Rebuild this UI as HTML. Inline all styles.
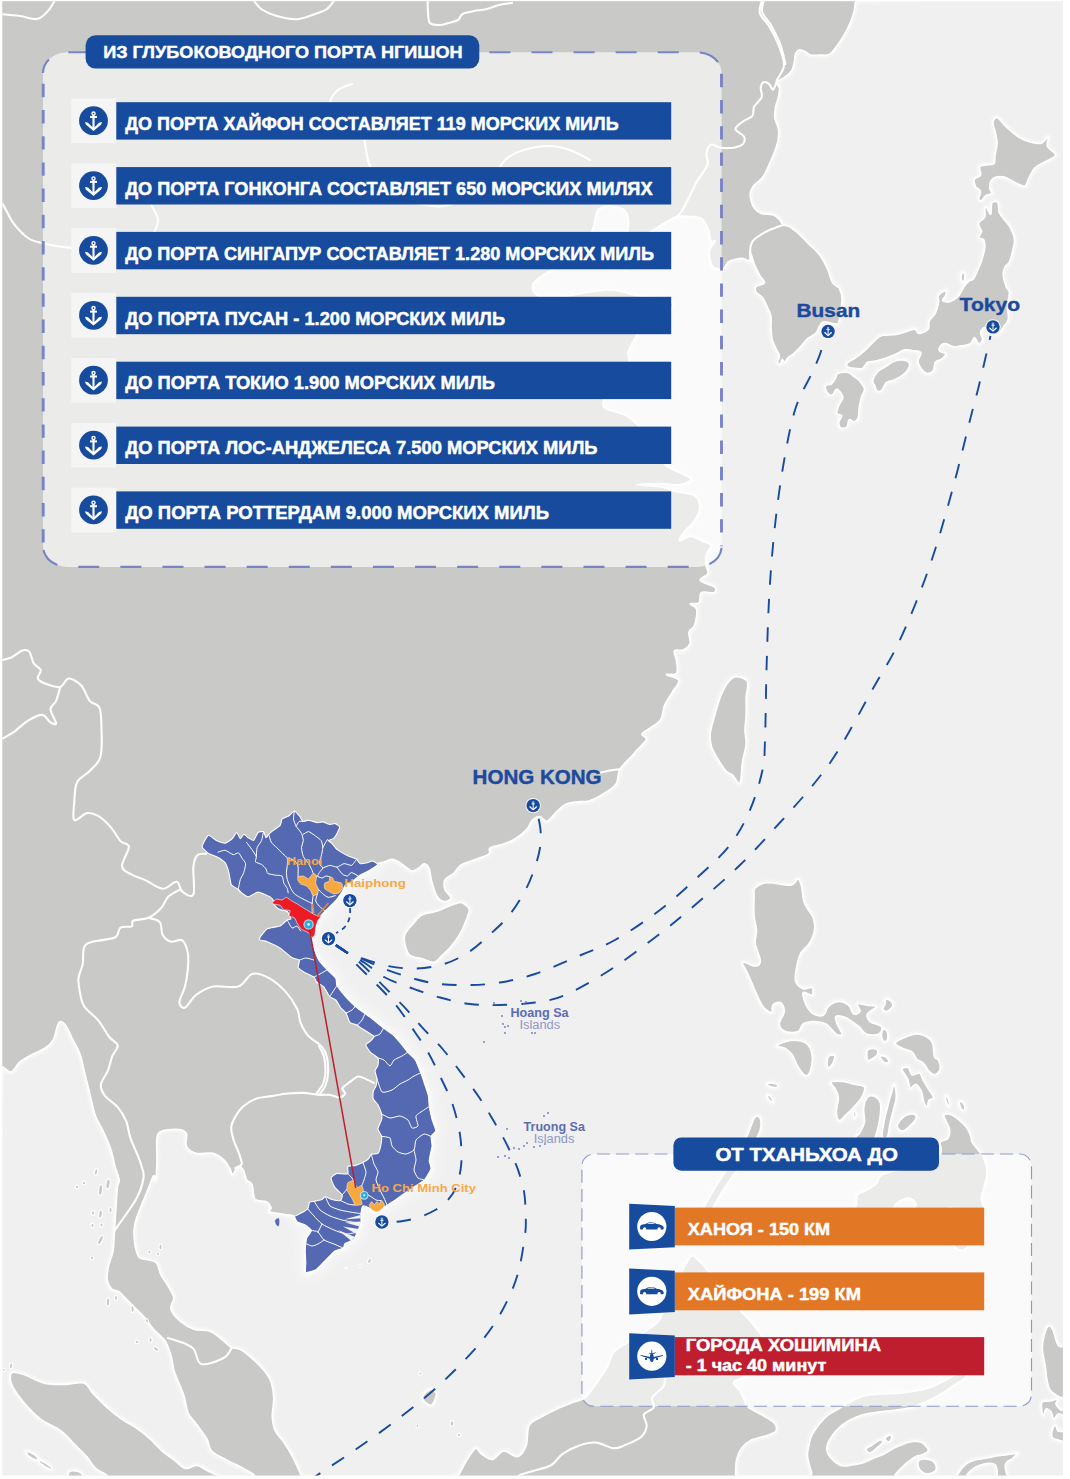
<!DOCTYPE html>
<html><head><meta charset="utf-8"><title>Map</title>
<style>html,body{margin:0;padding:0;background:#fff;}body{width:1070px;height:1479px;overflow:hidden;}svg{display:block;}text{font-family:"Liberation Sans",sans-serif;}</style></head><body>
<svg width="1070" height="1479" viewBox="0 0 1070 1479">
<defs><clipPath id="mapclip"><rect x="2.3" y="1.2" width="1060.6" height="1474.4"/></clipPath>
<filter id="glow" x="-20%" y="-20%" width="140%" height="140%"><feGaussianBlur stdDeviation="5"/></filter>
<filter id="glow2" x="-20%" y="-20%" width="140%" height="140%"><feGaussianBlur stdDeviation="1.6"/></filter>
</defs>
<rect width="1070" height="1479" fill="#fff"/>
<g clip-path="url(#mapclip)">
<rect x="0" y="0" width="1070" height="1479" fill="#f0f0f0"/>
<g fill="none" stroke="#fff" stroke-width="5" opacity="0.55" filter="url(#glow2)" stroke-linejoin="round">
<path d="M853.5,1112.5 C853.8,1111.5 855.1,1111.7 855.5,1112.3 C855.9,1112.9 856.2,1115.0 856.0,1116.0 C855.8,1117.0 854.4,1118.6 854.0,1118.0 C853.6,1117.4 853.2,1113.5 853.5,1112.5Z"/>
<path d="M855.5,-3.0 C998.6,-2.2 855.7,-0.9 855.5,1.5 C855.3,3.9 855.0,7.7 854.2,11.2 C853.4,14.7 852.2,18.3 850.5,22.4 C848.8,26.4 846.2,31.4 843.9,35.5 C841.5,39.5 838.9,43.5 836.4,46.7 C833.9,49.9 831.8,53.2 829.0,54.6 C826.2,56.0 822.7,55.0 819.6,55.1 C816.5,55.2 812.8,55.7 810.3,55.1 C807.8,54.5 806.6,52.2 804.7,51.4 C802.8,50.5 800.6,49.5 799.0,50.0 C797.4,50.5 796.1,52.2 795.3,54.2 C794.5,56.2 795.0,58.9 794.4,61.7 C793.8,64.5 793.3,68.3 791.6,71.0 C789.9,73.7 786.6,75.7 784.1,77.6 C781.6,79.5 777.4,80.5 776.6,82.2 C775.8,83.9 779.1,85.4 779.4,87.9 C779.7,90.4 779.1,94.1 778.5,97.2 C777.9,100.3 776.3,103.1 775.7,106.5 C775.1,109.9 774.3,114.0 774.8,117.8 C775.3,121.5 778.0,125.3 778.5,129.0 C779.0,132.7 778.7,136.5 778.1,140.2 C777.5,143.9 776.3,147.3 774.8,151.4 C773.3,155.5 771.2,160.1 769.2,164.5 C767.2,168.9 765.1,174.2 762.6,177.6 C760.1,181.0 756.2,182.6 754.2,185.0 C752.2,187.4 751.1,189.8 750.5,192.0 C749.9,194.2 749.9,195.3 750.5,198.0 C751.1,200.7 752.3,205.4 754.2,208.0 C756.1,210.6 758.6,212.5 761.7,213.6 C764.8,214.7 770.0,213.6 772.9,214.6 C775.8,215.6 777.7,217.6 779.4,219.3 C781.1,221.0 781.5,223.7 783.2,224.9 C784.9,226.1 787.1,225.1 789.7,226.7 C792.4,228.2 795.7,231.1 799.1,234.2 C802.5,237.3 806.9,242.0 810.3,245.4 C813.7,248.8 816.8,251.1 819.6,254.8 C822.4,258.6 824.9,263.2 827.1,267.9 C829.3,272.6 830.7,279.4 832.7,282.8 C834.7,286.2 837.7,285.6 839.3,288.4 C840.9,291.2 842.0,295.6 842.1,299.6 C842.2,303.7 841.0,308.6 840.2,312.7 C839.4,316.8 840.3,322.3 837.4,323.9 C834.5,325.4 826.6,320.5 823.0,322.0 C819.4,323.5 818.6,330.2 816.0,333.0 C813.4,335.8 810.0,336.7 807.5,338.9 C805.0,341.1 803.3,343.9 801.0,346.4 C798.7,348.9 795.7,351.9 793.5,353.8 C791.3,355.7 789.3,356.2 787.9,357.6 C786.5,359.0 786.0,361.9 785.0,362.2 C784.0,362.5 783.0,359.1 782.2,359.4 C781.4,359.7 781.2,363.6 780.4,364.1 C779.6,364.6 777.8,363.6 777.6,362.2 C777.4,360.8 779.7,358.0 779.4,355.7 C779.1,353.4 776.9,351.0 775.7,348.2 C774.5,345.4 772.8,342.3 772.0,338.9 C771.2,335.5 771.2,331.4 771.0,327.7 C770.8,323.9 771.6,319.8 771.0,316.4 C770.4,313.0 768.7,310.2 767.3,307.1 C765.9,304.0 764.5,300.3 762.6,297.8 C760.7,295.3 757.2,294.0 756.1,292.1 C755.0,290.2 754.7,288.1 756.1,286.5 C757.5,284.9 763.9,284.7 764.5,282.8 C765.1,280.9 761.5,278.4 759.8,275.3 C758.1,272.2 755.8,267.8 754.2,264.1 C752.7,260.4 751.3,253.5 750.5,252.9 C749.7,252.3 750.8,259.5 749.5,260.4 C748.2,261.3 745.3,258.7 743.0,258.5 C740.7,258.3 738.0,258.8 735.5,259.4 C733.0,260.0 730.0,260.6 728.0,262.2 C726.0,263.8 725.6,267.8 723.4,268.8 C721.2,269.8 717.1,268.9 715.0,268.0 C712.9,267.1 711.9,266.6 711.0,263.6 C710.1,260.6 709.0,253.8 709.7,250.0 C710.4,246.2 715.1,242.5 715.3,241.0 C715.5,239.5 712.0,242.8 710.9,241.0 C709.8,239.2 710.1,233.6 708.6,229.9 C707.1,226.2 704.9,220.9 701.9,218.7 C698.9,216.5 694.8,216.9 690.7,216.5 C686.6,216.1 681.0,215.8 677.2,216.5 C673.4,217.2 671.4,219.1 668.0,221.0 C664.6,222.9 661.8,224.7 657.0,227.7 C652.2,230.7 643.8,235.3 639.0,239.0 C634.2,242.7 630.2,245.0 628.0,250.0 C625.8,255.0 627.3,267.0 625.6,269.0 C623.9,271.0 618.8,266.0 618.0,262.0 C617.2,258.0 619.3,250.3 621.0,245.0 C622.7,239.7 627.2,235.5 628.0,230.0 C628.8,224.5 628.7,216.0 626.0,212.0 C623.3,208.0 616.7,206.3 612.0,206.0 C607.3,205.7 601.0,206.8 598.0,210.0 C595.0,213.2 595.7,220.0 594.0,225.0 C592.3,230.0 591.7,234.5 588.0,240.0 C584.3,245.5 578.7,252.7 572.0,258.0 C565.3,263.3 554.5,267.7 548.0,272.0 C541.5,276.3 534.7,280.0 533.0,284.0 C531.3,288.0 533.5,293.8 538.0,296.0 C542.5,298.2 551.3,297.7 560.0,297.0 C568.7,296.3 581.3,293.2 590.0,292.0 C598.7,290.8 603.7,289.3 612.0,290.0 C620.3,290.7 630.7,294.3 640.0,296.0 C649.3,297.7 662.7,298.0 668.0,300.0 C673.3,302.0 674.2,305.0 672.0,308.0 C669.8,311.0 660.3,314.3 655.0,318.0 C649.7,321.7 643.4,326.5 640.0,330.0 C636.6,333.5 636.6,335.3 634.6,339.0 C632.6,342.7 628.8,348.7 627.9,352.4 C627.0,356.1 630.0,357.1 629.0,361.4 C628.0,365.7 625.5,372.9 622.0,378.0 C618.5,383.1 611.1,388.0 608.0,392.0 C604.9,396.0 603.6,399.1 603.2,401.8 C602.8,404.6 601.7,406.3 605.4,408.5 C609.1,410.7 620.4,412.6 625.6,415.2 C630.8,417.8 633.1,420.4 636.8,424.2 C640.5,428.0 644.5,433.4 648.0,438.0 C651.5,442.6 655.0,447.4 658.0,452.0 C661.0,456.6 661.3,461.7 666.0,465.7 C670.7,469.7 682.1,473.4 686.2,475.8 C690.3,478.2 691.8,478.8 690.7,480.3 C689.6,481.8 684.3,484.2 679.4,484.8 C674.5,485.4 668.6,483.7 661.5,483.7 C654.4,483.7 636.8,484.2 636.8,484.8 C636.8,485.4 655.1,485.9 661.5,487.0 C667.9,488.1 669.4,490.0 675.0,491.5 C680.6,493.0 691.1,493.0 695.2,496.0 C699.3,499.0 700.0,504.9 699.6,509.4 C699.2,513.9 695.5,519.1 692.9,522.9 C690.3,526.6 686.1,528.9 683.9,531.9 C681.6,534.9 678.3,540.1 679.4,540.9 C680.5,541.6 687.0,536.4 690.7,536.4 C694.5,536.4 698.5,539.4 701.9,540.9 C705.3,542.4 710.1,543.1 710.9,545.3 C711.6,547.5 707.2,551.1 706.4,554.3 C705.5,557.5 705.5,561.5 705.8,564.7 C706.1,567.9 708.9,571.0 708.0,573.6 C707.1,576.2 699.1,578.1 700.2,580.4 C701.3,582.6 712.5,585.0 714.8,587.1 C717.0,589.2 716.0,591.8 713.7,592.7 C711.5,593.6 703.7,591.0 701.3,592.7 C698.9,594.4 701.0,600.9 699.1,602.8 C697.2,604.7 690.5,602.8 690.1,603.9 C689.7,605.0 696.0,606.0 696.8,609.5 C697.5,613.0 695.9,621.5 694.6,625.2 C693.3,629.0 689.8,629.0 689.0,632.0 C688.2,635.0 691.0,640.2 690.1,643.2 C689.2,646.2 686.0,648.6 683.4,649.9 C680.8,651.2 675.5,649.1 674.4,651.0 C673.3,652.9 676.2,657.4 676.6,661.1 C677.0,664.9 678.3,671.2 676.6,673.5 C674.9,675.8 666.1,673.5 666.5,674.6 C666.9,675.7 677.9,677.2 678.9,680.2 C679.9,683.2 674.6,688.2 672.2,692.5 C669.8,696.8 666.2,701.5 664.3,706.0 C662.4,710.5 663.3,715.7 660.9,719.4 C658.5,723.1 652.9,726.0 649.7,728.4 C646.5,730.8 642.5,732.1 641.9,734.0 C641.3,735.9 647.3,736.8 646.4,739.6 C645.5,742.4 638.5,748.3 636.3,750.8 C634.1,753.3 636.0,751.5 633.3,754.6 C630.6,757.7 622.7,764.4 619.9,769.2 C617.1,774.1 618.9,779.7 616.3,783.7 C613.7,787.8 608.5,790.6 604.1,793.5 C599.7,796.4 594.5,799.4 589.6,800.8 C584.8,802.2 579.1,801.4 575.0,802.0 C570.9,802.6 568.5,802.6 565.2,804.4 C562.0,806.2 558.5,810.1 555.5,812.9 C552.5,815.7 549.6,820.8 547.0,821.4 C544.4,822.0 542.1,816.7 539.7,816.5 C537.3,816.3 534.6,818.0 532.4,820.2 C530.2,822.4 529.4,826.7 526.4,829.9 C523.4,833.1 518.2,837.2 514.2,839.6 C510.2,842.0 506.2,843.1 502.1,844.5 C498.1,845.9 492.1,846.5 489.9,848.1 C487.7,849.7 491.5,852.2 488.7,854.2 C485.9,856.2 477.5,858.5 472.9,860.3 C468.2,862.1 464.0,863.0 460.8,865.2 C457.6,867.4 456.1,871.3 453.5,873.7 C450.9,876.1 446.4,877.1 445.0,879.7 C443.6,882.3 444.0,886.5 445.0,889.5 C446.0,892.5 451.2,896.0 451.0,898.0 C450.8,900.0 446.1,902.0 443.7,901.6 C441.3,901.2 438.5,899.0 436.5,895.5 C434.5,892.0 432.8,885.4 431.6,880.9 C430.4,876.4 430.4,871.6 429.2,868.8 C428.0,866.0 425.9,864.1 424.3,863.9 C422.7,863.7 421.4,866.4 419.4,867.6 C417.4,868.8 414.6,871.4 412.2,871.2 C409.8,871.0 407.3,868.0 404.9,866.4 C402.5,864.8 400.2,862.7 398.0,861.5 C395.8,860.3 394.0,859.2 391.7,859.3 C389.4,859.4 386.4,861.2 384.0,862.0 C381.6,862.8 379.5,862.7 377.1,864.1 C374.7,865.5 372.6,868.4 369.8,870.2 C367.0,872.0 362.9,873.3 360.1,875.1 C357.3,876.9 355.2,879.5 352.8,881.1 C350.4,882.7 347.3,883.0 345.5,884.8 C343.7,886.6 343.5,889.5 341.9,892.1 C340.3,894.7 337.8,898.2 335.8,900.6 C333.8,903.0 331.9,904.4 329.7,906.6 C327.5,908.8 324.4,911.5 322.4,913.9 C320.4,916.3 318.8,918.4 317.6,921.2 C316.4,924.0 316.2,928.1 315.2,930.9 C314.2,933.7 311.7,935.4 311.5,938.2 C311.3,941.0 312.7,944.2 313.9,947.9 C315.1,951.5 316.6,956.5 318.8,960.1 C321.0,963.8 324.5,966.8 327.3,969.8 C330.1,972.8 334.2,975.7 335.8,978.3 C337.4,980.9 335.4,982.5 337.0,985.6 C338.6,988.7 342.5,993.2 345.5,996.6 C348.5,1000.0 351.9,1003.5 355.2,1006.3 C358.4,1009.1 362.2,1011.5 365.0,1013.6 C367.8,1015.7 369.1,1016.3 372.2,1018.7 C375.3,1021.1 380.1,1025.3 383.5,1028.0 C386.9,1030.7 390.0,1032.1 392.8,1034.6 C395.6,1037.1 397.8,1040.0 400.3,1043.0 C402.8,1046.0 405.3,1049.5 407.8,1052.3 C410.3,1055.1 413.0,1056.4 415.2,1059.8 C417.4,1063.2 419.2,1068.9 420.8,1072.9 C422.4,1077.0 423.4,1080.4 424.6,1084.1 C425.9,1087.8 427.5,1091.6 428.3,1095.3 C429.1,1099.0 428.7,1102.5 429.3,1106.5 C429.9,1110.5 431.0,1115.5 432.1,1119.6 C433.2,1123.6 436.0,1128.0 435.8,1130.8 C435.6,1133.6 431.7,1133.9 431.1,1136.4 C430.5,1138.9 432.2,1142.7 432.1,1145.8 C432.0,1148.9 430.7,1152.5 430.2,1155.1 C429.7,1157.7 429.1,1158.9 429.2,1161.2 C429.3,1163.5 431.8,1165.6 431.0,1168.7 C430.2,1171.8 427.4,1176.8 424.5,1179.9 C421.6,1183.0 417.0,1184.9 413.3,1187.4 C409.6,1189.9 405.2,1192.7 402.1,1194.9 C399.0,1197.1 397.1,1198.8 394.6,1200.5 C392.1,1202.2 389.3,1203.7 387.1,1205.1 C384.9,1206.5 383.4,1207.8 381.5,1208.9 C379.6,1210.0 377.9,1211.9 375.9,1211.7 C373.9,1211.5 371.5,1208.9 369.3,1207.9 C367.1,1207.0 364.2,1205.0 362.8,1206.0 C361.4,1207.0 361.2,1210.8 360.9,1213.6 C360.6,1216.4 361.5,1219.8 360.9,1222.9 C360.3,1226.0 358.4,1229.4 357.2,1232.2 C356.0,1235.0 355.5,1237.8 353.5,1239.7 C351.5,1241.6 346.7,1242.1 345.0,1243.5 C343.3,1244.9 344.9,1246.9 343.2,1248.1 C341.5,1249.3 337.1,1249.5 334.8,1250.9 C332.5,1252.3 331.1,1254.6 329.2,1256.5 C327.3,1258.4 325.8,1259.9 323.6,1262.1 C321.4,1264.3 319.1,1267.9 316.1,1269.6 C313.1,1271.3 307.5,1273.7 305.8,1272.4 C304.1,1271.2 305.9,1265.7 305.8,1262.1 C305.7,1258.5 305.2,1254.0 305.2,1250.9 C305.2,1247.8 305.6,1245.7 305.8,1243.5 C306.1,1241.3 305.8,1240.1 306.7,1237.9 C307.6,1235.7 311.7,1232.6 311.4,1230.4 C311.1,1228.2 307.2,1226.2 304.9,1224.8 C302.6,1223.4 299.1,1223.4 297.4,1222.0 C295.7,1220.6 296.7,1217.7 294.6,1216.4 C292.5,1215.2 287.6,1215.0 285.0,1214.5 C282.4,1214.0 281.4,1214.1 278.7,1213.6 C276.0,1213.1 270.3,1212.6 269.0,1211.7 C267.7,1210.8 271.4,1209.6 271.0,1208.0 C270.6,1206.4 269.2,1203.4 266.5,1201.9 C263.8,1200.4 257.3,1201.9 254.9,1199.0 C252.5,1196.1 253.4,1187.7 252.0,1184.5 C250.6,1181.3 248.1,1182.4 246.7,1180.0 C245.2,1177.6 244.7,1172.2 243.3,1170.0 C241.9,1167.8 240.1,1165.8 238.3,1166.5 C236.5,1167.2 234.1,1174.0 232.7,1174.4 C231.3,1174.8 231.3,1171.1 229.9,1168.8 C228.5,1166.5 227.1,1163.0 224.3,1160.4 C221.5,1157.8 217.8,1154.6 213.1,1153.4 C208.4,1152.2 200.6,1154.6 196.2,1153.4 C191.8,1152.2 188.0,1149.6 186.4,1146.3 C184.8,1143.0 187.6,1136.5 186.4,1133.7 C185.2,1130.9 183.4,1130.0 179.4,1129.5 C175.4,1129.0 166.3,1129.5 162.6,1130.9 C158.9,1132.3 157.9,1133.0 157.0,1137.9 C156.1,1142.8 157.2,1153.4 157.0,1160.4 C156.8,1167.4 156.2,1177.4 155.6,1180.0 C155.0,1182.6 154.8,1174.1 153.5,1175.8 C152.2,1177.5 149.9,1185.0 147.7,1190.3 C145.5,1195.6 142.7,1201.9 140.5,1207.7 C138.3,1213.5 135.7,1219.2 134.7,1225.0 C133.7,1230.8 134.0,1237.1 134.7,1242.4 C135.4,1247.7 136.8,1254.0 139.0,1256.9 C141.2,1259.8 144.8,1258.8 147.7,1259.8 C150.6,1260.8 154.2,1260.3 156.4,1262.7 C158.6,1265.1 158.9,1270.4 160.8,1274.3 C162.7,1278.2 165.8,1282.0 168.0,1285.9 C170.2,1289.8 173.3,1293.7 173.8,1297.5 C174.3,1301.3 169.9,1305.2 170.9,1309.0 C171.9,1312.8 175.7,1317.2 179.6,1320.6 C183.5,1324.0 189.3,1327.6 194.1,1329.3 C198.9,1331.0 204.2,1329.3 208.6,1330.8 C212.9,1332.2 216.6,1335.3 220.2,1338.0 C223.8,1340.7 226.9,1344.8 230.3,1346.7 C233.7,1348.6 236.8,1347.7 240.4,1349.6 C244.0,1351.5 248.1,1354.9 252.0,1358.3 C255.9,1361.7 260.5,1366.0 263.6,1369.9 C266.8,1373.8 269.2,1376.7 270.9,1381.5 C272.6,1386.3 273.6,1393.1 273.8,1398.9 C274.0,1404.7 272.1,1410.9 272.3,1416.2 C272.5,1421.5 273.3,1426.4 275.2,1430.7 C277.1,1435.0 281.0,1438.0 283.9,1442.3 C286.8,1446.6 289.7,1451.2 292.6,1456.8 C295.5,1462.3 299.6,1471.4 301.3,1475.6 C303.0,1479.8 310.4,1480.9 303.0,1482.0 C295.6,1483.1 265.0,1483.1 257.0,1482.0 C249.0,1480.9 257.2,1477.9 254.9,1475.6 C252.6,1473.3 248.1,1471.1 243.3,1468.4 C238.5,1465.8 231.3,1462.6 226.0,1459.7 C220.7,1456.8 214.7,1454.4 211.5,1451.0 C208.3,1447.6 209.5,1443.8 207.1,1439.4 C204.7,1435.1 200.1,1429.2 197.0,1424.9 C193.9,1420.6 190.5,1418.1 188.3,1413.3 C186.1,1408.5 185.7,1401.3 184.0,1396.0 C182.3,1390.7 179.9,1385.8 178.2,1381.5 C176.5,1377.2 175.0,1374.2 173.8,1369.9 C172.6,1365.6 172.4,1360.2 170.9,1355.4 C169.4,1350.6 168.0,1345.2 165.1,1340.9 C162.2,1336.6 156.9,1333.2 153.5,1329.3 C150.1,1325.4 147.7,1321.1 144.8,1317.7 C141.9,1314.3 139.1,1311.9 136.2,1309.0 C133.3,1306.1 130.4,1303.3 127.5,1300.4 C124.6,1297.5 121.5,1293.6 118.8,1291.7 C116.1,1289.8 113.4,1290.7 111.5,1288.8 C109.6,1286.9 107.7,1284.0 107.2,1280.1 C106.7,1276.2 107.6,1270.4 108.6,1265.6 C109.6,1260.8 112.0,1256.9 113.0,1251.1 C114.0,1245.3 113.9,1238.0 114.4,1230.8 C114.9,1223.6 115.4,1214.9 115.9,1207.7 C116.4,1200.5 116.8,1192.0 117.3,1187.4 C117.8,1182.8 119.6,1183.6 119.2,1180.0 C118.8,1176.4 116.3,1171.2 114.9,1166.0 C113.5,1160.8 112.6,1154.7 110.7,1149.1 C108.8,1143.5 106.3,1137.9 103.7,1132.3 C101.1,1126.7 97.6,1122.0 95.3,1115.5 C93.0,1109.0 91.6,1100.6 89.7,1093.1 C87.8,1085.6 85.7,1077.1 84.1,1070.6 C82.5,1064.0 81.8,1058.9 79.9,1053.8 C78.0,1048.7 75.2,1044.5 72.9,1039.8 C70.6,1035.1 68.0,1028.8 65.9,1025.8 C63.8,1022.8 61.7,1021.6 60.3,1021.6 C58.9,1021.6 58.7,1022.8 57.5,1025.8 C56.3,1028.8 55.4,1036.1 53.3,1039.8 C51.2,1043.5 48.6,1045.6 44.9,1048.2 C41.1,1050.8 35.0,1052.9 30.8,1055.2 C26.6,1057.5 22.9,1059.4 19.6,1062.2 C16.3,1065.0 14.1,1071.3 11.2,1072.0 C8.3,1072.7 4.6,1067.9 2.2,1066.4 C-0.2,1064.9 -2.1,1241.2 -3.0,1063.0 C-3.9,884.8 -146.1,174.7 -3.0,-3.0 C140.1,-180.7 712.4,-3.8 855.5,-3.0Z"/>
<path d="M735.0,676.8 C738.4,676.4 745.4,677.9 747.3,681.3 C749.2,684.7 746.4,691.4 746.2,697.0 C746.0,702.6 746.4,709.4 746.2,715.0 C746.0,720.6 745.0,725.9 745.0,730.7 C745.0,735.6 746.6,738.9 746.2,744.1 C745.8,749.3 743.5,755.5 742.5,762.0 C741.5,768.5 741.7,780.8 740.0,783.0 C738.3,785.2 734.8,777.0 732.5,775.0 C730.2,773.0 728.6,773.9 726.0,771.0 C723.4,768.1 719.4,761.7 717.0,757.6 C714.6,753.5 712.5,750.5 711.4,746.4 C710.3,742.3 709.7,738.1 710.3,732.9 C710.9,727.7 713.1,721.0 714.8,715.0 C716.5,709.0 718.3,702.2 720.4,697.0 C722.5,691.8 724.7,687.0 727.1,683.6 C729.5,680.2 731.6,677.2 735.0,676.8Z"/>
<path d="M465.6,905.2 C467.0,906.5 469.5,906.9 469.3,910.1 C469.1,913.4 466.2,920.2 464.4,924.7 C462.6,929.2 460.5,933.1 458.3,936.8 C456.1,940.4 453.8,943.4 451.0,946.6 C448.2,949.9 444.1,953.7 441.3,956.3 C438.5,958.9 437.2,962.0 434.0,962.4 C430.8,962.8 425.9,959.9 421.9,958.7 C417.8,957.5 412.5,957.5 409.7,955.1 C406.9,952.7 405.7,947.6 404.9,944.1 C404.1,940.6 403.7,937.6 404.9,934.4 C406.1,931.2 409.4,927.9 412.2,924.7 C415.0,921.5 417.8,917.2 421.9,915.0 C425.9,912.8 431.6,912.9 436.5,911.3 C441.4,909.7 446.9,906.7 451.0,905.2 C455.1,903.7 458.4,902.3 460.8,902.3 C463.2,902.3 464.2,903.9 465.6,905.2Z"/>
<path d="M997.0,117.5 C999.2,118.2 1002.7,123.5 1006.3,126.7 C1009.9,129.9 1014.5,134.4 1018.6,137.0 C1022.7,139.6 1027.1,141.1 1030.9,142.1 C1034.7,143.1 1038.3,144.0 1041.2,143.2 C1044.1,142.3 1047.4,136.5 1048.4,137.0 C1049.4,137.5 1046.2,143.3 1047.4,146.3 C1048.6,149.3 1055.9,152.5 1055.6,155.1 C1055.2,157.7 1048.7,159.6 1045.3,161.7 C1041.9,163.8 1037.7,165.1 1035.0,167.8 C1032.3,170.5 1030.6,175.0 1028.9,178.1 C1027.2,181.2 1027.2,185.6 1024.8,186.3 C1022.4,187.0 1017.9,183.7 1014.5,182.2 C1011.1,180.7 1007.3,177.9 1004.2,177.1 C1001.1,176.2 998.2,176.4 996.0,177.1 C993.8,177.8 991.8,179.3 990.8,181.2 C989.8,183.1 989.6,186.3 989.8,188.4 C990.0,190.5 992.6,192.3 991.9,193.5 C991.2,194.7 987.4,194.4 985.7,195.6 C984.0,196.8 982.8,200.2 981.6,200.7 C980.4,201.2 978.7,200.2 978.5,198.7 C978.3,197.2 981.1,193.6 980.6,191.5 C980.1,189.4 976.4,188.4 975.4,186.3 C974.4,184.2 973.5,181.1 974.4,179.2 C975.3,177.3 979.8,177.1 980.6,175.0 C981.5,172.9 978.6,168.5 979.5,166.8 C980.4,165.1 983.3,165.3 985.7,164.8 C988.1,164.3 992.4,165.2 993.9,163.7 C995.4,162.1 994.4,158.9 994.9,155.5 C995.4,152.1 997.0,147.3 997.0,143.2 C997.0,139.1 995.6,134.2 994.9,130.8 C994.2,127.4 992.5,124.8 992.9,122.6 C993.2,120.4 994.8,116.8 997.0,117.5Z"/>
<path d="M986.7,207.9 C987.7,208.8 989.9,214.9 990.8,214.1 C991.7,213.2 990.7,204.7 991.9,202.8 C993.1,200.9 996.8,201.3 998.0,202.8 C999.2,204.3 998.2,209.4 999.1,212.0 C1000.0,214.6 1001.3,215.6 1003.2,218.2 C1005.1,220.8 1008.5,223.9 1010.4,227.5 C1012.3,231.1 1014.2,235.7 1014.5,239.8 C1014.8,243.9 1013.3,248.3 1012.4,252.1 C1011.5,255.9 1010.5,260.0 1009.3,262.4 C1008.1,264.8 1006.2,264.4 1005.2,266.5 C1004.2,268.6 1003.0,271.4 1003.2,274.8 C1003.4,278.2 1005.3,284.2 1006.3,287.1 C1007.3,290.0 1009.2,289.0 1009.4,292.3 C1009.6,295.6 1007.6,302.2 1007.4,306.7 C1007.2,311.2 1009.1,315.7 1008.4,319.1 C1007.7,322.5 1005.2,324.7 1003.3,327.3 C1001.4,329.9 999.5,333.8 997.1,334.5 C994.7,335.2 991.0,332.6 988.9,331.4 C986.8,330.2 986.2,327.1 984.8,327.3 C983.4,327.5 981.0,330.3 980.6,332.4 C980.2,334.4 983.0,337.7 982.7,339.6 C982.4,341.5 980.0,344.0 978.6,343.7 C977.2,343.4 975.9,337.6 974.5,337.6 C973.1,337.6 972.5,342.3 970.4,343.7 C968.3,345.1 964.9,345.3 962.1,345.8 C959.4,346.3 956.6,347.2 953.9,346.8 C951.2,346.4 947.9,343.9 945.7,343.7 C943.5,343.5 941.6,344.6 940.6,345.8 C939.6,347.0 938.6,349.5 939.5,350.9 C940.4,352.3 945.4,352.6 945.7,354.0 C946.1,355.4 943.3,357.8 941.6,359.2 C939.9,360.6 936.8,360.3 935.4,362.2 C934.0,364.1 934.8,368.6 933.4,370.5 C932.0,372.4 929.3,373.9 927.2,373.5 C925.1,373.1 922.5,370.4 921.0,368.4 C919.5,366.3 917.9,363.8 917.9,361.2 C917.9,358.6 921.5,354.7 921.0,353.0 C920.5,351.3 917.6,351.4 914.9,350.9 C912.2,350.4 907.7,349.4 904.6,349.9 C901.5,350.4 899.4,352.6 896.3,354.0 C893.2,355.4 889.5,356.9 886.1,358.1 C882.7,359.3 878.9,360.5 875.8,361.2 C872.7,361.9 869.8,361.0 867.6,362.2 C865.4,363.4 864.6,367.4 862.4,368.4 C860.2,369.4 856.8,368.8 854.2,368.4 C851.6,368.0 848.0,367.3 847.0,366.3 C846.0,365.3 846.6,363.6 848.0,362.2 C849.4,360.8 852.3,360.2 855.2,358.1 C858.1,356.1 862.1,353.0 865.5,349.9 C868.9,346.8 873.0,342.0 875.8,339.6 C878.5,337.2 878.6,336.4 882.0,335.5 C885.4,334.6 892.2,335.2 896.3,334.5 C900.4,333.8 903.5,332.3 906.6,331.4 C909.7,330.5 912.8,328.9 914.9,329.3 C917.0,329.7 916.8,333.5 919.0,333.5 C921.2,333.5 926.5,331.4 928.2,329.3 C929.9,327.2 928.0,323.8 929.2,321.1 C930.4,318.4 933.9,316.0 935.4,312.9 C936.9,309.8 938.0,305.5 938.5,302.6 C939.0,299.7 937.3,297.4 938.5,295.4 C939.7,293.3 944.5,290.3 945.7,290.3 C946.9,290.3 946.2,293.7 945.7,295.4 C945.2,297.1 941.9,299.6 942.6,300.6 C943.3,301.6 947.2,302.3 949.8,301.6 C952.4,300.9 955.6,299.0 958.0,296.4 C960.4,293.8 962.4,288.8 964.2,286.2 C966.0,283.6 967.5,282.2 969.0,281.0 C970.5,279.8 972.0,280.6 973.4,278.9 C974.8,277.2 976.1,273.7 977.5,270.6 C978.9,267.5 980.4,264.2 981.6,260.4 C982.8,256.6 984.4,251.4 984.7,248.0 C985.0,244.6 984.6,241.5 983.6,239.8 C982.6,238.1 978.8,239.1 978.5,237.7 C978.2,236.3 981.6,234.0 981.6,231.6 C981.6,229.2 978.0,225.8 978.5,223.4 C979.0,221.0 983.7,219.6 984.7,217.2 C985.7,214.8 984.4,210.6 984.7,209.0 C985.0,207.4 985.7,207.1 986.7,207.9Z"/>
<path d="M872.7,380.7 C873.2,378.3 875.6,373.9 877.8,371.5 C880.0,369.1 883.4,368.0 886.1,366.3 C888.9,364.6 891.2,362.2 894.3,361.2 C897.4,360.2 902.0,359.7 904.6,360.2 C907.2,360.7 909.4,362.4 909.7,364.3 C910.0,366.2 908.1,369.4 906.6,371.5 C905.1,373.6 902.9,375.1 900.5,376.6 C898.1,378.1 894.6,379.7 892.2,380.7 C889.8,381.7 887.8,381.2 886.1,382.8 C884.4,384.4 883.5,388.6 882.0,390.0 C880.5,391.4 878.0,391.7 876.8,391.0 C875.6,390.3 875.5,387.6 874.8,385.9 C874.1,384.2 872.2,383.1 872.7,380.7Z"/>
<path d="M837.8,373.5 C839.8,372.6 845.3,372.0 848.0,372.5 C850.7,373.0 852.3,375.2 854.2,376.6 C856.1,378.0 857.6,378.6 859.3,380.7 C861.0,382.8 864.1,386.2 864.5,389.0 C864.9,391.8 862.3,394.1 861.4,397.2 C860.5,400.3 859.8,404.1 859.3,407.5 C858.8,410.9 859.1,415.4 858.3,417.8 C857.4,420.2 855.7,421.6 854.2,421.9 C852.7,422.2 850.3,418.9 849.1,419.8 C847.9,420.7 848.4,425.6 847.0,427.0 C845.6,428.4 842.2,428.9 840.8,428.0 C839.4,427.1 838.6,423.9 838.8,421.9 C839.0,419.8 842.2,417.1 841.9,415.7 C841.5,414.3 837.2,415.3 836.7,413.6 C836.2,411.9 837.8,408.1 838.8,405.4 C839.8,402.7 843.2,399.9 842.9,397.2 C842.5,394.5 838.4,389.4 836.7,389.0 C835.0,388.6 834.1,394.4 832.6,395.1 C831.1,395.8 828.7,394.6 827.5,393.1 C826.3,391.6 824.7,387.4 825.4,385.9 C826.1,384.3 829.9,385.2 831.6,383.8 C833.3,382.4 834.7,379.4 835.7,377.7 C836.7,376.0 835.8,374.4 837.8,373.5Z"/>
<path d="M963.0,271.7 C963.6,272.0 964.9,274.3 965.0,276.0 C965.1,277.7 964.2,281.5 963.5,282.0 C962.8,282.5 961.3,280.3 961.0,279.0 C960.7,277.7 961.2,275.2 961.5,274.0 C961.8,272.8 962.4,271.4 963.0,271.7Z"/>
<path d="M755.2,887.8 C757.5,885.3 761.9,883.1 767.8,882.7 C773.7,882.3 785.5,885.8 790.6,885.2 C795.7,884.6 796.2,878.5 798.1,878.9 C800.0,879.3 800.9,883.8 801.9,887.8 C802.9,891.8 802.5,897.9 804.4,902.9 C806.3,907.9 811.6,913.4 813.3,918.0 C815.0,922.6 815.1,926.5 814.5,930.7 C813.9,934.9 811.8,939.5 809.5,943.3 C807.2,947.1 802.8,949.6 800.7,953.4 C798.6,957.2 797.8,961.4 796.9,966.0 C796.0,970.6 794.5,977.3 795.6,981.1 C796.7,984.9 800.5,987.7 803.2,988.7 C805.9,989.8 810.5,986.4 812.0,987.4 C813.5,988.4 813.5,994.1 812.0,995.0 C810.5,995.9 804.2,991.0 803.2,992.5 C802.2,994.0 804.0,1000.2 805.7,1003.8 C807.4,1007.4 810.3,1012.0 813.3,1013.9 C816.2,1015.8 820.9,1016.5 823.4,1015.2 C825.9,1014.0 825.9,1008.7 828.4,1006.4 C830.9,1004.1 835.1,1001.5 838.5,1001.3 C841.9,1001.1 846.1,1003.0 848.6,1005.1 C851.1,1007.2 851.7,1012.9 853.6,1013.9 C855.5,1014.9 859.4,1013.1 860.0,1011.4 C860.6,1009.7 856.4,1004.8 857.4,1003.8 C858.4,1002.8 863.1,1004.7 866.3,1005.1 C869.5,1005.5 876.2,1004.9 876.4,1006.4 C876.6,1007.9 868.6,1011.4 867.5,1013.9 C866.4,1016.4 867.7,1019.4 870.0,1021.5 C872.3,1023.6 879.9,1024.4 881.4,1026.5 C882.9,1028.6 881.4,1032.8 878.9,1034.1 C876.4,1035.4 869.7,1035.4 866.3,1034.1 C862.9,1032.8 862.1,1029.2 858.7,1026.5 C855.3,1023.8 849.9,1019.4 846.1,1017.7 C842.3,1016.0 837.5,1015.4 836.0,1016.4 C834.5,1017.4 836.2,1021.0 837.2,1024.0 C838.2,1027.0 842.5,1032.4 842.3,1034.1 C842.1,1035.8 838.7,1035.8 836.0,1034.1 C833.3,1032.4 829.7,1026.1 825.9,1024.0 C822.1,1021.9 817.1,1021.5 813.3,1021.5 C809.5,1021.5 805.7,1022.3 803.2,1024.0 C800.7,1025.7 801.1,1030.3 798.1,1031.6 C795.1,1032.9 788.6,1032.9 785.5,1031.6 C782.4,1030.3 779.4,1027.4 779.2,1024.0 C779.0,1020.6 784.1,1015.0 784.3,1011.4 C784.5,1007.8 782.4,1003.6 780.5,1002.6 C778.6,1001.6 774.4,1003.4 772.9,1005.1 C771.4,1006.8 773.3,1012.5 771.6,1012.7 C769.9,1012.9 765.5,1010.0 762.8,1006.4 C760.1,1002.8 757.7,996.7 755.2,991.2 C752.7,985.7 749.8,978.4 747.7,973.6 C745.6,968.8 741.4,963.5 742.6,962.2 C743.9,960.9 752.2,966.2 755.2,966.0 C758.2,965.8 760.3,964.7 760.3,960.9 C760.3,957.1 755.8,948.3 755.2,943.3 C754.6,938.3 756.7,935.3 756.5,930.7 C756.3,926.1 754.4,921.0 754.0,915.5 C753.6,910.0 753.8,902.5 754.0,897.9 C754.2,893.3 752.9,890.3 755.2,887.8Z"/>
<path d="M776.7,1045.5 C777.8,1044.2 785.8,1040.8 790.6,1040.4 C795.4,1040.0 802.1,1040.6 805.7,1042.9 C809.3,1045.2 811.1,1049.9 812.0,1054.3 C812.9,1058.7 811.8,1065.8 810.8,1069.4 C809.8,1073.0 807.8,1076.1 805.7,1075.7 C803.6,1075.3 800.4,1070.5 798.1,1066.9 C795.8,1063.3 794.1,1057.5 791.8,1054.3 C789.5,1051.1 786.8,1049.5 784.3,1048.0 C781.8,1046.5 775.7,1046.8 776.7,1045.5Z"/>
<path d="M895.3,1042.9 C896.1,1041.0 902.6,1038.1 906.6,1036.6 C910.6,1035.1 915.1,1033.2 919.3,1034.1 C923.5,1034.9 929.4,1037.9 931.9,1041.7 C934.4,1045.5 933.3,1053.8 934.4,1056.8 C935.5,1059.8 937.3,1057.9 938.3,1060.0 C939.3,1062.1 940.8,1066.8 940.2,1069.3 C939.6,1071.8 936.5,1074.7 934.6,1075.0 C932.7,1075.3 930.6,1072.8 929.0,1071.2 C927.4,1069.6 926.4,1067.1 925.2,1065.6 C924.0,1064.0 923.2,1063.0 921.8,1061.9 C920.4,1060.9 918.4,1061.0 916.7,1059.3 C915.0,1057.6 914.2,1053.7 911.7,1051.8 C909.2,1049.9 904.3,1049.5 901.6,1048.0 C898.9,1046.5 894.5,1044.8 895.3,1042.9Z"/>
<path d="M901.9,1069.3 C902.0,1067.4 906.7,1066.5 908.4,1067.5 C910.1,1068.5 910.2,1074.1 912.1,1075.0 C914.0,1075.9 917.7,1072.2 919.6,1073.1 C921.5,1074.0 921.8,1077.8 923.4,1080.6 C925.0,1083.4 927.3,1087.1 929.0,1089.9 C930.7,1092.7 933.6,1095.7 933.6,1097.4 C933.6,1099.1 930.1,1098.7 929.0,1100.2 C927.9,1101.8 928.0,1106.6 927.1,1106.7 C926.2,1106.8 924.3,1103.6 923.4,1101.1 C922.5,1098.6 922.8,1094.6 921.5,1091.8 C920.2,1089.0 917.8,1084.9 915.9,1084.3 C914.0,1083.7 911.7,1088.9 910.3,1088.0 C908.9,1087.1 908.9,1081.8 907.5,1078.7 C906.1,1075.6 901.8,1071.2 901.9,1069.3Z"/>
<path d="M830.8,1082.4 C832.2,1081.3 839.1,1081.2 843.0,1081.5 C846.9,1081.8 850.6,1083.4 854.2,1084.3 C857.8,1085.2 863.2,1084.9 864.5,1087.1 C865.8,1089.3 863.4,1094.1 861.7,1097.4 C860.0,1100.7 856.7,1103.9 854.2,1106.7 C851.7,1109.5 849.2,1111.9 846.7,1114.2 C844.2,1116.5 841.0,1121.0 839.3,1120.7 C837.6,1120.4 836.6,1116.2 836.4,1112.3 C836.2,1108.4 838.6,1101.5 838.3,1097.4 C838.0,1093.4 835.9,1090.5 834.6,1088.0 C833.4,1085.5 829.4,1083.5 830.8,1082.4Z"/>
<path d="M867.3,1097.4 C869.2,1095.4 872.6,1095.5 874.8,1096.4 C877.0,1097.3 879.5,1100.0 880.4,1103.0 C881.3,1106.0 880.7,1110.5 880.4,1114.2 C880.1,1117.9 879.3,1121.7 878.5,1125.4 C877.7,1129.1 876.6,1133.2 875.5,1136.6 C874.4,1140.0 873.9,1144.1 872.0,1146.0 C870.1,1147.9 866.5,1148.5 864.0,1148.0 C861.5,1147.5 858.3,1144.9 857.0,1143.0 C855.7,1141.1 855.5,1138.3 856.0,1136.6 C856.5,1134.9 858.4,1135.4 859.8,1132.9 C861.2,1130.4 863.9,1125.8 864.5,1121.7 C865.1,1117.7 863.1,1112.6 863.6,1108.6 C864.1,1104.5 865.4,1099.4 867.3,1097.4Z"/>
<path d="M894.4,1084.3 C895.2,1084.9 896.5,1093.0 896.3,1097.4 C896.1,1101.8 894.2,1106.1 893.2,1110.5 C892.2,1114.9 891.0,1119.2 890.0,1123.6 C889.0,1127.9 888.8,1134.4 887.5,1136.6 C886.2,1138.8 882.8,1139.1 882.2,1136.6 C881.6,1134.1 883.1,1126.7 884.0,1121.7 C884.9,1116.7 886.4,1111.4 887.6,1106.7 C888.8,1102.0 890.1,1097.3 891.2,1093.6 C892.3,1089.9 893.5,1083.7 894.4,1084.3Z"/>
<path d="M897.2,1125.4 C897.7,1122.9 901.9,1118.0 904.7,1116.1 C907.5,1114.2 912.1,1113.7 914.0,1114.2 C915.9,1114.7 916.8,1116.7 915.9,1118.9 C915.0,1121.1 910.7,1125.3 908.4,1127.3 C906.1,1129.3 903.8,1131.3 901.9,1131.0 C900.0,1130.7 896.7,1127.9 897.2,1125.4Z"/>
<path d="M829.0,1056.0 C830.2,1054.9 833.8,1054.4 834.5,1055.6 C835.2,1056.8 834.0,1060.9 833.0,1063.0 C832.0,1065.1 829.5,1068.2 828.5,1068.0 C827.5,1067.8 826.9,1064.0 827.0,1062.0 C827.1,1060.0 827.8,1057.1 829.0,1056.0Z"/>
<path d="M867.5,1050.0 C868.9,1048.2 874.3,1048.3 876.0,1049.0 C877.7,1049.7 878.3,1052.3 877.6,1054.0 C876.9,1055.7 873.7,1058.0 872.0,1059.0 C870.3,1060.0 868.2,1061.5 867.5,1060.0 C866.8,1058.5 866.1,1051.8 867.5,1050.0Z"/>
<path d="M880.0,1056.0 C880.3,1055.1 884.5,1056.0 886.0,1057.0 C887.5,1058.0 889.3,1061.1 889.0,1062.0 C888.7,1062.9 885.5,1063.5 884.0,1062.5 C882.5,1061.5 879.7,1056.9 880.0,1056.0Z"/>
<path d="M886.0,999.0 C887.0,998.5 889.9,999.8 891.0,1001.0 C892.1,1002.2 893.5,1004.3 892.8,1006.0 C892.1,1007.7 888.7,1010.9 887.0,1011.4 C885.3,1011.9 883.0,1010.2 882.7,1009.0 C882.4,1007.8 884.5,1005.7 885.0,1004.0 C885.5,1002.3 885.0,999.5 886.0,999.0Z"/>
<path d="M883.0,1029.5 C883.9,1028.7 886.2,1029.4 887.0,1031.0 C887.8,1032.6 888.2,1037.2 887.7,1039.0 C887.2,1040.8 885.0,1042.2 884.0,1041.7 C883.0,1041.2 881.6,1038.0 881.4,1036.0 C881.2,1034.0 882.1,1030.3 883.0,1029.5Z"/>
<path d="M946.0,1095.5 C946.5,1095.3 947.9,1097.1 948.5,1099.0 C949.1,1100.9 949.7,1105.7 949.5,1106.7 C949.3,1107.7 948.1,1106.1 947.5,1105.0 C946.9,1103.9 946.0,1101.6 945.8,1100.0 C945.5,1098.4 945.5,1095.7 946.0,1095.5Z"/>
<path d="M960.0,1101.0 C960.7,1100.8 963.2,1102.5 964.0,1104.0 C964.8,1105.5 965.1,1109.1 964.7,1110.0 C964.3,1110.9 962.4,1110.3 961.5,1109.5 C960.6,1108.7 959.9,1106.4 959.6,1105.0 C959.4,1103.6 959.3,1101.2 960.0,1101.0Z"/>
<path d="M766.6,1084.0 C766.9,1083.4 770.1,1082.8 772.0,1083.0 C773.9,1083.2 777.3,1084.2 778.0,1085.0 C778.7,1085.8 777.3,1087.2 776.0,1087.5 C774.7,1087.8 771.6,1087.1 770.0,1086.5 C768.4,1085.9 766.3,1084.6 766.6,1084.0Z"/>
<path d="M768.0,1095.0 C768.5,1094.8 770.2,1095.8 771.0,1097.0 C771.8,1098.2 773.0,1101.2 772.9,1102.0 C772.8,1102.8 771.4,1102.2 770.5,1101.5 C769.6,1100.8 768.2,1099.1 767.8,1098.0 C767.4,1096.9 767.5,1095.2 768.0,1095.0Z"/>
<path d="M754.0,1118.6 C755.2,1116.9 756.8,1115.6 758.0,1116.0 C759.2,1116.4 760.7,1118.5 761.0,1121.0 C761.3,1123.5 761.2,1127.3 760.0,1131.0 C758.8,1134.7 756.3,1138.8 754.0,1143.0 C751.7,1147.2 748.7,1151.8 746.0,1156.0 C743.3,1160.2 740.7,1164.0 738.0,1168.0 C735.3,1172.0 732.7,1176.0 730.0,1180.0 C727.3,1184.0 724.5,1188.0 722.0,1192.0 C719.5,1196.0 717.2,1200.0 715.0,1204.0 C712.8,1208.0 711.0,1213.7 709.0,1216.0 C707.0,1218.3 704.0,1219.0 703.0,1218.0 C702.0,1217.0 702.0,1213.3 703.0,1210.0 C704.0,1206.7 706.8,1202.0 709.0,1198.0 C711.2,1194.0 713.5,1190.0 716.0,1186.0 C718.5,1182.0 721.3,1178.0 724.0,1174.0 C726.7,1170.0 729.3,1166.2 732.0,1162.0 C734.7,1157.8 737.5,1153.3 740.0,1149.0 C742.5,1144.7 745.2,1139.8 747.0,1136.0 C748.8,1132.2 749.8,1128.9 751.0,1126.0 C752.2,1123.1 752.8,1120.3 754.0,1118.6Z"/>
<path d="M943.9,1116.1 C943.9,1113.6 947.0,1113.6 949.5,1114.2 C952.0,1114.8 956.1,1117.6 958.9,1119.8 C961.7,1122.0 964.4,1124.5 966.4,1127.3 C968.4,1130.1 970.1,1134.1 971.0,1136.6 C971.9,1139.1 970.6,1139.7 972.0,1142.2 C973.4,1144.7 977.2,1148.5 979.4,1151.6 C981.6,1154.7 983.8,1157.2 985.0,1160.9 C986.2,1164.6 987.0,1169.6 986.9,1174.0 C986.8,1178.4 985.0,1183.0 984.1,1187.1 C983.2,1191.1 981.3,1194.5 981.3,1198.3 C981.3,1202.1 984.2,1205.7 984.0,1210.0 C983.8,1214.3 982.0,1219.3 980.0,1224.0 C978.0,1228.7 974.7,1233.7 972.0,1238.0 C969.3,1242.3 967.0,1248.7 964.0,1250.0 C961.0,1251.3 956.0,1248.7 954.0,1246.0 C952.0,1243.3 951.7,1238.3 952.0,1234.0 C952.3,1229.7 956.0,1224.3 956.0,1220.0 C956.0,1215.7 954.0,1209.3 952.0,1208.0 C950.0,1206.7 946.0,1209.0 944.0,1212.0 C942.0,1215.0 942.3,1222.7 940.0,1226.0 C937.7,1229.3 933.7,1231.7 930.0,1232.0 C926.3,1232.3 921.0,1231.0 918.0,1228.0 C915.0,1225.0 912.3,1218.0 912.0,1214.0 C911.7,1210.0 916.7,1206.7 916.0,1204.0 C915.3,1201.3 911.3,1198.0 908.0,1198.0 C904.7,1198.0 899.0,1201.3 896.0,1204.0 C893.0,1206.7 893.0,1212.0 890.0,1214.0 C887.0,1216.0 881.7,1214.0 878.0,1216.0 C874.3,1218.0 871.0,1222.7 868.0,1226.0 C865.0,1229.3 862.7,1235.0 860.0,1236.0 C857.3,1237.0 853.7,1235.0 852.0,1232.0 C850.3,1229.0 849.3,1222.4 850.0,1218.0 C850.7,1213.6 854.7,1209.7 856.0,1205.8 C857.3,1201.9 856.3,1197.1 857.9,1194.6 C859.5,1192.1 862.3,1192.7 865.4,1190.8 C868.5,1188.9 874.1,1185.9 876.6,1183.4 C879.1,1180.9 878.2,1177.8 880.4,1175.9 C882.6,1174.0 885.7,1173.3 889.7,1172.1 C893.8,1170.8 899.4,1170.3 904.7,1168.4 C910.0,1166.5 915.6,1163.4 921.5,1160.9 C927.4,1158.4 937.1,1156.6 940.2,1153.5 C943.3,1150.4 939.0,1144.7 940.2,1142.2 C941.5,1139.7 946.2,1140.7 947.7,1138.5 C949.2,1136.3 950.1,1132.9 949.5,1129.2 C948.9,1125.5 943.9,1118.6 943.9,1116.1Z"/>
<path d="M692.0,1256.0 C694.3,1255.7 696.7,1258.7 700.0,1262.0 C703.3,1265.3 708.0,1271.3 712.0,1276.0 C716.0,1280.7 720.3,1285.7 724.0,1290.0 C727.7,1294.3 731.0,1298.3 734.0,1302.0 C737.0,1305.7 739.1,1309.2 741.7,1312.3 C744.4,1315.4 747.2,1317.5 749.9,1320.6 C752.6,1323.7 756.0,1328.1 758.1,1330.8 C760.2,1333.5 761.2,1333.8 762.2,1337.0 C763.2,1340.2 764.7,1345.3 764.0,1350.0 C763.3,1354.7 761.0,1360.7 758.0,1365.0 C755.0,1369.3 750.1,1373.1 746.0,1376.0 C741.9,1378.9 734.6,1379.8 733.5,1382.2 C732.4,1384.6 737.9,1387.8 739.6,1390.5 C741.3,1393.2 742.3,1396.0 743.7,1398.7 C745.1,1401.4 744.7,1404.2 747.8,1406.9 C750.9,1409.6 757.7,1412.3 762.2,1415.1 C766.7,1417.8 772.4,1420.7 774.6,1423.4 C776.8,1426.2 777.0,1429.5 775.6,1431.6 C774.2,1433.6 770.2,1434.3 766.3,1435.7 C762.4,1437.1 756.1,1437.8 752.0,1439.8 C747.9,1441.8 744.3,1444.6 741.7,1448.0 C739.1,1451.4 737.5,1455.9 736.5,1460.4 C735.5,1464.9 735.8,1471.2 735.5,1474.8 C735.2,1478.4 781.8,1480.8 735.0,1482.0 C688.2,1483.2 501.0,1483.2 455.0,1482.0 C409.0,1480.8 456.8,1478.6 458.9,1474.8 C460.9,1471.0 464.5,1463.8 467.3,1459.4 C470.1,1455.0 473.4,1449.1 475.7,1448.2 C478.0,1447.3 478.5,1451.9 481.3,1453.8 C484.1,1455.7 488.8,1459.9 492.5,1459.4 C496.2,1458.9 499.5,1451.5 503.7,1451.0 C507.9,1450.5 514.0,1457.5 517.7,1456.6 C521.5,1455.7 524.3,1450.5 526.2,1445.4 C528.1,1440.3 526.7,1430.5 529.0,1425.8 C531.3,1421.1 535.5,1420.2 540.2,1417.4 C544.9,1414.6 551.4,1411.6 557.0,1409.0 C562.6,1406.4 569.1,1403.9 573.8,1402.0 C578.5,1400.1 581.3,1400.8 585.0,1397.7 C588.7,1394.7 592.5,1388.8 596.2,1383.7 C600.0,1378.6 604.7,1372.0 607.5,1366.9 C610.3,1361.8 610.3,1356.6 613.1,1352.9 C615.9,1349.2 619.8,1347.5 624.3,1344.5 C628.8,1341.5 634.4,1338.7 640.0,1335.0 C645.6,1331.3 654.0,1326.1 657.9,1322.1 C661.8,1318.1 661.5,1314.8 663.5,1310.8 C665.5,1306.8 667.6,1303.1 670.0,1298.0 C672.4,1292.9 675.3,1285.7 678.0,1280.0 C680.7,1274.3 683.7,1268.0 686.0,1264.0 C688.3,1260.0 689.7,1256.3 692.0,1256.0Z"/>
<path d="M11.6,1372.8 C13.5,1371.1 17.9,1372.5 23.2,1374.2 C28.5,1375.9 36.8,1381.2 43.5,1382.9 C50.2,1384.6 57.0,1384.4 63.7,1384.4 C70.5,1384.4 79.2,1381.5 84.0,1382.9 C88.8,1384.4 88.8,1389.0 92.7,1393.1 C96.6,1397.2 102.4,1403.2 107.2,1407.5 C112.0,1411.8 116.9,1415.7 121.7,1419.1 C126.5,1422.5 131.4,1424.4 136.2,1427.8 C141.0,1431.2 146.3,1435.5 150.6,1439.4 C154.9,1443.3 158.3,1447.6 162.2,1451.0 C166.1,1454.4 169.9,1456.8 173.8,1459.7 C177.7,1462.6 181.5,1467.4 185.4,1468.4 C189.3,1469.4 193.1,1465.0 197.0,1465.5 C200.9,1466.0 205.2,1469.6 208.6,1471.3 C212.0,1473.0 215.1,1473.8 217.3,1475.6 C219.5,1477.4 239.9,1480.9 222.0,1482.0 C204.1,1483.1 129.1,1483.1 110.0,1482.0 C90.9,1480.9 109.6,1477.9 107.2,1475.6 C104.8,1473.3 99.0,1471.5 95.6,1468.4 C92.2,1465.3 90.3,1460.7 86.9,1456.8 C83.5,1452.9 79.7,1449.5 75.3,1445.2 C70.9,1440.9 66.6,1435.1 60.8,1430.7 C55.0,1426.3 46.9,1423.9 40.6,1419.1 C34.3,1414.3 28.0,1407.6 23.2,1401.8 C18.4,1396.0 13.5,1389.2 11.6,1384.4 C9.7,1379.6 9.7,1374.5 11.6,1372.8Z"/>
<path d="M26.0,1452.0 C26.3,1451.3 29.0,1451.5 31.0,1452.5 C33.0,1453.5 37.2,1456.8 38.0,1458.0 C38.8,1459.2 37.5,1460.2 36.0,1460.0 C34.5,1459.8 30.7,1457.8 29.0,1456.5 C27.3,1455.2 25.7,1452.7 26.0,1452.0Z"/>
<path d="M38.0,1459.5 C38.5,1459.2 41.7,1460.6 44.0,1462.0 C46.3,1463.4 51.2,1466.8 52.0,1468.0 C52.8,1469.2 50.8,1469.7 49.0,1469.0 C47.2,1468.3 42.8,1465.6 41.0,1464.0 C39.2,1462.4 37.5,1459.8 38.0,1459.5Z"/>
<path d="M69.0,1472.0 C70.2,1470.2 73.8,1470.7 76.0,1471.0 C78.2,1471.3 81.0,1472.2 82.0,1474.0 C83.0,1475.8 84.2,1480.7 82.0,1482.0 C79.8,1483.3 71.2,1483.7 69.0,1482.0 C66.8,1480.3 67.8,1473.8 69.0,1472.0Z"/>
<path d="M422.4,1397.0 C423.1,1394.7 427.7,1389.8 430.0,1389.3 C432.3,1388.8 436.1,1391.4 436.4,1394.0 C436.7,1396.6 433.7,1403.3 432.0,1404.8 C430.3,1406.3 427.6,1404.3 426.0,1403.0 C424.4,1401.7 421.7,1399.3 422.4,1397.0Z"/>
<path d="M814.0,1482.0 C800.7,1480.5 812.7,1477.0 811.6,1472.7 C810.5,1468.4 807.9,1460.9 807.5,1456.3 C807.1,1451.7 808.3,1448.4 809.0,1445.0 C809.7,1441.6 809.8,1439.3 811.6,1435.7 C813.4,1432.1 817.1,1426.9 819.8,1423.4 C822.5,1420.0 824.9,1417.4 828.0,1415.0 C831.1,1412.6 834.6,1411.2 838.3,1409.0 C842.0,1406.8 845.8,1404.1 850.0,1402.0 C854.2,1399.9 858.4,1397.6 863.4,1396.3 C868.4,1395.0 873.8,1394.5 880.0,1394.0 C886.2,1393.5 894.4,1393.7 900.4,1393.2 C906.4,1392.7 910.9,1392.0 916.0,1391.0 C921.1,1390.0 926.9,1388.6 931.2,1387.1 C935.5,1385.6 938.4,1383.8 942.0,1382.0 C945.6,1380.2 949.6,1378.1 952.8,1376.3 C956.0,1374.5 958.6,1371.7 961.0,1371.0 C963.4,1370.3 966.3,1370.8 967.0,1372.0 C967.7,1373.2 966.9,1376.0 965.0,1378.0 C963.1,1380.0 958.9,1382.0 955.9,1384.0 C952.9,1386.0 950.1,1388.0 947.0,1390.0 C943.9,1392.0 941.1,1394.0 937.4,1396.0 C933.7,1398.0 929.1,1400.2 925.0,1402.0 C920.9,1403.8 917.5,1405.7 912.7,1407.0 C907.9,1408.3 901.6,1409.2 896.0,1410.0 C890.4,1410.8 884.5,1411.2 878.8,1412.0 C873.1,1412.8 866.8,1413.7 862.0,1415.0 C857.2,1416.3 853.7,1418.0 850.0,1420.0 C846.3,1422.0 843.0,1424.3 840.0,1427.0 C837.0,1429.7 834.2,1432.8 832.0,1436.0 C829.8,1439.2 827.7,1443.0 827.0,1446.0 C826.3,1449.0 826.8,1451.5 828.0,1454.0 C829.2,1456.5 831.7,1459.0 834.0,1461.0 C836.3,1463.0 838.8,1465.0 841.8,1465.7 C844.8,1466.4 848.4,1465.5 852.0,1465.0 C855.6,1464.5 859.7,1463.8 863.4,1462.6 C867.1,1461.4 870.4,1459.5 874.0,1458.0 C877.6,1456.5 881.7,1455.1 885.0,1453.4 C888.3,1451.7 890.9,1449.5 894.0,1448.0 C897.1,1446.5 900.3,1445.2 903.5,1444.1 C906.7,1443.0 909.9,1441.8 913.0,1441.5 C916.1,1441.2 919.5,1441.1 922.0,1442.6 C924.5,1444.1 928.2,1448.2 928.2,1450.3 C928.2,1452.4 924.1,1454.0 922.0,1455.0 C919.9,1456.0 918.1,1455.3 915.8,1456.5 C913.5,1457.7 910.6,1460.0 908.0,1462.0 C905.4,1464.0 902.6,1466.6 900.4,1468.8 C898.2,1471.0 896.5,1472.8 895.0,1475.0 C893.5,1477.2 904.7,1480.8 891.2,1482.0 C877.7,1483.2 827.3,1483.5 814.0,1482.0Z"/>
<path d="M955.9,1478.0 C957.1,1475.7 959.9,1470.6 962.0,1468.0 C964.1,1465.4 965.8,1464.0 968.3,1462.6 C970.8,1461.2 973.9,1460.3 977.0,1459.5 C980.1,1458.7 983.6,1458.6 986.8,1458.0 C990.0,1457.4 992.9,1456.5 996.0,1456.0 C999.1,1455.5 1001.7,1455.3 1005.3,1454.9 C1008.9,1454.5 1016.3,1452.9 1017.6,1453.4 C1018.9,1453.9 1014.0,1457.0 1013.0,1458.0 C1012.0,1459.0 1012.4,1458.8 1011.4,1459.5 C1010.4,1460.2 1008.0,1461.0 1007.0,1462.0 C1006.0,1463.0 1005.5,1464.2 1005.3,1465.7 C1005.1,1467.2 1005.5,1468.3 1006.0,1471.0 C1006.5,1473.7 1009.6,1480.2 1008.3,1482.0 C1007.0,1483.8 999.9,1484.0 998.0,1482.0 C996.1,1480.0 997.7,1473.0 997.0,1470.0 C996.3,1467.0 996.2,1465.0 994.0,1464.0 C991.8,1463.0 987.3,1463.3 984.0,1464.0 C980.7,1464.7 977.0,1466.0 974.0,1468.0 C971.0,1470.0 967.8,1473.7 966.0,1476.0 C964.2,1478.3 964.8,1481.0 963.0,1482.0 C961.2,1483.0 956.2,1482.7 955.0,1482.0 C953.8,1481.3 954.7,1480.3 955.9,1478.0Z"/>
<path d="M866.0,1449.0 C866.3,1447.7 869.7,1446.5 872.0,1445.0 C874.3,1443.5 878.2,1440.5 880.0,1440.0 C881.8,1439.5 883.5,1440.7 883.0,1442.0 C882.5,1443.3 879.2,1446.2 877.0,1448.0 C874.8,1449.8 871.8,1452.8 870.0,1453.0 C868.2,1453.2 865.7,1450.3 866.0,1449.0Z"/>
<path d="M885.0,1439.0 C885.0,1437.8 887.8,1435.3 889.0,1435.0 C890.2,1434.7 892.0,1435.8 892.0,1437.0 C892.0,1438.2 890.2,1441.7 889.0,1442.0 C887.8,1442.3 885.0,1440.2 885.0,1439.0Z"/>
<path d="M918.0,1462.0 C918.7,1460.2 921.3,1459.0 924.0,1459.0 C926.7,1459.0 932.0,1460.2 934.0,1462.0 C936.0,1463.8 937.0,1468.0 936.0,1470.0 C935.0,1472.0 930.7,1474.0 928.0,1474.0 C925.3,1474.0 921.7,1472.0 920.0,1470.0 C918.3,1468.0 917.3,1463.8 918.0,1462.0Z"/>
<path d="M1048.5,1326.0 C1050.0,1325.0 1051.4,1326.8 1053.0,1330.0 C1054.6,1333.2 1055.8,1341.3 1058.0,1345.0 C1060.2,1348.7 1064.7,1343.7 1066.0,1352.0 C1067.3,1360.3 1068.4,1388.4 1066.0,1395.0 C1063.6,1401.6 1054.7,1394.2 1051.5,1391.7 C1048.3,1389.2 1048.0,1384.1 1047.0,1380.0 C1046.0,1375.9 1046.2,1372.2 1045.4,1367.0 C1044.6,1361.8 1042.5,1353.7 1042.3,1348.5 C1042.1,1343.3 1043.0,1339.8 1044.0,1336.0 C1045.0,1332.2 1047.0,1327.0 1048.5,1326.0Z"/>
<path d="M1042.0,1402.0 C1043.3,1400.2 1047.3,1401.5 1050.0,1401.0 C1052.7,1400.5 1057.0,1398.5 1058.0,1399.0 C1059.0,1399.5 1055.5,1402.2 1056.0,1404.0 C1056.5,1405.8 1059.3,1409.0 1061.0,1410.0 C1062.7,1411.0 1065.2,1409.0 1066.0,1410.0 C1066.8,1411.0 1067.3,1415.3 1066.0,1416.0 C1064.7,1416.7 1060.0,1413.4 1058.0,1414.0 C1056.0,1414.6 1055.2,1419.8 1054.0,1419.5 C1052.8,1419.2 1052.3,1413.8 1051.0,1412.0 C1049.7,1410.2 1047.2,1408.5 1046.0,1409.0 C1044.8,1409.5 1044.7,1414.5 1044.0,1415.0 C1043.3,1415.5 1042.3,1414.2 1042.0,1412.0 C1041.7,1409.8 1040.7,1403.8 1042.0,1402.0Z"/>
<path d="M1053.0,1428.0 C1053.7,1426.1 1055.2,1425.1 1056.0,1425.6 C1056.8,1426.1 1056.3,1429.9 1058.0,1431.0 C1059.7,1432.1 1064.7,1430.3 1066.0,1432.0 C1067.3,1433.7 1067.3,1439.7 1066.0,1441.0 C1064.7,1442.3 1060.3,1440.7 1058.0,1440.0 C1055.7,1439.3 1052.8,1439.0 1052.0,1437.0 C1051.2,1435.0 1052.3,1429.9 1053.0,1428.0Z"/>
</g>
<path d="M202.1,846.7 C202.1,845.2 207.1,835.7 208.3,835.2 C209.5,834.7 214.9,839.8 216.3,840.5 C217.7,841.2 223.9,843.4 225.2,843.2 C226.5,843.1 231.3,839.6 232.3,838.7 C233.3,837.8 236.0,832.5 236.7,832.5 C237.4,832.5 239.7,838.6 240.3,838.7 C240.9,838.9 243.1,834.4 243.8,834.3 C244.5,834.2 247.5,837.3 248.3,837.8 C249.1,838.3 252.8,840.9 253.6,840.5 C254.4,840.1 257.2,833.2 258.0,832.5 C258.8,831.8 262.7,831.2 263.4,831.6 C264.1,832.0 265.6,837.6 266.0,837.8 C266.4,838.0 268.0,835.0 268.7,834.3 C269.4,833.6 273.0,830.6 274.0,829.9 C275.0,829.2 279.5,826.3 280.2,825.4 C280.9,824.5 281.3,820.0 282.0,819.2 C282.7,818.4 288.1,816.4 289.1,815.7 C290.1,815.0 293.5,811.1 294.4,811.2 C295.3,811.3 299.1,815.6 299.8,816.5 C300.5,817.4 302.3,821.2 303.0,821.5 C303.7,821.8 307.4,820.0 308.6,820.1 C309.8,820.2 316.3,822.6 317.5,822.8 C318.7,822.9 321.8,821.8 322.8,821.9 C323.8,822.0 328.9,824.4 329.9,824.5 C330.9,824.6 334.5,823.4 335.3,823.6 C336.1,823.8 339.6,826.4 339.7,827.2 C339.8,828.0 337.5,832.4 337.0,833.4 C336.5,834.4 334.2,838.1 333.5,838.7 C332.8,839.3 328.3,840.1 328.2,840.5 C328.1,840.9 331.0,842.5 331.7,843.2 C332.4,843.9 336.1,848.6 337.0,849.4 C337.9,850.2 341.4,852.3 342.4,852.9 C343.4,853.5 348.3,856.0 349.5,856.5 C350.7,857.0 355.7,858.6 356.6,859.2 C357.5,859.8 359.2,863.3 360.1,863.6 C361.0,863.9 366.2,862.9 367.2,862.7 C368.2,862.5 371.6,860.8 372.5,860.9 C373.4,861.0 378.1,863.7 377.9,864.5 C377.7,865.3 371.3,869.3 369.8,870.2 C368.3,871.1 361.5,874.2 360.1,875.1 C358.7,876.0 354.0,880.3 352.8,881.1 C351.6,881.9 346.4,883.9 345.5,884.8 C344.6,885.7 342.7,890.8 341.9,892.1 C341.1,893.4 336.8,899.4 335.8,900.6 C334.8,901.8 330.8,905.5 329.7,906.6 C328.6,907.7 323.4,912.7 322.4,913.9 C321.4,915.1 318.2,919.8 317.6,921.2 C317.0,922.6 315.7,929.5 315.2,930.9 C314.7,932.3 311.6,936.8 311.5,938.2 C311.4,939.6 313.3,946.1 313.9,947.9 C314.5,949.7 317.7,958.3 318.8,960.1 C319.9,961.9 325.9,968.3 327.3,969.8 C328.7,971.3 335.0,977.0 335.8,978.3 C336.6,979.6 336.2,984.1 337.0,985.6 C337.8,987.1 344.0,994.9 345.5,996.6 C347.0,998.3 353.6,1004.9 355.2,1006.3 C356.8,1007.7 363.6,1012.6 365.0,1013.6 C366.4,1014.6 370.7,1017.5 372.2,1018.7 C373.7,1019.9 381.8,1026.7 383.5,1028.0 C385.2,1029.3 391.4,1033.3 392.8,1034.6 C394.2,1035.8 399.1,1041.5 400.3,1043.0 C401.6,1044.5 406.6,1050.9 407.8,1052.3 C409.0,1053.7 414.1,1058.1 415.2,1059.8 C416.3,1061.5 420.0,1070.9 420.8,1072.9 C421.6,1074.9 424.0,1082.2 424.6,1084.1 C425.2,1086.0 427.9,1093.4 428.3,1095.3 C428.7,1097.2 429.0,1104.5 429.3,1106.5 C429.6,1108.5 431.6,1117.6 432.1,1119.6 C432.6,1121.6 435.9,1129.4 435.8,1130.8 C435.7,1132.2 431.4,1135.2 431.1,1136.4 C430.8,1137.7 432.2,1144.2 432.1,1145.8 C432.0,1147.4 430.4,1153.8 430.2,1155.1 C430.0,1156.4 429.1,1160.1 429.2,1161.2 C429.3,1162.3 431.4,1167.1 431.0,1168.7 C430.6,1170.3 426.0,1178.3 424.5,1179.9 C423.0,1181.5 415.2,1186.2 413.3,1187.4 C411.4,1188.7 403.7,1193.8 402.1,1194.9 C400.5,1196.0 395.9,1199.7 394.6,1200.5 C393.4,1201.3 388.2,1204.4 387.1,1205.1 C386.0,1205.8 382.4,1208.4 381.5,1208.9 C380.6,1209.5 376.9,1211.8 375.9,1211.7 C374.9,1211.6 370.4,1208.4 369.3,1207.9 C368.2,1207.4 363.5,1205.5 362.8,1206.0 C362.1,1206.5 361.1,1212.2 360.9,1213.6 C360.7,1215.0 361.2,1221.4 360.9,1222.9 C360.6,1224.5 357.8,1230.8 357.2,1232.2 C356.6,1233.6 354.5,1238.8 353.5,1239.7 C352.5,1240.6 345.9,1242.8 345.0,1243.5 C344.1,1244.2 344.1,1247.5 343.2,1248.1 C342.3,1248.7 336.0,1250.2 334.8,1250.9 C333.6,1251.6 330.1,1255.6 329.2,1256.5 C328.3,1257.4 324.7,1261.0 323.6,1262.1 C322.5,1263.2 317.6,1268.7 316.1,1269.6 C314.6,1270.5 306.7,1273.0 305.8,1272.4 C304.9,1271.8 305.9,1263.9 305.8,1262.1 C305.8,1260.3 305.2,1252.5 305.2,1250.9 C305.2,1249.4 305.7,1244.6 305.8,1243.5 C305.9,1242.4 306.2,1239.0 306.7,1237.9 C307.2,1236.8 311.5,1231.5 311.4,1230.4 C311.2,1229.3 306.1,1225.5 304.9,1224.8 C303.7,1224.1 298.3,1222.7 297.4,1222.0 C296.5,1221.3 294.4,1217.1 294.6,1216.4 C294.8,1215.7 299.1,1214.2 300.2,1213.6 C301.3,1213.0 306.9,1209.8 307.7,1208.9 C308.5,1208.0 309.0,1202.9 309.5,1202.3 C310.0,1201.7 313.2,1201.6 314.2,1201.4 C315.2,1201.2 320.8,1199.9 321.7,1199.5 C322.6,1199.1 324.5,1196.7 325.4,1196.7 C326.3,1196.7 330.8,1199.2 332.0,1199.5 C333.2,1199.8 339.5,1200.9 340.4,1200.5 C341.2,1200.1 342.7,1196.0 342.2,1194.9 C341.7,1193.8 335.7,1188.8 334.8,1187.4 C333.9,1186.0 330.9,1179.2 331.0,1178.0 C331.1,1176.8 335.7,1173.8 336.6,1173.4 C337.5,1173.1 341.4,1173.8 342.3,1173.8 C343.2,1173.8 347.4,1174.4 347.9,1173.8 C348.4,1173.2 347.3,1167.1 347.9,1166.4 C348.5,1165.7 354.1,1165.7 355.4,1165.4 C356.6,1165.1 361.8,1163.1 362.9,1162.6 C364.0,1162.1 367.8,1159.6 368.5,1158.9 C369.2,1158.2 370.5,1154.7 371.3,1154.2 C372.1,1153.7 377.1,1154.0 377.9,1153.3 C378.7,1152.6 380.4,1147.2 380.7,1145.8 C381.0,1144.4 381.8,1137.8 381.6,1136.4 C381.4,1135.0 377.9,1130.4 377.9,1129.0 C377.9,1127.6 381.3,1120.8 381.6,1119.6 C381.9,1118.3 381.9,1115.2 381.6,1114.0 C381.3,1112.8 378.6,1106.0 377.9,1104.7 C377.2,1103.5 373.6,1100.1 373.2,1099.0 C372.8,1097.9 373.0,1092.7 373.2,1091.6 C373.4,1090.5 375.7,1087.1 376.0,1086.0 C376.3,1084.9 377.0,1079.8 376.9,1078.5 C376.8,1077.2 374.9,1072.1 375.0,1071.0 C375.1,1069.9 377.7,1066.5 377.9,1065.4 C378.1,1064.3 378.5,1059.0 377.9,1057.9 C377.3,1056.8 371.4,1053.4 370.4,1052.3 C369.4,1051.2 365.7,1045.8 365.7,1044.9 C365.7,1044.0 369.7,1041.8 370.4,1041.1 C371.1,1040.4 374.3,1037.1 374.1,1036.4 C373.9,1035.7 369.6,1033.4 368.5,1032.7 C367.4,1032.0 361.9,1028.6 361.0,1028.0 C360.1,1027.4 358.2,1025.7 357.3,1025.2 C356.4,1024.7 350.7,1023.4 349.8,1022.4 C348.9,1021.4 346.9,1014.3 346.1,1013.1 C345.3,1011.9 341.4,1008.6 340.5,1007.5 C339.6,1006.4 336.7,1000.9 335.8,1000.0 C334.9,999.1 330.7,997.7 329.7,996.6 C328.7,995.5 324.8,988.0 323.7,986.8 C322.6,985.6 317.2,982.8 316.4,982.0 C315.6,981.2 314.9,977.9 313.9,977.1 C312.9,976.3 305.5,973.1 304.2,972.3 C302.9,971.5 298.5,968.4 298.1,967.4 C297.7,966.4 299.9,960.9 299.4,960.1 C298.9,959.3 293.7,958.7 292.1,957.7 C290.5,956.7 281.9,949.3 279.9,948.0 C277.9,946.7 269.5,942.6 267.8,941.9 C266.1,941.2 259.7,940.2 259.3,939.5 C258.9,938.8 262.2,934.3 262.9,933.4 C263.6,932.5 266.4,929.1 267.8,928.5 C269.2,927.9 278.3,926.8 279.9,926.1 C281.5,925.4 286.3,920.6 287.2,920.0 C288.1,919.4 290.9,919.5 290.9,918.8 C290.9,918.1 288.2,912.3 287.2,911.5 C286.2,910.7 279.9,909.8 278.7,909.1 C277.5,908.4 273.0,903.6 272.6,903.0 C272.2,902.4 274.0,902.3 273.8,901.8 C273.6,901.3 271.5,897.7 270.2,896.9 C268.9,896.1 259.8,892.1 258.0,892.1 C256.2,892.1 249.6,896.8 248.3,896.9 C247.0,897.0 243.0,893.9 242.2,893.3 C241.4,892.7 239.5,890.3 238.6,889.6 C237.7,888.9 232.1,886.2 231.3,884.8 C230.5,883.4 229.4,874.4 228.9,872.6 C228.4,870.8 226.2,864.2 225.2,862.9 C224.2,861.6 218.1,857.6 216.7,856.8 C215.3,856.0 209.4,854.0 208.2,853.2 C207.0,852.4 202.1,848.2 202.1,846.7Z" fill="none" stroke="#fff" stroke-width="16" opacity="0.32" filter="url(#glow)"/>
<g fill="#c9c9c7" stroke="#fff" stroke-width="1.7" stroke-linejoin="round">
<path d="M853.5,1112.5 C853.8,1111.5 855.1,1111.7 855.5,1112.3 C855.9,1112.9 856.2,1115.0 856.0,1116.0 C855.8,1117.0 854.4,1118.6 854.0,1118.0 C853.6,1117.4 853.2,1113.5 853.5,1112.5Z"/>
<path d="M855.5,-3.0 C998.6,-2.2 855.7,-0.9 855.5,1.5 C855.3,3.9 855.0,7.7 854.2,11.2 C853.4,14.7 852.2,18.3 850.5,22.4 C848.8,26.4 846.2,31.4 843.9,35.5 C841.5,39.5 838.9,43.5 836.4,46.7 C833.9,49.9 831.8,53.2 829.0,54.6 C826.2,56.0 822.7,55.0 819.6,55.1 C816.5,55.2 812.8,55.7 810.3,55.1 C807.8,54.5 806.6,52.2 804.7,51.4 C802.8,50.5 800.6,49.5 799.0,50.0 C797.4,50.5 796.1,52.2 795.3,54.2 C794.5,56.2 795.0,58.9 794.4,61.7 C793.8,64.5 793.3,68.3 791.6,71.0 C789.9,73.7 786.6,75.7 784.1,77.6 C781.6,79.5 777.4,80.5 776.6,82.2 C775.8,83.9 779.1,85.4 779.4,87.9 C779.7,90.4 779.1,94.1 778.5,97.2 C777.9,100.3 776.3,103.1 775.7,106.5 C775.1,109.9 774.3,114.0 774.8,117.8 C775.3,121.5 778.0,125.3 778.5,129.0 C779.0,132.7 778.7,136.5 778.1,140.2 C777.5,143.9 776.3,147.3 774.8,151.4 C773.3,155.5 771.2,160.1 769.2,164.5 C767.2,168.9 765.1,174.2 762.6,177.6 C760.1,181.0 756.2,182.6 754.2,185.0 C752.2,187.4 751.1,189.8 750.5,192.0 C749.9,194.2 749.9,195.3 750.5,198.0 C751.1,200.7 752.3,205.4 754.2,208.0 C756.1,210.6 758.6,212.5 761.7,213.6 C764.8,214.7 770.0,213.6 772.9,214.6 C775.8,215.6 777.7,217.6 779.4,219.3 C781.1,221.0 781.5,223.7 783.2,224.9 C784.9,226.1 787.1,225.1 789.7,226.7 C792.4,228.2 795.7,231.1 799.1,234.2 C802.5,237.3 806.9,242.0 810.3,245.4 C813.7,248.8 816.8,251.1 819.6,254.8 C822.4,258.6 824.9,263.2 827.1,267.9 C829.3,272.6 830.7,279.4 832.7,282.8 C834.7,286.2 837.7,285.6 839.3,288.4 C840.9,291.2 842.0,295.6 842.1,299.6 C842.2,303.7 841.0,308.6 840.2,312.7 C839.4,316.8 840.3,322.3 837.4,323.9 C834.5,325.4 826.6,320.5 823.0,322.0 C819.4,323.5 818.6,330.2 816.0,333.0 C813.4,335.8 810.0,336.7 807.5,338.9 C805.0,341.1 803.3,343.9 801.0,346.4 C798.7,348.9 795.7,351.9 793.5,353.8 C791.3,355.7 789.3,356.2 787.9,357.6 C786.5,359.0 786.0,361.9 785.0,362.2 C784.0,362.5 783.0,359.1 782.2,359.4 C781.4,359.7 781.2,363.6 780.4,364.1 C779.6,364.6 777.8,363.6 777.6,362.2 C777.4,360.8 779.7,358.0 779.4,355.7 C779.1,353.4 776.9,351.0 775.7,348.2 C774.5,345.4 772.8,342.3 772.0,338.9 C771.2,335.5 771.2,331.4 771.0,327.7 C770.8,323.9 771.6,319.8 771.0,316.4 C770.4,313.0 768.7,310.2 767.3,307.1 C765.9,304.0 764.5,300.3 762.6,297.8 C760.7,295.3 757.2,294.0 756.1,292.1 C755.0,290.2 754.7,288.1 756.1,286.5 C757.5,284.9 763.9,284.7 764.5,282.8 C765.1,280.9 761.5,278.4 759.8,275.3 C758.1,272.2 755.8,267.8 754.2,264.1 C752.7,260.4 751.3,253.5 750.5,252.9 C749.7,252.3 750.8,259.5 749.5,260.4 C748.2,261.3 745.3,258.7 743.0,258.5 C740.7,258.3 738.0,258.8 735.5,259.4 C733.0,260.0 730.0,260.6 728.0,262.2 C726.0,263.8 725.6,267.8 723.4,268.8 C721.2,269.8 717.1,268.9 715.0,268.0 C712.9,267.1 711.9,266.6 711.0,263.6 C710.1,260.6 709.0,253.8 709.7,250.0 C710.4,246.2 715.1,242.5 715.3,241.0 C715.5,239.5 712.0,242.8 710.9,241.0 C709.8,239.2 710.1,233.6 708.6,229.9 C707.1,226.2 704.9,220.9 701.9,218.7 C698.9,216.5 694.8,216.9 690.7,216.5 C686.6,216.1 681.0,215.8 677.2,216.5 C673.4,217.2 671.4,219.1 668.0,221.0 C664.6,222.9 661.8,224.7 657.0,227.7 C652.2,230.7 643.8,235.3 639.0,239.0 C634.2,242.7 630.2,245.0 628.0,250.0 C625.8,255.0 627.3,267.0 625.6,269.0 C623.9,271.0 618.8,266.0 618.0,262.0 C617.2,258.0 619.3,250.3 621.0,245.0 C622.7,239.7 627.2,235.5 628.0,230.0 C628.8,224.5 628.7,216.0 626.0,212.0 C623.3,208.0 616.7,206.3 612.0,206.0 C607.3,205.7 601.0,206.8 598.0,210.0 C595.0,213.2 595.7,220.0 594.0,225.0 C592.3,230.0 591.7,234.5 588.0,240.0 C584.3,245.5 578.7,252.7 572.0,258.0 C565.3,263.3 554.5,267.7 548.0,272.0 C541.5,276.3 534.7,280.0 533.0,284.0 C531.3,288.0 533.5,293.8 538.0,296.0 C542.5,298.2 551.3,297.7 560.0,297.0 C568.7,296.3 581.3,293.2 590.0,292.0 C598.7,290.8 603.7,289.3 612.0,290.0 C620.3,290.7 630.7,294.3 640.0,296.0 C649.3,297.7 662.7,298.0 668.0,300.0 C673.3,302.0 674.2,305.0 672.0,308.0 C669.8,311.0 660.3,314.3 655.0,318.0 C649.7,321.7 643.4,326.5 640.0,330.0 C636.6,333.5 636.6,335.3 634.6,339.0 C632.6,342.7 628.8,348.7 627.9,352.4 C627.0,356.1 630.0,357.1 629.0,361.4 C628.0,365.7 625.5,372.9 622.0,378.0 C618.5,383.1 611.1,388.0 608.0,392.0 C604.9,396.0 603.6,399.1 603.2,401.8 C602.8,404.6 601.7,406.3 605.4,408.5 C609.1,410.7 620.4,412.6 625.6,415.2 C630.8,417.8 633.1,420.4 636.8,424.2 C640.5,428.0 644.5,433.4 648.0,438.0 C651.5,442.6 655.0,447.4 658.0,452.0 C661.0,456.6 661.3,461.7 666.0,465.7 C670.7,469.7 682.1,473.4 686.2,475.8 C690.3,478.2 691.8,478.8 690.7,480.3 C689.6,481.8 684.3,484.2 679.4,484.8 C674.5,485.4 668.6,483.7 661.5,483.7 C654.4,483.7 636.8,484.2 636.8,484.8 C636.8,485.4 655.1,485.9 661.5,487.0 C667.9,488.1 669.4,490.0 675.0,491.5 C680.6,493.0 691.1,493.0 695.2,496.0 C699.3,499.0 700.0,504.9 699.6,509.4 C699.2,513.9 695.5,519.1 692.9,522.9 C690.3,526.6 686.1,528.9 683.9,531.9 C681.6,534.9 678.3,540.1 679.4,540.9 C680.5,541.6 687.0,536.4 690.7,536.4 C694.5,536.4 698.5,539.4 701.9,540.9 C705.3,542.4 710.1,543.1 710.9,545.3 C711.6,547.5 707.2,551.1 706.4,554.3 C705.5,557.5 705.5,561.5 705.8,564.7 C706.1,567.9 708.9,571.0 708.0,573.6 C707.1,576.2 699.1,578.1 700.2,580.4 C701.3,582.6 712.5,585.0 714.8,587.1 C717.0,589.2 716.0,591.8 713.7,592.7 C711.5,593.6 703.7,591.0 701.3,592.7 C698.9,594.4 701.0,600.9 699.1,602.8 C697.2,604.7 690.5,602.8 690.1,603.9 C689.7,605.0 696.0,606.0 696.8,609.5 C697.5,613.0 695.9,621.5 694.6,625.2 C693.3,629.0 689.8,629.0 689.0,632.0 C688.2,635.0 691.0,640.2 690.1,643.2 C689.2,646.2 686.0,648.6 683.4,649.9 C680.8,651.2 675.5,649.1 674.4,651.0 C673.3,652.9 676.2,657.4 676.6,661.1 C677.0,664.9 678.3,671.2 676.6,673.5 C674.9,675.8 666.1,673.5 666.5,674.6 C666.9,675.7 677.9,677.2 678.9,680.2 C679.9,683.2 674.6,688.2 672.2,692.5 C669.8,696.8 666.2,701.5 664.3,706.0 C662.4,710.5 663.3,715.7 660.9,719.4 C658.5,723.1 652.9,726.0 649.7,728.4 C646.5,730.8 642.5,732.1 641.9,734.0 C641.3,735.9 647.3,736.8 646.4,739.6 C645.5,742.4 638.5,748.3 636.3,750.8 C634.1,753.3 636.0,751.5 633.3,754.6 C630.6,757.7 622.7,764.4 619.9,769.2 C617.1,774.1 618.9,779.7 616.3,783.7 C613.7,787.8 608.5,790.6 604.1,793.5 C599.7,796.4 594.5,799.4 589.6,800.8 C584.8,802.2 579.1,801.4 575.0,802.0 C570.9,802.6 568.5,802.6 565.2,804.4 C562.0,806.2 558.5,810.1 555.5,812.9 C552.5,815.7 549.6,820.8 547.0,821.4 C544.4,822.0 542.1,816.7 539.7,816.5 C537.3,816.3 534.6,818.0 532.4,820.2 C530.2,822.4 529.4,826.7 526.4,829.9 C523.4,833.1 518.2,837.2 514.2,839.6 C510.2,842.0 506.2,843.1 502.1,844.5 C498.1,845.9 492.1,846.5 489.9,848.1 C487.7,849.7 491.5,852.2 488.7,854.2 C485.9,856.2 477.5,858.5 472.9,860.3 C468.2,862.1 464.0,863.0 460.8,865.2 C457.6,867.4 456.1,871.3 453.5,873.7 C450.9,876.1 446.4,877.1 445.0,879.7 C443.6,882.3 444.0,886.5 445.0,889.5 C446.0,892.5 451.2,896.0 451.0,898.0 C450.8,900.0 446.1,902.0 443.7,901.6 C441.3,901.2 438.5,899.0 436.5,895.5 C434.5,892.0 432.8,885.4 431.6,880.9 C430.4,876.4 430.4,871.6 429.2,868.8 C428.0,866.0 425.9,864.1 424.3,863.9 C422.7,863.7 421.4,866.4 419.4,867.6 C417.4,868.8 414.6,871.4 412.2,871.2 C409.8,871.0 407.3,868.0 404.9,866.4 C402.5,864.8 400.2,862.7 398.0,861.5 C395.8,860.3 394.0,859.2 391.7,859.3 C389.4,859.4 386.4,861.2 384.0,862.0 C381.6,862.8 379.5,862.7 377.1,864.1 C374.7,865.5 372.6,868.4 369.8,870.2 C367.0,872.0 362.9,873.3 360.1,875.1 C357.3,876.9 355.2,879.5 352.8,881.1 C350.4,882.7 347.3,883.0 345.5,884.8 C343.7,886.6 343.5,889.5 341.9,892.1 C340.3,894.7 337.8,898.2 335.8,900.6 C333.8,903.0 331.9,904.4 329.7,906.6 C327.5,908.8 324.4,911.5 322.4,913.9 C320.4,916.3 318.8,918.4 317.6,921.2 C316.4,924.0 316.2,928.1 315.2,930.9 C314.2,933.7 311.7,935.4 311.5,938.2 C311.3,941.0 312.7,944.2 313.9,947.9 C315.1,951.5 316.6,956.5 318.8,960.1 C321.0,963.8 324.5,966.8 327.3,969.8 C330.1,972.8 334.2,975.7 335.8,978.3 C337.4,980.9 335.4,982.5 337.0,985.6 C338.6,988.7 342.5,993.2 345.5,996.6 C348.5,1000.0 351.9,1003.5 355.2,1006.3 C358.4,1009.1 362.2,1011.5 365.0,1013.6 C367.8,1015.7 369.1,1016.3 372.2,1018.7 C375.3,1021.1 380.1,1025.3 383.5,1028.0 C386.9,1030.7 390.0,1032.1 392.8,1034.6 C395.6,1037.1 397.8,1040.0 400.3,1043.0 C402.8,1046.0 405.3,1049.5 407.8,1052.3 C410.3,1055.1 413.0,1056.4 415.2,1059.8 C417.4,1063.2 419.2,1068.9 420.8,1072.9 C422.4,1077.0 423.4,1080.4 424.6,1084.1 C425.9,1087.8 427.5,1091.6 428.3,1095.3 C429.1,1099.0 428.7,1102.5 429.3,1106.5 C429.9,1110.5 431.0,1115.5 432.1,1119.6 C433.2,1123.6 436.0,1128.0 435.8,1130.8 C435.6,1133.6 431.7,1133.9 431.1,1136.4 C430.5,1138.9 432.2,1142.7 432.1,1145.8 C432.0,1148.9 430.7,1152.5 430.2,1155.1 C429.7,1157.7 429.1,1158.9 429.2,1161.2 C429.3,1163.5 431.8,1165.6 431.0,1168.7 C430.2,1171.8 427.4,1176.8 424.5,1179.9 C421.6,1183.0 417.0,1184.9 413.3,1187.4 C409.6,1189.9 405.2,1192.7 402.1,1194.9 C399.0,1197.1 397.1,1198.8 394.6,1200.5 C392.1,1202.2 389.3,1203.7 387.1,1205.1 C384.9,1206.5 383.4,1207.8 381.5,1208.9 C379.6,1210.0 377.9,1211.9 375.9,1211.7 C373.9,1211.5 371.5,1208.9 369.3,1207.9 C367.1,1207.0 364.2,1205.0 362.8,1206.0 C361.4,1207.0 361.2,1210.8 360.9,1213.6 C360.6,1216.4 361.5,1219.8 360.9,1222.9 C360.3,1226.0 358.4,1229.4 357.2,1232.2 C356.0,1235.0 355.5,1237.8 353.5,1239.7 C351.5,1241.6 346.7,1242.1 345.0,1243.5 C343.3,1244.9 344.9,1246.9 343.2,1248.1 C341.5,1249.3 337.1,1249.5 334.8,1250.9 C332.5,1252.3 331.1,1254.6 329.2,1256.5 C327.3,1258.4 325.8,1259.9 323.6,1262.1 C321.4,1264.3 319.1,1267.9 316.1,1269.6 C313.1,1271.3 307.5,1273.7 305.8,1272.4 C304.1,1271.2 305.9,1265.7 305.8,1262.1 C305.7,1258.5 305.2,1254.0 305.2,1250.9 C305.2,1247.8 305.6,1245.7 305.8,1243.5 C306.1,1241.3 305.8,1240.1 306.7,1237.9 C307.6,1235.7 311.7,1232.6 311.4,1230.4 C311.1,1228.2 307.2,1226.2 304.9,1224.8 C302.6,1223.4 299.1,1223.4 297.4,1222.0 C295.7,1220.6 296.7,1217.7 294.6,1216.4 C292.5,1215.2 287.6,1215.0 285.0,1214.5 C282.4,1214.0 281.4,1214.1 278.7,1213.6 C276.0,1213.1 270.3,1212.6 269.0,1211.7 C267.7,1210.8 271.4,1209.6 271.0,1208.0 C270.6,1206.4 269.2,1203.4 266.5,1201.9 C263.8,1200.4 257.3,1201.9 254.9,1199.0 C252.5,1196.1 253.4,1187.7 252.0,1184.5 C250.6,1181.3 248.1,1182.4 246.7,1180.0 C245.2,1177.6 244.7,1172.2 243.3,1170.0 C241.9,1167.8 240.1,1165.8 238.3,1166.5 C236.5,1167.2 234.1,1174.0 232.7,1174.4 C231.3,1174.8 231.3,1171.1 229.9,1168.8 C228.5,1166.5 227.1,1163.0 224.3,1160.4 C221.5,1157.8 217.8,1154.6 213.1,1153.4 C208.4,1152.2 200.6,1154.6 196.2,1153.4 C191.8,1152.2 188.0,1149.6 186.4,1146.3 C184.8,1143.0 187.6,1136.5 186.4,1133.7 C185.2,1130.9 183.4,1130.0 179.4,1129.5 C175.4,1129.0 166.3,1129.5 162.6,1130.9 C158.9,1132.3 157.9,1133.0 157.0,1137.9 C156.1,1142.8 157.2,1153.4 157.0,1160.4 C156.8,1167.4 156.2,1177.4 155.6,1180.0 C155.0,1182.6 154.8,1174.1 153.5,1175.8 C152.2,1177.5 149.9,1185.0 147.7,1190.3 C145.5,1195.6 142.7,1201.9 140.5,1207.7 C138.3,1213.5 135.7,1219.2 134.7,1225.0 C133.7,1230.8 134.0,1237.1 134.7,1242.4 C135.4,1247.7 136.8,1254.0 139.0,1256.9 C141.2,1259.8 144.8,1258.8 147.7,1259.8 C150.6,1260.8 154.2,1260.3 156.4,1262.7 C158.6,1265.1 158.9,1270.4 160.8,1274.3 C162.7,1278.2 165.8,1282.0 168.0,1285.9 C170.2,1289.8 173.3,1293.7 173.8,1297.5 C174.3,1301.3 169.9,1305.2 170.9,1309.0 C171.9,1312.8 175.7,1317.2 179.6,1320.6 C183.5,1324.0 189.3,1327.6 194.1,1329.3 C198.9,1331.0 204.2,1329.3 208.6,1330.8 C212.9,1332.2 216.6,1335.3 220.2,1338.0 C223.8,1340.7 226.9,1344.8 230.3,1346.7 C233.7,1348.6 236.8,1347.7 240.4,1349.6 C244.0,1351.5 248.1,1354.9 252.0,1358.3 C255.9,1361.7 260.5,1366.0 263.6,1369.9 C266.8,1373.8 269.2,1376.7 270.9,1381.5 C272.6,1386.3 273.6,1393.1 273.8,1398.9 C274.0,1404.7 272.1,1410.9 272.3,1416.2 C272.5,1421.5 273.3,1426.4 275.2,1430.7 C277.1,1435.0 281.0,1438.0 283.9,1442.3 C286.8,1446.6 289.7,1451.2 292.6,1456.8 C295.5,1462.3 299.6,1471.4 301.3,1475.6 C303.0,1479.8 310.4,1480.9 303.0,1482.0 C295.6,1483.1 265.0,1483.1 257.0,1482.0 C249.0,1480.9 257.2,1477.9 254.9,1475.6 C252.6,1473.3 248.1,1471.1 243.3,1468.4 C238.5,1465.8 231.3,1462.6 226.0,1459.7 C220.7,1456.8 214.7,1454.4 211.5,1451.0 C208.3,1447.6 209.5,1443.8 207.1,1439.4 C204.7,1435.1 200.1,1429.2 197.0,1424.9 C193.9,1420.6 190.5,1418.1 188.3,1413.3 C186.1,1408.5 185.7,1401.3 184.0,1396.0 C182.3,1390.7 179.9,1385.8 178.2,1381.5 C176.5,1377.2 175.0,1374.2 173.8,1369.9 C172.6,1365.6 172.4,1360.2 170.9,1355.4 C169.4,1350.6 168.0,1345.2 165.1,1340.9 C162.2,1336.6 156.9,1333.2 153.5,1329.3 C150.1,1325.4 147.7,1321.1 144.8,1317.7 C141.9,1314.3 139.1,1311.9 136.2,1309.0 C133.3,1306.1 130.4,1303.3 127.5,1300.4 C124.6,1297.5 121.5,1293.6 118.8,1291.7 C116.1,1289.8 113.4,1290.7 111.5,1288.8 C109.6,1286.9 107.7,1284.0 107.2,1280.1 C106.7,1276.2 107.6,1270.4 108.6,1265.6 C109.6,1260.8 112.0,1256.9 113.0,1251.1 C114.0,1245.3 113.9,1238.0 114.4,1230.8 C114.9,1223.6 115.4,1214.9 115.9,1207.7 C116.4,1200.5 116.8,1192.0 117.3,1187.4 C117.8,1182.8 119.6,1183.6 119.2,1180.0 C118.8,1176.4 116.3,1171.2 114.9,1166.0 C113.5,1160.8 112.6,1154.7 110.7,1149.1 C108.8,1143.5 106.3,1137.9 103.7,1132.3 C101.1,1126.7 97.6,1122.0 95.3,1115.5 C93.0,1109.0 91.6,1100.6 89.7,1093.1 C87.8,1085.6 85.7,1077.1 84.1,1070.6 C82.5,1064.0 81.8,1058.9 79.9,1053.8 C78.0,1048.7 75.2,1044.5 72.9,1039.8 C70.6,1035.1 68.0,1028.8 65.9,1025.8 C63.8,1022.8 61.7,1021.6 60.3,1021.6 C58.9,1021.6 58.7,1022.8 57.5,1025.8 C56.3,1028.8 55.4,1036.1 53.3,1039.8 C51.2,1043.5 48.6,1045.6 44.9,1048.2 C41.1,1050.8 35.0,1052.9 30.8,1055.2 C26.6,1057.5 22.9,1059.4 19.6,1062.2 C16.3,1065.0 14.1,1071.3 11.2,1072.0 C8.3,1072.7 4.6,1067.9 2.2,1066.4 C-0.2,1064.9 -2.1,1241.2 -3.0,1063.0 C-3.9,884.8 -146.1,174.7 -3.0,-3.0 C140.1,-180.7 712.4,-3.8 855.5,-3.0Z"/>
<path d="M735.0,676.8 C738.4,676.4 745.4,677.9 747.3,681.3 C749.2,684.7 746.4,691.4 746.2,697.0 C746.0,702.6 746.4,709.4 746.2,715.0 C746.0,720.6 745.0,725.9 745.0,730.7 C745.0,735.6 746.6,738.9 746.2,744.1 C745.8,749.3 743.5,755.5 742.5,762.0 C741.5,768.5 741.7,780.8 740.0,783.0 C738.3,785.2 734.8,777.0 732.5,775.0 C730.2,773.0 728.6,773.9 726.0,771.0 C723.4,768.1 719.4,761.7 717.0,757.6 C714.6,753.5 712.5,750.5 711.4,746.4 C710.3,742.3 709.7,738.1 710.3,732.9 C710.9,727.7 713.1,721.0 714.8,715.0 C716.5,709.0 718.3,702.2 720.4,697.0 C722.5,691.8 724.7,687.0 727.1,683.6 C729.5,680.2 731.6,677.2 735.0,676.8Z"/>
<path d="M465.6,905.2 C467.0,906.5 469.5,906.9 469.3,910.1 C469.1,913.4 466.2,920.2 464.4,924.7 C462.6,929.2 460.5,933.1 458.3,936.8 C456.1,940.4 453.8,943.4 451.0,946.6 C448.2,949.9 444.1,953.7 441.3,956.3 C438.5,958.9 437.2,962.0 434.0,962.4 C430.8,962.8 425.9,959.9 421.9,958.7 C417.8,957.5 412.5,957.5 409.7,955.1 C406.9,952.7 405.7,947.6 404.9,944.1 C404.1,940.6 403.7,937.6 404.9,934.4 C406.1,931.2 409.4,927.9 412.2,924.7 C415.0,921.5 417.8,917.2 421.9,915.0 C425.9,912.8 431.6,912.9 436.5,911.3 C441.4,909.7 446.9,906.7 451.0,905.2 C455.1,903.7 458.4,902.3 460.8,902.3 C463.2,902.3 464.2,903.9 465.6,905.2Z"/>
<path d="M997.0,117.5 C999.2,118.2 1002.7,123.5 1006.3,126.7 C1009.9,129.9 1014.5,134.4 1018.6,137.0 C1022.7,139.6 1027.1,141.1 1030.9,142.1 C1034.7,143.1 1038.3,144.0 1041.2,143.2 C1044.1,142.3 1047.4,136.5 1048.4,137.0 C1049.4,137.5 1046.2,143.3 1047.4,146.3 C1048.6,149.3 1055.9,152.5 1055.6,155.1 C1055.2,157.7 1048.7,159.6 1045.3,161.7 C1041.9,163.8 1037.7,165.1 1035.0,167.8 C1032.3,170.5 1030.6,175.0 1028.9,178.1 C1027.2,181.2 1027.2,185.6 1024.8,186.3 C1022.4,187.0 1017.9,183.7 1014.5,182.2 C1011.1,180.7 1007.3,177.9 1004.2,177.1 C1001.1,176.2 998.2,176.4 996.0,177.1 C993.8,177.8 991.8,179.3 990.8,181.2 C989.8,183.1 989.6,186.3 989.8,188.4 C990.0,190.5 992.6,192.3 991.9,193.5 C991.2,194.7 987.4,194.4 985.7,195.6 C984.0,196.8 982.8,200.2 981.6,200.7 C980.4,201.2 978.7,200.2 978.5,198.7 C978.3,197.2 981.1,193.6 980.6,191.5 C980.1,189.4 976.4,188.4 975.4,186.3 C974.4,184.2 973.5,181.1 974.4,179.2 C975.3,177.3 979.8,177.1 980.6,175.0 C981.5,172.9 978.6,168.5 979.5,166.8 C980.4,165.1 983.3,165.3 985.7,164.8 C988.1,164.3 992.4,165.2 993.9,163.7 C995.4,162.1 994.4,158.9 994.9,155.5 C995.4,152.1 997.0,147.3 997.0,143.2 C997.0,139.1 995.6,134.2 994.9,130.8 C994.2,127.4 992.5,124.8 992.9,122.6 C993.2,120.4 994.8,116.8 997.0,117.5Z"/>
<path d="M986.7,207.9 C987.7,208.8 989.9,214.9 990.8,214.1 C991.7,213.2 990.7,204.7 991.9,202.8 C993.1,200.9 996.8,201.3 998.0,202.8 C999.2,204.3 998.2,209.4 999.1,212.0 C1000.0,214.6 1001.3,215.6 1003.2,218.2 C1005.1,220.8 1008.5,223.9 1010.4,227.5 C1012.3,231.1 1014.2,235.7 1014.5,239.8 C1014.8,243.9 1013.3,248.3 1012.4,252.1 C1011.5,255.9 1010.5,260.0 1009.3,262.4 C1008.1,264.8 1006.2,264.4 1005.2,266.5 C1004.2,268.6 1003.0,271.4 1003.2,274.8 C1003.4,278.2 1005.3,284.2 1006.3,287.1 C1007.3,290.0 1009.2,289.0 1009.4,292.3 C1009.6,295.6 1007.6,302.2 1007.4,306.7 C1007.2,311.2 1009.1,315.7 1008.4,319.1 C1007.7,322.5 1005.2,324.7 1003.3,327.3 C1001.4,329.9 999.5,333.8 997.1,334.5 C994.7,335.2 991.0,332.6 988.9,331.4 C986.8,330.2 986.2,327.1 984.8,327.3 C983.4,327.5 981.0,330.3 980.6,332.4 C980.2,334.4 983.0,337.7 982.7,339.6 C982.4,341.5 980.0,344.0 978.6,343.7 C977.2,343.4 975.9,337.6 974.5,337.6 C973.1,337.6 972.5,342.3 970.4,343.7 C968.3,345.1 964.9,345.3 962.1,345.8 C959.4,346.3 956.6,347.2 953.9,346.8 C951.2,346.4 947.9,343.9 945.7,343.7 C943.5,343.5 941.6,344.6 940.6,345.8 C939.6,347.0 938.6,349.5 939.5,350.9 C940.4,352.3 945.4,352.6 945.7,354.0 C946.1,355.4 943.3,357.8 941.6,359.2 C939.9,360.6 936.8,360.3 935.4,362.2 C934.0,364.1 934.8,368.6 933.4,370.5 C932.0,372.4 929.3,373.9 927.2,373.5 C925.1,373.1 922.5,370.4 921.0,368.4 C919.5,366.3 917.9,363.8 917.9,361.2 C917.9,358.6 921.5,354.7 921.0,353.0 C920.5,351.3 917.6,351.4 914.9,350.9 C912.2,350.4 907.7,349.4 904.6,349.9 C901.5,350.4 899.4,352.6 896.3,354.0 C893.2,355.4 889.5,356.9 886.1,358.1 C882.7,359.3 878.9,360.5 875.8,361.2 C872.7,361.9 869.8,361.0 867.6,362.2 C865.4,363.4 864.6,367.4 862.4,368.4 C860.2,369.4 856.8,368.8 854.2,368.4 C851.6,368.0 848.0,367.3 847.0,366.3 C846.0,365.3 846.6,363.6 848.0,362.2 C849.4,360.8 852.3,360.2 855.2,358.1 C858.1,356.1 862.1,353.0 865.5,349.9 C868.9,346.8 873.0,342.0 875.8,339.6 C878.5,337.2 878.6,336.4 882.0,335.5 C885.4,334.6 892.2,335.2 896.3,334.5 C900.4,333.8 903.5,332.3 906.6,331.4 C909.7,330.5 912.8,328.9 914.9,329.3 C917.0,329.7 916.8,333.5 919.0,333.5 C921.2,333.5 926.5,331.4 928.2,329.3 C929.9,327.2 928.0,323.8 929.2,321.1 C930.4,318.4 933.9,316.0 935.4,312.9 C936.9,309.8 938.0,305.5 938.5,302.6 C939.0,299.7 937.3,297.4 938.5,295.4 C939.7,293.3 944.5,290.3 945.7,290.3 C946.9,290.3 946.2,293.7 945.7,295.4 C945.2,297.1 941.9,299.6 942.6,300.6 C943.3,301.6 947.2,302.3 949.8,301.6 C952.4,300.9 955.6,299.0 958.0,296.4 C960.4,293.8 962.4,288.8 964.2,286.2 C966.0,283.6 967.5,282.2 969.0,281.0 C970.5,279.8 972.0,280.6 973.4,278.9 C974.8,277.2 976.1,273.7 977.5,270.6 C978.9,267.5 980.4,264.2 981.6,260.4 C982.8,256.6 984.4,251.4 984.7,248.0 C985.0,244.6 984.6,241.5 983.6,239.8 C982.6,238.1 978.8,239.1 978.5,237.7 C978.2,236.3 981.6,234.0 981.6,231.6 C981.6,229.2 978.0,225.8 978.5,223.4 C979.0,221.0 983.7,219.6 984.7,217.2 C985.7,214.8 984.4,210.6 984.7,209.0 C985.0,207.4 985.7,207.1 986.7,207.9Z"/>
<path d="M872.7,380.7 C873.2,378.3 875.6,373.9 877.8,371.5 C880.0,369.1 883.4,368.0 886.1,366.3 C888.9,364.6 891.2,362.2 894.3,361.2 C897.4,360.2 902.0,359.7 904.6,360.2 C907.2,360.7 909.4,362.4 909.7,364.3 C910.0,366.2 908.1,369.4 906.6,371.5 C905.1,373.6 902.9,375.1 900.5,376.6 C898.1,378.1 894.6,379.7 892.2,380.7 C889.8,381.7 887.8,381.2 886.1,382.8 C884.4,384.4 883.5,388.6 882.0,390.0 C880.5,391.4 878.0,391.7 876.8,391.0 C875.6,390.3 875.5,387.6 874.8,385.9 C874.1,384.2 872.2,383.1 872.7,380.7Z"/>
<path d="M837.8,373.5 C839.8,372.6 845.3,372.0 848.0,372.5 C850.7,373.0 852.3,375.2 854.2,376.6 C856.1,378.0 857.6,378.6 859.3,380.7 C861.0,382.8 864.1,386.2 864.5,389.0 C864.9,391.8 862.3,394.1 861.4,397.2 C860.5,400.3 859.8,404.1 859.3,407.5 C858.8,410.9 859.1,415.4 858.3,417.8 C857.4,420.2 855.7,421.6 854.2,421.9 C852.7,422.2 850.3,418.9 849.1,419.8 C847.9,420.7 848.4,425.6 847.0,427.0 C845.6,428.4 842.2,428.9 840.8,428.0 C839.4,427.1 838.6,423.9 838.8,421.9 C839.0,419.8 842.2,417.1 841.9,415.7 C841.5,414.3 837.2,415.3 836.7,413.6 C836.2,411.9 837.8,408.1 838.8,405.4 C839.8,402.7 843.2,399.9 842.9,397.2 C842.5,394.5 838.4,389.4 836.7,389.0 C835.0,388.6 834.1,394.4 832.6,395.1 C831.1,395.8 828.7,394.6 827.5,393.1 C826.3,391.6 824.7,387.4 825.4,385.9 C826.1,384.3 829.9,385.2 831.6,383.8 C833.3,382.4 834.7,379.4 835.7,377.7 C836.7,376.0 835.8,374.4 837.8,373.5Z"/>
<path d="M963.0,271.7 C963.6,272.0 964.9,274.3 965.0,276.0 C965.1,277.7 964.2,281.5 963.5,282.0 C962.8,282.5 961.3,280.3 961.0,279.0 C960.7,277.7 961.2,275.2 961.5,274.0 C961.8,272.8 962.4,271.4 963.0,271.7Z"/>
<path d="M755.2,887.8 C757.5,885.3 761.9,883.1 767.8,882.7 C773.7,882.3 785.5,885.8 790.6,885.2 C795.7,884.6 796.2,878.5 798.1,878.9 C800.0,879.3 800.9,883.8 801.9,887.8 C802.9,891.8 802.5,897.9 804.4,902.9 C806.3,907.9 811.6,913.4 813.3,918.0 C815.0,922.6 815.1,926.5 814.5,930.7 C813.9,934.9 811.8,939.5 809.5,943.3 C807.2,947.1 802.8,949.6 800.7,953.4 C798.6,957.2 797.8,961.4 796.9,966.0 C796.0,970.6 794.5,977.3 795.6,981.1 C796.7,984.9 800.5,987.7 803.2,988.7 C805.9,989.8 810.5,986.4 812.0,987.4 C813.5,988.4 813.5,994.1 812.0,995.0 C810.5,995.9 804.2,991.0 803.2,992.5 C802.2,994.0 804.0,1000.2 805.7,1003.8 C807.4,1007.4 810.3,1012.0 813.3,1013.9 C816.2,1015.8 820.9,1016.5 823.4,1015.2 C825.9,1014.0 825.9,1008.7 828.4,1006.4 C830.9,1004.1 835.1,1001.5 838.5,1001.3 C841.9,1001.1 846.1,1003.0 848.6,1005.1 C851.1,1007.2 851.7,1012.9 853.6,1013.9 C855.5,1014.9 859.4,1013.1 860.0,1011.4 C860.6,1009.7 856.4,1004.8 857.4,1003.8 C858.4,1002.8 863.1,1004.7 866.3,1005.1 C869.5,1005.5 876.2,1004.9 876.4,1006.4 C876.6,1007.9 868.6,1011.4 867.5,1013.9 C866.4,1016.4 867.7,1019.4 870.0,1021.5 C872.3,1023.6 879.9,1024.4 881.4,1026.5 C882.9,1028.6 881.4,1032.8 878.9,1034.1 C876.4,1035.4 869.7,1035.4 866.3,1034.1 C862.9,1032.8 862.1,1029.2 858.7,1026.5 C855.3,1023.8 849.9,1019.4 846.1,1017.7 C842.3,1016.0 837.5,1015.4 836.0,1016.4 C834.5,1017.4 836.2,1021.0 837.2,1024.0 C838.2,1027.0 842.5,1032.4 842.3,1034.1 C842.1,1035.8 838.7,1035.8 836.0,1034.1 C833.3,1032.4 829.7,1026.1 825.9,1024.0 C822.1,1021.9 817.1,1021.5 813.3,1021.5 C809.5,1021.5 805.7,1022.3 803.2,1024.0 C800.7,1025.7 801.1,1030.3 798.1,1031.6 C795.1,1032.9 788.6,1032.9 785.5,1031.6 C782.4,1030.3 779.4,1027.4 779.2,1024.0 C779.0,1020.6 784.1,1015.0 784.3,1011.4 C784.5,1007.8 782.4,1003.6 780.5,1002.6 C778.6,1001.6 774.4,1003.4 772.9,1005.1 C771.4,1006.8 773.3,1012.5 771.6,1012.7 C769.9,1012.9 765.5,1010.0 762.8,1006.4 C760.1,1002.8 757.7,996.7 755.2,991.2 C752.7,985.7 749.8,978.4 747.7,973.6 C745.6,968.8 741.4,963.5 742.6,962.2 C743.9,960.9 752.2,966.2 755.2,966.0 C758.2,965.8 760.3,964.7 760.3,960.9 C760.3,957.1 755.8,948.3 755.2,943.3 C754.6,938.3 756.7,935.3 756.5,930.7 C756.3,926.1 754.4,921.0 754.0,915.5 C753.6,910.0 753.8,902.5 754.0,897.9 C754.2,893.3 752.9,890.3 755.2,887.8Z"/>
<path d="M776.7,1045.5 C777.8,1044.2 785.8,1040.8 790.6,1040.4 C795.4,1040.0 802.1,1040.6 805.7,1042.9 C809.3,1045.2 811.1,1049.9 812.0,1054.3 C812.9,1058.7 811.8,1065.8 810.8,1069.4 C809.8,1073.0 807.8,1076.1 805.7,1075.7 C803.6,1075.3 800.4,1070.5 798.1,1066.9 C795.8,1063.3 794.1,1057.5 791.8,1054.3 C789.5,1051.1 786.8,1049.5 784.3,1048.0 C781.8,1046.5 775.7,1046.8 776.7,1045.5Z"/>
<path d="M895.3,1042.9 C896.1,1041.0 902.6,1038.1 906.6,1036.6 C910.6,1035.1 915.1,1033.2 919.3,1034.1 C923.5,1034.9 929.4,1037.9 931.9,1041.7 C934.4,1045.5 933.3,1053.8 934.4,1056.8 C935.5,1059.8 937.3,1057.9 938.3,1060.0 C939.3,1062.1 940.8,1066.8 940.2,1069.3 C939.6,1071.8 936.5,1074.7 934.6,1075.0 C932.7,1075.3 930.6,1072.8 929.0,1071.2 C927.4,1069.6 926.4,1067.1 925.2,1065.6 C924.0,1064.0 923.2,1063.0 921.8,1061.9 C920.4,1060.9 918.4,1061.0 916.7,1059.3 C915.0,1057.6 914.2,1053.7 911.7,1051.8 C909.2,1049.9 904.3,1049.5 901.6,1048.0 C898.9,1046.5 894.5,1044.8 895.3,1042.9Z"/>
<path d="M901.9,1069.3 C902.0,1067.4 906.7,1066.5 908.4,1067.5 C910.1,1068.5 910.2,1074.1 912.1,1075.0 C914.0,1075.9 917.7,1072.2 919.6,1073.1 C921.5,1074.0 921.8,1077.8 923.4,1080.6 C925.0,1083.4 927.3,1087.1 929.0,1089.9 C930.7,1092.7 933.6,1095.7 933.6,1097.4 C933.6,1099.1 930.1,1098.7 929.0,1100.2 C927.9,1101.8 928.0,1106.6 927.1,1106.7 C926.2,1106.8 924.3,1103.6 923.4,1101.1 C922.5,1098.6 922.8,1094.6 921.5,1091.8 C920.2,1089.0 917.8,1084.9 915.9,1084.3 C914.0,1083.7 911.7,1088.9 910.3,1088.0 C908.9,1087.1 908.9,1081.8 907.5,1078.7 C906.1,1075.6 901.8,1071.2 901.9,1069.3Z"/>
<path d="M830.8,1082.4 C832.2,1081.3 839.1,1081.2 843.0,1081.5 C846.9,1081.8 850.6,1083.4 854.2,1084.3 C857.8,1085.2 863.2,1084.9 864.5,1087.1 C865.8,1089.3 863.4,1094.1 861.7,1097.4 C860.0,1100.7 856.7,1103.9 854.2,1106.7 C851.7,1109.5 849.2,1111.9 846.7,1114.2 C844.2,1116.5 841.0,1121.0 839.3,1120.7 C837.6,1120.4 836.6,1116.2 836.4,1112.3 C836.2,1108.4 838.6,1101.5 838.3,1097.4 C838.0,1093.4 835.9,1090.5 834.6,1088.0 C833.4,1085.5 829.4,1083.5 830.8,1082.4Z"/>
<path d="M867.3,1097.4 C869.2,1095.4 872.6,1095.5 874.8,1096.4 C877.0,1097.3 879.5,1100.0 880.4,1103.0 C881.3,1106.0 880.7,1110.5 880.4,1114.2 C880.1,1117.9 879.3,1121.7 878.5,1125.4 C877.7,1129.1 876.6,1133.2 875.5,1136.6 C874.4,1140.0 873.9,1144.1 872.0,1146.0 C870.1,1147.9 866.5,1148.5 864.0,1148.0 C861.5,1147.5 858.3,1144.9 857.0,1143.0 C855.7,1141.1 855.5,1138.3 856.0,1136.6 C856.5,1134.9 858.4,1135.4 859.8,1132.9 C861.2,1130.4 863.9,1125.8 864.5,1121.7 C865.1,1117.7 863.1,1112.6 863.6,1108.6 C864.1,1104.5 865.4,1099.4 867.3,1097.4Z"/>
<path d="M894.4,1084.3 C895.2,1084.9 896.5,1093.0 896.3,1097.4 C896.1,1101.8 894.2,1106.1 893.2,1110.5 C892.2,1114.9 891.0,1119.2 890.0,1123.6 C889.0,1127.9 888.8,1134.4 887.5,1136.6 C886.2,1138.8 882.8,1139.1 882.2,1136.6 C881.6,1134.1 883.1,1126.7 884.0,1121.7 C884.9,1116.7 886.4,1111.4 887.6,1106.7 C888.8,1102.0 890.1,1097.3 891.2,1093.6 C892.3,1089.9 893.5,1083.7 894.4,1084.3Z"/>
<path d="M897.2,1125.4 C897.7,1122.9 901.9,1118.0 904.7,1116.1 C907.5,1114.2 912.1,1113.7 914.0,1114.2 C915.9,1114.7 916.8,1116.7 915.9,1118.9 C915.0,1121.1 910.7,1125.3 908.4,1127.3 C906.1,1129.3 903.8,1131.3 901.9,1131.0 C900.0,1130.7 896.7,1127.9 897.2,1125.4Z"/>
<path d="M829.0,1056.0 C830.2,1054.9 833.8,1054.4 834.5,1055.6 C835.2,1056.8 834.0,1060.9 833.0,1063.0 C832.0,1065.1 829.5,1068.2 828.5,1068.0 C827.5,1067.8 826.9,1064.0 827.0,1062.0 C827.1,1060.0 827.8,1057.1 829.0,1056.0Z"/>
<path d="M867.5,1050.0 C868.9,1048.2 874.3,1048.3 876.0,1049.0 C877.7,1049.7 878.3,1052.3 877.6,1054.0 C876.9,1055.7 873.7,1058.0 872.0,1059.0 C870.3,1060.0 868.2,1061.5 867.5,1060.0 C866.8,1058.5 866.1,1051.8 867.5,1050.0Z"/>
<path d="M880.0,1056.0 C880.3,1055.1 884.5,1056.0 886.0,1057.0 C887.5,1058.0 889.3,1061.1 889.0,1062.0 C888.7,1062.9 885.5,1063.5 884.0,1062.5 C882.5,1061.5 879.7,1056.9 880.0,1056.0Z"/>
<path d="M886.0,999.0 C887.0,998.5 889.9,999.8 891.0,1001.0 C892.1,1002.2 893.5,1004.3 892.8,1006.0 C892.1,1007.7 888.7,1010.9 887.0,1011.4 C885.3,1011.9 883.0,1010.2 882.7,1009.0 C882.4,1007.8 884.5,1005.7 885.0,1004.0 C885.5,1002.3 885.0,999.5 886.0,999.0Z"/>
<path d="M883.0,1029.5 C883.9,1028.7 886.2,1029.4 887.0,1031.0 C887.8,1032.6 888.2,1037.2 887.7,1039.0 C887.2,1040.8 885.0,1042.2 884.0,1041.7 C883.0,1041.2 881.6,1038.0 881.4,1036.0 C881.2,1034.0 882.1,1030.3 883.0,1029.5Z"/>
<path d="M946.0,1095.5 C946.5,1095.3 947.9,1097.1 948.5,1099.0 C949.1,1100.9 949.7,1105.7 949.5,1106.7 C949.3,1107.7 948.1,1106.1 947.5,1105.0 C946.9,1103.9 946.0,1101.6 945.8,1100.0 C945.5,1098.4 945.5,1095.7 946.0,1095.5Z"/>
<path d="M960.0,1101.0 C960.7,1100.8 963.2,1102.5 964.0,1104.0 C964.8,1105.5 965.1,1109.1 964.7,1110.0 C964.3,1110.9 962.4,1110.3 961.5,1109.5 C960.6,1108.7 959.9,1106.4 959.6,1105.0 C959.4,1103.6 959.3,1101.2 960.0,1101.0Z"/>
<path d="M766.6,1084.0 C766.9,1083.4 770.1,1082.8 772.0,1083.0 C773.9,1083.2 777.3,1084.2 778.0,1085.0 C778.7,1085.8 777.3,1087.2 776.0,1087.5 C774.7,1087.8 771.6,1087.1 770.0,1086.5 C768.4,1085.9 766.3,1084.6 766.6,1084.0Z"/>
<path d="M768.0,1095.0 C768.5,1094.8 770.2,1095.8 771.0,1097.0 C771.8,1098.2 773.0,1101.2 772.9,1102.0 C772.8,1102.8 771.4,1102.2 770.5,1101.5 C769.6,1100.8 768.2,1099.1 767.8,1098.0 C767.4,1096.9 767.5,1095.2 768.0,1095.0Z"/>
<path d="M754.0,1118.6 C755.2,1116.9 756.8,1115.6 758.0,1116.0 C759.2,1116.4 760.7,1118.5 761.0,1121.0 C761.3,1123.5 761.2,1127.3 760.0,1131.0 C758.8,1134.7 756.3,1138.8 754.0,1143.0 C751.7,1147.2 748.7,1151.8 746.0,1156.0 C743.3,1160.2 740.7,1164.0 738.0,1168.0 C735.3,1172.0 732.7,1176.0 730.0,1180.0 C727.3,1184.0 724.5,1188.0 722.0,1192.0 C719.5,1196.0 717.2,1200.0 715.0,1204.0 C712.8,1208.0 711.0,1213.7 709.0,1216.0 C707.0,1218.3 704.0,1219.0 703.0,1218.0 C702.0,1217.0 702.0,1213.3 703.0,1210.0 C704.0,1206.7 706.8,1202.0 709.0,1198.0 C711.2,1194.0 713.5,1190.0 716.0,1186.0 C718.5,1182.0 721.3,1178.0 724.0,1174.0 C726.7,1170.0 729.3,1166.2 732.0,1162.0 C734.7,1157.8 737.5,1153.3 740.0,1149.0 C742.5,1144.7 745.2,1139.8 747.0,1136.0 C748.8,1132.2 749.8,1128.9 751.0,1126.0 C752.2,1123.1 752.8,1120.3 754.0,1118.6Z"/>
<path d="M943.9,1116.1 C943.9,1113.6 947.0,1113.6 949.5,1114.2 C952.0,1114.8 956.1,1117.6 958.9,1119.8 C961.7,1122.0 964.4,1124.5 966.4,1127.3 C968.4,1130.1 970.1,1134.1 971.0,1136.6 C971.9,1139.1 970.6,1139.7 972.0,1142.2 C973.4,1144.7 977.2,1148.5 979.4,1151.6 C981.6,1154.7 983.8,1157.2 985.0,1160.9 C986.2,1164.6 987.0,1169.6 986.9,1174.0 C986.8,1178.4 985.0,1183.0 984.1,1187.1 C983.2,1191.1 981.3,1194.5 981.3,1198.3 C981.3,1202.1 984.2,1205.7 984.0,1210.0 C983.8,1214.3 982.0,1219.3 980.0,1224.0 C978.0,1228.7 974.7,1233.7 972.0,1238.0 C969.3,1242.3 967.0,1248.7 964.0,1250.0 C961.0,1251.3 956.0,1248.7 954.0,1246.0 C952.0,1243.3 951.7,1238.3 952.0,1234.0 C952.3,1229.7 956.0,1224.3 956.0,1220.0 C956.0,1215.7 954.0,1209.3 952.0,1208.0 C950.0,1206.7 946.0,1209.0 944.0,1212.0 C942.0,1215.0 942.3,1222.7 940.0,1226.0 C937.7,1229.3 933.7,1231.7 930.0,1232.0 C926.3,1232.3 921.0,1231.0 918.0,1228.0 C915.0,1225.0 912.3,1218.0 912.0,1214.0 C911.7,1210.0 916.7,1206.7 916.0,1204.0 C915.3,1201.3 911.3,1198.0 908.0,1198.0 C904.7,1198.0 899.0,1201.3 896.0,1204.0 C893.0,1206.7 893.0,1212.0 890.0,1214.0 C887.0,1216.0 881.7,1214.0 878.0,1216.0 C874.3,1218.0 871.0,1222.7 868.0,1226.0 C865.0,1229.3 862.7,1235.0 860.0,1236.0 C857.3,1237.0 853.7,1235.0 852.0,1232.0 C850.3,1229.0 849.3,1222.4 850.0,1218.0 C850.7,1213.6 854.7,1209.7 856.0,1205.8 C857.3,1201.9 856.3,1197.1 857.9,1194.6 C859.5,1192.1 862.3,1192.7 865.4,1190.8 C868.5,1188.9 874.1,1185.9 876.6,1183.4 C879.1,1180.9 878.2,1177.8 880.4,1175.9 C882.6,1174.0 885.7,1173.3 889.7,1172.1 C893.8,1170.8 899.4,1170.3 904.7,1168.4 C910.0,1166.5 915.6,1163.4 921.5,1160.9 C927.4,1158.4 937.1,1156.6 940.2,1153.5 C943.3,1150.4 939.0,1144.7 940.2,1142.2 C941.5,1139.7 946.2,1140.7 947.7,1138.5 C949.2,1136.3 950.1,1132.9 949.5,1129.2 C948.9,1125.5 943.9,1118.6 943.9,1116.1Z"/>
<path d="M692.0,1256.0 C694.3,1255.7 696.7,1258.7 700.0,1262.0 C703.3,1265.3 708.0,1271.3 712.0,1276.0 C716.0,1280.7 720.3,1285.7 724.0,1290.0 C727.7,1294.3 731.0,1298.3 734.0,1302.0 C737.0,1305.7 739.1,1309.2 741.7,1312.3 C744.4,1315.4 747.2,1317.5 749.9,1320.6 C752.6,1323.7 756.0,1328.1 758.1,1330.8 C760.2,1333.5 761.2,1333.8 762.2,1337.0 C763.2,1340.2 764.7,1345.3 764.0,1350.0 C763.3,1354.7 761.0,1360.7 758.0,1365.0 C755.0,1369.3 750.1,1373.1 746.0,1376.0 C741.9,1378.9 734.6,1379.8 733.5,1382.2 C732.4,1384.6 737.9,1387.8 739.6,1390.5 C741.3,1393.2 742.3,1396.0 743.7,1398.7 C745.1,1401.4 744.7,1404.2 747.8,1406.9 C750.9,1409.6 757.7,1412.3 762.2,1415.1 C766.7,1417.8 772.4,1420.7 774.6,1423.4 C776.8,1426.2 777.0,1429.5 775.6,1431.6 C774.2,1433.6 770.2,1434.3 766.3,1435.7 C762.4,1437.1 756.1,1437.8 752.0,1439.8 C747.9,1441.8 744.3,1444.6 741.7,1448.0 C739.1,1451.4 737.5,1455.9 736.5,1460.4 C735.5,1464.9 735.8,1471.2 735.5,1474.8 C735.2,1478.4 781.8,1480.8 735.0,1482.0 C688.2,1483.2 501.0,1483.2 455.0,1482.0 C409.0,1480.8 456.8,1478.6 458.9,1474.8 C460.9,1471.0 464.5,1463.8 467.3,1459.4 C470.1,1455.0 473.4,1449.1 475.7,1448.2 C478.0,1447.3 478.5,1451.9 481.3,1453.8 C484.1,1455.7 488.8,1459.9 492.5,1459.4 C496.2,1458.9 499.5,1451.5 503.7,1451.0 C507.9,1450.5 514.0,1457.5 517.7,1456.6 C521.5,1455.7 524.3,1450.5 526.2,1445.4 C528.1,1440.3 526.7,1430.5 529.0,1425.8 C531.3,1421.1 535.5,1420.2 540.2,1417.4 C544.9,1414.6 551.4,1411.6 557.0,1409.0 C562.6,1406.4 569.1,1403.9 573.8,1402.0 C578.5,1400.1 581.3,1400.8 585.0,1397.7 C588.7,1394.7 592.5,1388.8 596.2,1383.7 C600.0,1378.6 604.7,1372.0 607.5,1366.9 C610.3,1361.8 610.3,1356.6 613.1,1352.9 C615.9,1349.2 619.8,1347.5 624.3,1344.5 C628.8,1341.5 634.4,1338.7 640.0,1335.0 C645.6,1331.3 654.0,1326.1 657.9,1322.1 C661.8,1318.1 661.5,1314.8 663.5,1310.8 C665.5,1306.8 667.6,1303.1 670.0,1298.0 C672.4,1292.9 675.3,1285.7 678.0,1280.0 C680.7,1274.3 683.7,1268.0 686.0,1264.0 C688.3,1260.0 689.7,1256.3 692.0,1256.0Z"/>
<path d="M11.6,1372.8 C13.5,1371.1 17.9,1372.5 23.2,1374.2 C28.5,1375.9 36.8,1381.2 43.5,1382.9 C50.2,1384.6 57.0,1384.4 63.7,1384.4 C70.5,1384.4 79.2,1381.5 84.0,1382.9 C88.8,1384.4 88.8,1389.0 92.7,1393.1 C96.6,1397.2 102.4,1403.2 107.2,1407.5 C112.0,1411.8 116.9,1415.7 121.7,1419.1 C126.5,1422.5 131.4,1424.4 136.2,1427.8 C141.0,1431.2 146.3,1435.5 150.6,1439.4 C154.9,1443.3 158.3,1447.6 162.2,1451.0 C166.1,1454.4 169.9,1456.8 173.8,1459.7 C177.7,1462.6 181.5,1467.4 185.4,1468.4 C189.3,1469.4 193.1,1465.0 197.0,1465.5 C200.9,1466.0 205.2,1469.6 208.6,1471.3 C212.0,1473.0 215.1,1473.8 217.3,1475.6 C219.5,1477.4 239.9,1480.9 222.0,1482.0 C204.1,1483.1 129.1,1483.1 110.0,1482.0 C90.9,1480.9 109.6,1477.9 107.2,1475.6 C104.8,1473.3 99.0,1471.5 95.6,1468.4 C92.2,1465.3 90.3,1460.7 86.9,1456.8 C83.5,1452.9 79.7,1449.5 75.3,1445.2 C70.9,1440.9 66.6,1435.1 60.8,1430.7 C55.0,1426.3 46.9,1423.9 40.6,1419.1 C34.3,1414.3 28.0,1407.6 23.2,1401.8 C18.4,1396.0 13.5,1389.2 11.6,1384.4 C9.7,1379.6 9.7,1374.5 11.6,1372.8Z"/>
<path d="M26.0,1452.0 C26.3,1451.3 29.0,1451.5 31.0,1452.5 C33.0,1453.5 37.2,1456.8 38.0,1458.0 C38.8,1459.2 37.5,1460.2 36.0,1460.0 C34.5,1459.8 30.7,1457.8 29.0,1456.5 C27.3,1455.2 25.7,1452.7 26.0,1452.0Z"/>
<path d="M38.0,1459.5 C38.5,1459.2 41.7,1460.6 44.0,1462.0 C46.3,1463.4 51.2,1466.8 52.0,1468.0 C52.8,1469.2 50.8,1469.7 49.0,1469.0 C47.2,1468.3 42.8,1465.6 41.0,1464.0 C39.2,1462.4 37.5,1459.8 38.0,1459.5Z"/>
<path d="M69.0,1472.0 C70.2,1470.2 73.8,1470.7 76.0,1471.0 C78.2,1471.3 81.0,1472.2 82.0,1474.0 C83.0,1475.8 84.2,1480.7 82.0,1482.0 C79.8,1483.3 71.2,1483.7 69.0,1482.0 C66.8,1480.3 67.8,1473.8 69.0,1472.0Z"/>
<path d="M422.4,1397.0 C423.1,1394.7 427.7,1389.8 430.0,1389.3 C432.3,1388.8 436.1,1391.4 436.4,1394.0 C436.7,1396.6 433.7,1403.3 432.0,1404.8 C430.3,1406.3 427.6,1404.3 426.0,1403.0 C424.4,1401.7 421.7,1399.3 422.4,1397.0Z"/>
<path d="M814.0,1482.0 C800.7,1480.5 812.7,1477.0 811.6,1472.7 C810.5,1468.4 807.9,1460.9 807.5,1456.3 C807.1,1451.7 808.3,1448.4 809.0,1445.0 C809.7,1441.6 809.8,1439.3 811.6,1435.7 C813.4,1432.1 817.1,1426.9 819.8,1423.4 C822.5,1420.0 824.9,1417.4 828.0,1415.0 C831.1,1412.6 834.6,1411.2 838.3,1409.0 C842.0,1406.8 845.8,1404.1 850.0,1402.0 C854.2,1399.9 858.4,1397.6 863.4,1396.3 C868.4,1395.0 873.8,1394.5 880.0,1394.0 C886.2,1393.5 894.4,1393.7 900.4,1393.2 C906.4,1392.7 910.9,1392.0 916.0,1391.0 C921.1,1390.0 926.9,1388.6 931.2,1387.1 C935.5,1385.6 938.4,1383.8 942.0,1382.0 C945.6,1380.2 949.6,1378.1 952.8,1376.3 C956.0,1374.5 958.6,1371.7 961.0,1371.0 C963.4,1370.3 966.3,1370.8 967.0,1372.0 C967.7,1373.2 966.9,1376.0 965.0,1378.0 C963.1,1380.0 958.9,1382.0 955.9,1384.0 C952.9,1386.0 950.1,1388.0 947.0,1390.0 C943.9,1392.0 941.1,1394.0 937.4,1396.0 C933.7,1398.0 929.1,1400.2 925.0,1402.0 C920.9,1403.8 917.5,1405.7 912.7,1407.0 C907.9,1408.3 901.6,1409.2 896.0,1410.0 C890.4,1410.8 884.5,1411.2 878.8,1412.0 C873.1,1412.8 866.8,1413.7 862.0,1415.0 C857.2,1416.3 853.7,1418.0 850.0,1420.0 C846.3,1422.0 843.0,1424.3 840.0,1427.0 C837.0,1429.7 834.2,1432.8 832.0,1436.0 C829.8,1439.2 827.7,1443.0 827.0,1446.0 C826.3,1449.0 826.8,1451.5 828.0,1454.0 C829.2,1456.5 831.7,1459.0 834.0,1461.0 C836.3,1463.0 838.8,1465.0 841.8,1465.7 C844.8,1466.4 848.4,1465.5 852.0,1465.0 C855.6,1464.5 859.7,1463.8 863.4,1462.6 C867.1,1461.4 870.4,1459.5 874.0,1458.0 C877.6,1456.5 881.7,1455.1 885.0,1453.4 C888.3,1451.7 890.9,1449.5 894.0,1448.0 C897.1,1446.5 900.3,1445.2 903.5,1444.1 C906.7,1443.0 909.9,1441.8 913.0,1441.5 C916.1,1441.2 919.5,1441.1 922.0,1442.6 C924.5,1444.1 928.2,1448.2 928.2,1450.3 C928.2,1452.4 924.1,1454.0 922.0,1455.0 C919.9,1456.0 918.1,1455.3 915.8,1456.5 C913.5,1457.7 910.6,1460.0 908.0,1462.0 C905.4,1464.0 902.6,1466.6 900.4,1468.8 C898.2,1471.0 896.5,1472.8 895.0,1475.0 C893.5,1477.2 904.7,1480.8 891.2,1482.0 C877.7,1483.2 827.3,1483.5 814.0,1482.0Z"/>
<path d="M955.9,1478.0 C957.1,1475.7 959.9,1470.6 962.0,1468.0 C964.1,1465.4 965.8,1464.0 968.3,1462.6 C970.8,1461.2 973.9,1460.3 977.0,1459.5 C980.1,1458.7 983.6,1458.6 986.8,1458.0 C990.0,1457.4 992.9,1456.5 996.0,1456.0 C999.1,1455.5 1001.7,1455.3 1005.3,1454.9 C1008.9,1454.5 1016.3,1452.9 1017.6,1453.4 C1018.9,1453.9 1014.0,1457.0 1013.0,1458.0 C1012.0,1459.0 1012.4,1458.8 1011.4,1459.5 C1010.4,1460.2 1008.0,1461.0 1007.0,1462.0 C1006.0,1463.0 1005.5,1464.2 1005.3,1465.7 C1005.1,1467.2 1005.5,1468.3 1006.0,1471.0 C1006.5,1473.7 1009.6,1480.2 1008.3,1482.0 C1007.0,1483.8 999.9,1484.0 998.0,1482.0 C996.1,1480.0 997.7,1473.0 997.0,1470.0 C996.3,1467.0 996.2,1465.0 994.0,1464.0 C991.8,1463.0 987.3,1463.3 984.0,1464.0 C980.7,1464.7 977.0,1466.0 974.0,1468.0 C971.0,1470.0 967.8,1473.7 966.0,1476.0 C964.2,1478.3 964.8,1481.0 963.0,1482.0 C961.2,1483.0 956.2,1482.7 955.0,1482.0 C953.8,1481.3 954.7,1480.3 955.9,1478.0Z"/>
<path d="M866.0,1449.0 C866.3,1447.7 869.7,1446.5 872.0,1445.0 C874.3,1443.5 878.2,1440.5 880.0,1440.0 C881.8,1439.5 883.5,1440.7 883.0,1442.0 C882.5,1443.3 879.2,1446.2 877.0,1448.0 C874.8,1449.8 871.8,1452.8 870.0,1453.0 C868.2,1453.2 865.7,1450.3 866.0,1449.0Z"/>
<path d="M885.0,1439.0 C885.0,1437.8 887.8,1435.3 889.0,1435.0 C890.2,1434.7 892.0,1435.8 892.0,1437.0 C892.0,1438.2 890.2,1441.7 889.0,1442.0 C887.8,1442.3 885.0,1440.2 885.0,1439.0Z"/>
<path d="M918.0,1462.0 C918.7,1460.2 921.3,1459.0 924.0,1459.0 C926.7,1459.0 932.0,1460.2 934.0,1462.0 C936.0,1463.8 937.0,1468.0 936.0,1470.0 C935.0,1472.0 930.7,1474.0 928.0,1474.0 C925.3,1474.0 921.7,1472.0 920.0,1470.0 C918.3,1468.0 917.3,1463.8 918.0,1462.0Z"/>
<path d="M1048.5,1326.0 C1050.0,1325.0 1051.4,1326.8 1053.0,1330.0 C1054.6,1333.2 1055.8,1341.3 1058.0,1345.0 C1060.2,1348.7 1064.7,1343.7 1066.0,1352.0 C1067.3,1360.3 1068.4,1388.4 1066.0,1395.0 C1063.6,1401.6 1054.7,1394.2 1051.5,1391.7 C1048.3,1389.2 1048.0,1384.1 1047.0,1380.0 C1046.0,1375.9 1046.2,1372.2 1045.4,1367.0 C1044.6,1361.8 1042.5,1353.7 1042.3,1348.5 C1042.1,1343.3 1043.0,1339.8 1044.0,1336.0 C1045.0,1332.2 1047.0,1327.0 1048.5,1326.0Z"/>
<path d="M1042.0,1402.0 C1043.3,1400.2 1047.3,1401.5 1050.0,1401.0 C1052.7,1400.5 1057.0,1398.5 1058.0,1399.0 C1059.0,1399.5 1055.5,1402.2 1056.0,1404.0 C1056.5,1405.8 1059.3,1409.0 1061.0,1410.0 C1062.7,1411.0 1065.2,1409.0 1066.0,1410.0 C1066.8,1411.0 1067.3,1415.3 1066.0,1416.0 C1064.7,1416.7 1060.0,1413.4 1058.0,1414.0 C1056.0,1414.6 1055.2,1419.8 1054.0,1419.5 C1052.8,1419.2 1052.3,1413.8 1051.0,1412.0 C1049.7,1410.2 1047.2,1408.5 1046.0,1409.0 C1044.8,1409.5 1044.7,1414.5 1044.0,1415.0 C1043.3,1415.5 1042.3,1414.2 1042.0,1412.0 C1041.7,1409.8 1040.7,1403.8 1042.0,1402.0Z"/>
<path d="M1053.0,1428.0 C1053.7,1426.1 1055.2,1425.1 1056.0,1425.6 C1056.8,1426.1 1056.3,1429.9 1058.0,1431.0 C1059.7,1432.1 1064.7,1430.3 1066.0,1432.0 C1067.3,1433.7 1067.3,1439.7 1066.0,1441.0 C1064.7,1442.3 1060.3,1440.7 1058.0,1440.0 C1055.7,1439.3 1052.8,1439.0 1052.0,1437.0 C1051.2,1435.0 1052.3,1429.9 1053.0,1428.0Z"/>
</g>
<g fill="#c9c9c7" stroke="#fff" stroke-width="1.2">
<ellipse cx="96" cy="1172" rx="1.6" ry="3.5" transform="rotate(10 96 1172)"/>
<ellipse cx="108" cy="1184" rx="2" ry="5" transform="rotate(8 108 1184)"/>
<ellipse cx="100.5" cy="1190" rx="2" ry="5.5" transform="rotate(5 100.5 1190)"/>
<ellipse cx="93" cy="1213" rx="1.6" ry="2.4" transform="rotate(0 93 1213)"/>
<ellipse cx="100.5" cy="1214" rx="1.8" ry="4.2" transform="rotate(5 100.5 1214)"/>
<ellipse cx="110.5" cy="1210" rx="1.6" ry="3" transform="rotate(0 110.5 1210)"/>
<ellipse cx="92.5" cy="1225.5" rx="1.6" ry="2.4" transform="rotate(0 92.5 1225.5)"/>
<ellipse cx="101.5" cy="1225" rx="1.6" ry="2" transform="rotate(0 101.5 1225)"/>
<ellipse cx="100.5" cy="1240" rx="2" ry="5" transform="rotate(25 100.5 1240)"/>
<ellipse cx="92" cy="1258" rx="1.6" ry="2" transform="rotate(0 92 1258)"/>
<ellipse cx="84" cy="1183" rx="1.6" ry="1.8" transform="rotate(0 84 1183)"/>
<ellipse cx="77" cy="1187" rx="1.6" ry="1.8" transform="rotate(0 77 1187)"/>
<ellipse cx="108" cy="1302" rx="1.8" ry="4.2" transform="rotate(5 108 1302)"/>
<ellipse cx="116" cy="1298" rx="1.6" ry="2.6" transform="rotate(0 116 1298)"/>
<ellipse cx="132.5" cy="1309" rx="1.6" ry="3.6" transform="rotate(-5 132.5 1309)"/>
<ellipse cx="147" cy="1321" rx="1.4" ry="2.4" transform="rotate(-20 147 1321)"/>
<ellipse cx="150.5" cy="1340" rx="1.6" ry="2.6" transform="rotate(0 150.5 1340)"/>
<ellipse cx="156" cy="1349" rx="3" ry="1.8" transform="rotate(35 156 1349)"/>
<ellipse cx="137" cy="1342" rx="2" ry="1.6" transform="rotate(0 137 1342)"/>
<ellipse cx="149.5" cy="1252" rx="1.6" ry="2" transform="rotate(0 149.5 1252)"/>
<ellipse cx="160.5" cy="1247" rx="1.6" ry="3" transform="rotate(0 160.5 1247)"/>
<ellipse cx="158" cy="1254" rx="1.4" ry="2" transform="rotate(0 158 1254)"/>
<ellipse cx="11" cy="1366" rx="1.6" ry="3.2" transform="rotate(10 11 1366)"/>
<ellipse cx="4" cy="1370" rx="1.4" ry="1.6" transform="rotate(0 4 1370)"/>
<ellipse cx="369.5" cy="1261" rx="1.8" ry="2.6" transform="rotate(20 369.5 1261)"/>
<ellipse cx="360" cy="1266" rx="1.4" ry="1.4" transform="rotate(0 360 1266)"/>
<ellipse cx="346" cy="1268" rx="1" ry="1" transform="rotate(0 346 1268)"/>
<ellipse cx="420.5" cy="1373.5" rx="1.6" ry="1.6" transform="rotate(0 420.5 1373.5)"/>
<ellipse cx="452" cy="1423.5" rx="1.8" ry="2.8" transform="rotate(15 452 1423.5)"/>
<ellipse cx="459" cy="1435" rx="1.8" ry="1.6" transform="rotate(0 459 1435)"/>
<ellipse cx="417.5" cy="1426" rx="1.4" ry="2" transform="rotate(0 417.5 1426)"/>
</g>
<g fill="none" stroke="#fff" stroke-width="2.1" stroke-linejoin="round" stroke-linecap="round">
<path d="M762.6,-2.0 C762.1,0.5 758.7,8.3 759.8,13.0 C760.9,17.7 765.9,20.7 769.0,26.0 C772.1,31.3 776.0,38.4 778.5,45.0 C781.0,51.6 784.3,59.5 784.0,65.4 C783.7,71.3 777.8,77.9 776.6,80.4"/>
<path d="M764.5,-2.0 C764.1,0.3 761.0,7.3 762.2,12.0 C763.4,16.7 768.5,20.5 771.5,26.0 C774.5,31.5 778.2,38.7 780.5,45.0 C782.8,51.3 784.7,60.8 785.5,64.0"/>
<path d="M776.6,82.2 C776.0,83.5 774.1,89.4 772.9,89.7 C771.7,90.0 770.8,85.3 769.2,84.1 C767.7,82.8 765.0,81.6 763.6,82.2 C762.2,82.8 761.0,85.4 760.7,87.9 C760.4,90.4 762.8,94.1 761.7,97.2 C760.6,100.3 755.8,103.4 754.2,106.5 C752.6,109.6 754.2,113.4 752.3,115.9 C750.4,118.4 745.8,119.3 743.0,121.5 C740.2,123.7 735.4,126.5 735.5,129.0 C735.6,131.5 742.6,133.9 743.9,136.4 C745.1,138.9 744.7,142.0 743.0,143.9 C741.3,145.8 737.3,147.1 733.6,147.7 C729.9,148.3 724.4,148.2 720.6,147.7 C716.8,147.2 713.3,143.7 710.9,144.7 C708.5,145.7 707.0,150.2 706.4,153.6 C705.8,157.0 709.0,160.4 707.5,164.9 C706.0,169.4 700.2,175.8 697.4,180.6 C694.6,185.4 693.1,189.2 690.7,194.0 C688.3,198.8 685.0,205.9 682.8,209.7 C680.5,213.4 678.1,215.4 677.2,216.5"/>
<path d="M783.2,224.9 C781.3,225.6 775.6,227.4 772.0,229.0 C768.4,230.6 765.0,232.1 761.7,234.2 C758.4,236.3 754.2,238.6 752.3,241.7 C750.4,244.8 750.1,249.5 750.1,252.9 C750.1,256.3 751.9,260.6 752.3,262.2"/>
<path d="M-2.0,661.0 C0.2,660.4 7.1,659.2 11.2,657.5 C15.3,655.8 19.4,651.4 22.4,650.5 C25.4,649.6 27.5,649.8 29.4,651.9 C31.3,654.0 31.7,660.1 33.6,663.1 C35.5,666.1 40.0,667.5 40.7,670.1 C41.4,672.7 36.9,676.2 37.8,678.5 C38.7,680.8 42.5,682.7 46.3,684.1 C50.0,685.5 56.6,687.8 60.3,686.9 C64.0,686.0 65.2,678.7 68.7,678.5 C72.2,678.3 77.8,681.8 81.3,685.5 C84.8,689.2 86.7,697.2 89.7,700.9 C92.7,704.6 97.5,703.2 99.5,707.9 C101.5,712.6 101.3,720.8 101.5,729.0 C101.7,737.2 102.4,750.0 100.4,757.0 C98.4,764.0 93.6,766.8 89.7,771.0 C85.8,775.2 79.7,777.1 77.1,782.2 C74.5,787.4 74.8,795.6 74.3,801.9 C73.8,808.2 72.2,818.2 74.3,820.1 C76.4,822.0 82.9,813.8 86.9,813.1 C90.9,812.4 94.1,813.6 98.1,815.9 C102.1,818.2 107.0,822.9 110.7,827.1 C114.4,831.3 117.5,837.8 120.5,841.1 C123.5,844.4 128.8,842.5 129.0,846.7 C129.2,850.9 121.5,861.6 122.0,866.3 C122.5,871.0 127.8,872.4 131.8,874.7 C135.8,877.1 140.7,878.0 145.8,880.4 C150.9,882.8 157.5,888.6 162.6,888.8 C167.7,889.0 173.3,881.2 176.6,881.7 C179.9,882.2 179.4,889.5 182.2,891.6 C185.0,893.7 191.5,898.6 193.4,894.4 C195.3,890.2 192.7,872.8 193.4,866.3 C194.1,859.8 195.5,857.2 197.6,855.1 C199.7,853.0 204.7,853.9 206.1,853.7"/>
<path d="M60.3,686.9 C59.6,689.2 57.7,697.2 56.1,700.9 C54.5,704.6 50.5,705.5 50.5,709.3 C50.5,713.0 56.2,721.3 56.1,723.4 C56.0,725.5 52.3,723.4 50.0,722.0 C47.7,720.6 45.8,715.1 42.1,714.9 C38.4,714.7 32.7,717.8 28.0,720.6 C23.3,723.4 19.0,728.4 14.0,731.8 C9.0,735.2 0.7,739.5 -2.0,741.0"/>
<path d="M179.4,889.8 C177.5,891.0 171.2,893.8 168.2,896.8 C165.2,899.8 164.5,904.5 161.2,908.0 C157.9,911.5 153.3,915.7 148.6,917.8 C143.9,919.9 136.0,919.3 133.2,920.7 C130.4,922.1 133.9,925.1 131.8,926.3 C129.7,927.5 123.3,925.8 120.5,927.7 C117.7,929.6 119.6,935.2 114.9,937.5 C110.2,939.8 97.6,940.1 92.5,941.7 C87.4,943.3 85.7,943.6 84.1,947.3 C82.5,951.0 83.6,959.0 82.7,964.1 C81.8,969.2 79.0,973.4 78.5,978.1 C78.0,982.8 79.0,987.4 79.9,992.1 C80.8,996.8 81.1,1001.5 84.1,1006.2 C87.1,1010.9 93.9,1015.1 98.1,1020.2 C102.3,1025.3 106.0,1032.8 109.3,1037.0 C112.6,1041.2 117.2,1042.1 117.7,1045.4 C118.2,1048.7 113.7,1052.4 112.1,1056.6 C110.5,1060.8 109.8,1065.9 107.9,1070.6 C106.0,1075.3 101.4,1080.4 100.9,1084.6 C100.4,1088.8 102.3,1092.2 105.1,1095.9 C107.9,1099.7 114.2,1102.9 117.7,1107.1 C121.2,1111.3 124.1,1116.0 126.2,1121.1 C128.3,1126.2 128.5,1132.3 130.4,1137.9 C132.3,1143.5 135.6,1150.0 137.4,1154.7 C139.2,1159.4 140.5,1162.1 141.5,1166.0 C142.5,1169.9 144.4,1172.5 143.5,1178.0 C142.6,1183.5 141.0,1190.2 136.2,1199.0 C131.3,1207.8 118.0,1225.5 114.4,1230.8"/>
<path d="M148.6,917.8 C150.5,918.5 157.5,919.3 159.8,922.1 C162.1,924.9 160.7,931.4 162.6,934.7 C164.5,938.0 167.7,940.8 171.0,941.7 C174.3,942.6 179.4,938.4 182.2,940.3 C185.0,942.2 186.9,948.0 187.8,952.9 C188.7,957.8 188.3,964.1 187.8,969.7 C187.3,975.3 186.4,981.1 185.0,986.5 C183.6,991.9 179.4,998.5 179.4,1002.0 C179.4,1005.5 182.2,1008.8 185.0,1007.6 C187.8,1006.4 191.5,998.4 196.2,994.9 C200.9,991.4 206.1,987.9 213.1,986.5 C220.1,985.1 231.8,988.6 238.3,986.5 C244.8,984.4 247.2,975.3 252.3,973.9 C257.4,972.5 263.5,975.1 269.1,978.1 C274.7,981.1 281.3,987.0 286.0,992.1 C290.7,997.2 294.8,1003.9 297.2,1009.0 C299.6,1014.1 298.7,1018.3 300.6,1022.8 C302.5,1027.3 304.9,1032.0 308.4,1035.9 C311.9,1039.8 318.4,1042.9 321.5,1046.4 C324.6,1049.9 325.7,1052.5 326.8,1056.8 C327.9,1061.1 328.3,1067.7 328.1,1072.5 C327.9,1077.3 326.9,1081.9 325.4,1085.6 C323.9,1089.3 320.0,1093.3 318.9,1094.8"/>
<path d="M319.0,1046.0 C319.8,1047.8 322.9,1052.7 324.0,1057.0 C325.1,1061.3 325.7,1067.5 325.5,1072.0 C325.3,1076.5 324.6,1080.3 323.0,1084.0 C321.4,1087.7 317.2,1092.3 316.0,1094.0"/>
<path d="M235.2,1168.1 C236.3,1167.4 241.0,1166.5 241.7,1164.1 C242.3,1161.7 240.4,1157.6 239.1,1153.7 C237.8,1149.8 235.1,1145.0 233.8,1140.6 C232.5,1136.2 231.0,1131.4 231.2,1127.5 C231.4,1123.6 233.2,1120.5 235.2,1117.0 C237.2,1113.5 239.5,1109.6 243.0,1106.6 C246.5,1103.5 251.3,1100.5 256.1,1098.7 C260.9,1097.0 266.6,1097.0 271.8,1096.1 C277.0,1095.2 282.3,1094.0 287.5,1093.5 C292.7,1093.0 298.0,1092.7 303.2,1092.9 C308.4,1093.1 314.5,1094.5 318.9,1094.8 C323.3,1095.1 325.9,1094.4 329.4,1094.8 C332.9,1095.2 337.2,1097.6 339.8,1097.4 C342.4,1097.2 344.7,1095.0 345.1,1093.5 C345.6,1092.0 341.6,1090.2 342.5,1088.2 C343.4,1086.2 347.7,1083.7 350.3,1081.7 C352.9,1079.8 355.6,1076.9 358.2,1076.5 C360.8,1076.1 363.4,1078.0 366.0,1079.1 C368.6,1080.2 372.6,1082.3 373.9,1083.0"/>
<path d="M168.0,1338.0 C170.9,1339.0 181.1,1341.9 185.4,1343.8 C189.8,1345.7 191.4,1346.2 194.1,1349.6 C196.8,1353.0 196.5,1362.6 201.3,1364.1 C206.1,1365.5 218.0,1360.9 223.1,1358.3 C228.2,1355.7 230.3,1349.9 231.7,1348.2"/>
<path d="M664.9,1378.1 C664.7,1379.5 665.6,1383.2 663.5,1386.5 C661.4,1389.8 653.9,1394.2 652.3,1397.7 C650.7,1401.2 655.1,1404.8 653.7,1407.6 C652.3,1410.4 645.1,1411.6 643.9,1414.6 C642.7,1417.6 647.2,1422.1 646.7,1425.8 C646.2,1429.5 644.8,1433.7 641.1,1437.0 C637.4,1440.3 629.0,1443.5 624.3,1445.4 C619.6,1447.3 617.8,1448.7 613.1,1448.2 C608.4,1447.7 601.8,1443.1 596.2,1442.6 C590.6,1442.1 585.0,1443.5 579.4,1445.4 C573.8,1447.3 567.3,1450.5 562.6,1453.8 C557.9,1457.1 556.1,1462.2 551.4,1465.0 C546.7,1467.8 539.7,1469.0 534.6,1470.6 C529.5,1472.2 524.4,1473.2 520.6,1474.8 C516.8,1476.4 513.4,1479.1 512.0,1480.0"/>
<path d="M599.8,772.8 C601.5,772.4 606.6,771.1 610.0,770.5 C613.4,769.9 618.2,769.4 619.9,769.2"/>
<path d="M-2.0,14.0 C1.7,14.3 13.5,15.2 20.0,16.0 C26.5,16.8 32.3,19.8 37.0,19.0 C41.7,18.2 44.8,14.5 48.0,11.0 C51.2,7.5 54.7,0.2 56.0,-2.0"/>
<path d="M252.0,-2.0 C253.3,-0.3 256.8,5.3 260.0,8.0 C263.2,10.7 266.8,12.3 271.0,14.0 C275.2,15.7 280.3,17.2 285.0,18.0 C289.7,18.8 294.0,19.7 299.0,19.0 C304.0,18.3 310.3,15.7 315.0,14.0 C319.7,12.3 323.5,11.7 327.0,9.0 C330.5,6.3 334.5,-0.2 336.0,-2.0"/>
<path d="M427.6,-2.0 C427.7,0.3 427.6,7.8 428.0,12.0 C428.4,16.2 428.0,20.8 430.0,23.0 C432.0,25.2 436.9,25.0 440.0,25.0 C443.1,25.0 445.6,23.8 448.6,23.0 C451.6,22.2 455.7,21.5 458.0,20.0 C460.3,18.5 459.9,15.5 462.6,14.0 C465.3,12.5 470.1,11.8 474.0,11.0 C477.9,10.2 481.7,10.4 486.0,9.3 C490.3,8.2 495.7,5.8 500.0,4.7 C504.3,3.7 510.0,3.3 512.0,3.0"/>
<path d="M-2.0,196.0 C-0.7,198.3 3.3,205.3 6.0,210.0 C8.7,214.7 10.3,219.3 14.0,224.0 C17.7,228.7 23.3,234.8 28.0,238.0 C32.7,241.2 37.3,241.7 42.0,243.0 C46.7,244.3 51.3,245.2 56.0,246.0 C60.7,246.8 67.7,247.4 70.0,247.7"/>
<path d="M364.5,140.0 C365.2,143.9 366.4,156.6 369.0,163.6 C371.6,170.6 375.5,176.6 380.0,182.0 C384.5,187.4 389.3,192.3 396.0,196.0 C402.7,199.7 412.0,202.3 420.0,204.0 C428.0,205.7 435.7,207.3 444.0,206.0 C452.3,204.7 462.0,200.3 470.0,196.0 C478.0,191.7 486.2,186.0 492.0,180.0 C497.8,174.0 499.7,165.0 505.0,160.0 C510.3,155.0 516.8,152.3 524.0,150.0 C531.2,147.7 540.3,146.0 548.0,146.0 C555.7,146.0 563.0,147.7 570.0,150.0 C577.0,152.3 586.7,158.3 590.0,160.0"/>
<path d="M364.5,140.0 C362.4,138.0 356.1,131.7 352.0,128.0 C347.9,124.3 343.7,122.0 340.0,118.0 C336.3,114.0 330.3,108.7 330.0,104.0 C329.7,99.3 334.3,93.3 338.0,90.0 C341.7,86.7 349.7,85.0 352.0,84.0"/>
<path d="M70.0,247.7 C73.3,249.1 83.0,254.3 90.0,256.0 C97.0,257.7 104.7,259.0 112.0,258.0 C119.3,257.0 127.7,253.3 134.0,250.0 C140.3,246.7 146.0,243.0 150.0,238.0 C154.0,233.0 158.0,226.3 158.0,220.0 C158.0,213.7 149.7,205.7 150.0,200.0 C150.3,194.3 155.0,189.3 160.0,186.0 C165.0,182.7 176.7,181.0 180.0,180.0"/>
</g>
<path d="M202.1,846.7 C202.1,845.2 207.1,835.7 208.3,835.2 C209.5,834.7 214.9,839.8 216.3,840.5 C217.7,841.2 223.9,843.4 225.2,843.2 C226.5,843.1 231.3,839.6 232.3,838.7 C233.3,837.8 236.0,832.5 236.7,832.5 C237.4,832.5 239.7,838.6 240.3,838.7 C240.9,838.9 243.1,834.4 243.8,834.3 C244.5,834.2 247.5,837.3 248.3,837.8 C249.1,838.3 252.8,840.9 253.6,840.5 C254.4,840.1 257.2,833.2 258.0,832.5 C258.8,831.8 262.7,831.2 263.4,831.6 C264.1,832.0 265.6,837.6 266.0,837.8 C266.4,838.0 268.0,835.0 268.7,834.3 C269.4,833.6 273.0,830.6 274.0,829.9 C275.0,829.2 279.5,826.3 280.2,825.4 C280.9,824.5 281.3,820.0 282.0,819.2 C282.7,818.4 288.1,816.4 289.1,815.7 C290.1,815.0 293.5,811.1 294.4,811.2 C295.3,811.3 299.1,815.6 299.8,816.5 C300.5,817.4 302.3,821.2 303.0,821.5 C303.7,821.8 307.4,820.0 308.6,820.1 C309.8,820.2 316.3,822.6 317.5,822.8 C318.7,822.9 321.8,821.8 322.8,821.9 C323.8,822.0 328.9,824.4 329.9,824.5 C330.9,824.6 334.5,823.4 335.3,823.6 C336.1,823.8 339.6,826.4 339.7,827.2 C339.8,828.0 337.5,832.4 337.0,833.4 C336.5,834.4 334.2,838.1 333.5,838.7 C332.8,839.3 328.3,840.1 328.2,840.5 C328.1,840.9 331.0,842.5 331.7,843.2 C332.4,843.9 336.1,848.6 337.0,849.4 C337.9,850.2 341.4,852.3 342.4,852.9 C343.4,853.5 348.3,856.0 349.5,856.5 C350.7,857.0 355.7,858.6 356.6,859.2 C357.5,859.8 359.2,863.3 360.1,863.6 C361.0,863.9 366.2,862.9 367.2,862.7 C368.2,862.5 371.6,860.8 372.5,860.9 C373.4,861.0 378.1,863.7 377.9,864.5 C377.7,865.3 371.3,869.3 369.8,870.2 C368.3,871.1 361.5,874.2 360.1,875.1 C358.7,876.0 354.0,880.3 352.8,881.1 C351.6,881.9 346.4,883.9 345.5,884.8 C344.6,885.7 342.7,890.8 341.9,892.1 C341.1,893.4 336.8,899.4 335.8,900.6 C334.8,901.8 330.8,905.5 329.7,906.6 C328.6,907.7 323.4,912.7 322.4,913.9 C321.4,915.1 318.2,919.8 317.6,921.2 C317.0,922.6 315.7,929.5 315.2,930.9 C314.7,932.3 311.6,936.8 311.5,938.2 C311.4,939.6 313.3,946.1 313.9,947.9 C314.5,949.7 317.7,958.3 318.8,960.1 C319.9,961.9 325.9,968.3 327.3,969.8 C328.7,971.3 335.0,977.0 335.8,978.3 C336.6,979.6 336.2,984.1 337.0,985.6 C337.8,987.1 344.0,994.9 345.5,996.6 C347.0,998.3 353.6,1004.9 355.2,1006.3 C356.8,1007.7 363.6,1012.6 365.0,1013.6 C366.4,1014.6 370.7,1017.5 372.2,1018.7 C373.7,1019.9 381.8,1026.7 383.5,1028.0 C385.2,1029.3 391.4,1033.3 392.8,1034.6 C394.2,1035.8 399.1,1041.5 400.3,1043.0 C401.6,1044.5 406.6,1050.9 407.8,1052.3 C409.0,1053.7 414.1,1058.1 415.2,1059.8 C416.3,1061.5 420.0,1070.9 420.8,1072.9 C421.6,1074.9 424.0,1082.2 424.6,1084.1 C425.2,1086.0 427.9,1093.4 428.3,1095.3 C428.7,1097.2 429.0,1104.5 429.3,1106.5 C429.6,1108.5 431.6,1117.6 432.1,1119.6 C432.6,1121.6 435.9,1129.4 435.8,1130.8 C435.7,1132.2 431.4,1135.2 431.1,1136.4 C430.8,1137.7 432.2,1144.2 432.1,1145.8 C432.0,1147.4 430.4,1153.8 430.2,1155.1 C430.0,1156.4 429.1,1160.1 429.2,1161.2 C429.3,1162.3 431.4,1167.1 431.0,1168.7 C430.6,1170.3 426.0,1178.3 424.5,1179.9 C423.0,1181.5 415.2,1186.2 413.3,1187.4 C411.4,1188.7 403.7,1193.8 402.1,1194.9 C400.5,1196.0 395.9,1199.7 394.6,1200.5 C393.4,1201.3 388.2,1204.4 387.1,1205.1 C386.0,1205.8 382.4,1208.4 381.5,1208.9 C380.6,1209.5 376.9,1211.8 375.9,1211.7 C374.9,1211.6 370.4,1208.4 369.3,1207.9 C368.2,1207.4 363.5,1205.5 362.8,1206.0 C362.1,1206.5 361.1,1212.2 360.9,1213.6 C360.7,1215.0 361.2,1221.4 360.9,1222.9 C360.6,1224.5 357.8,1230.8 357.2,1232.2 C356.6,1233.6 354.5,1238.8 353.5,1239.7 C352.5,1240.6 345.9,1242.8 345.0,1243.5 C344.1,1244.2 344.1,1247.5 343.2,1248.1 C342.3,1248.7 336.0,1250.2 334.8,1250.9 C333.6,1251.6 330.1,1255.6 329.2,1256.5 C328.3,1257.4 324.7,1261.0 323.6,1262.1 C322.5,1263.2 317.6,1268.7 316.1,1269.6 C314.6,1270.5 306.7,1273.0 305.8,1272.4 C304.9,1271.8 305.9,1263.9 305.8,1262.1 C305.8,1260.3 305.2,1252.5 305.2,1250.9 C305.2,1249.4 305.7,1244.6 305.8,1243.5 C305.9,1242.4 306.2,1239.0 306.7,1237.9 C307.2,1236.8 311.5,1231.5 311.4,1230.4 C311.2,1229.3 306.1,1225.5 304.9,1224.8 C303.7,1224.1 298.3,1222.7 297.4,1222.0 C296.5,1221.3 294.4,1217.1 294.6,1216.4 C294.8,1215.7 299.1,1214.2 300.2,1213.6 C301.3,1213.0 306.9,1209.8 307.7,1208.9 C308.5,1208.0 309.0,1202.9 309.5,1202.3 C310.0,1201.7 313.2,1201.6 314.2,1201.4 C315.2,1201.2 320.8,1199.9 321.7,1199.5 C322.6,1199.1 324.5,1196.7 325.4,1196.7 C326.3,1196.7 330.8,1199.2 332.0,1199.5 C333.2,1199.8 339.5,1200.9 340.4,1200.5 C341.2,1200.1 342.7,1196.0 342.2,1194.9 C341.7,1193.8 335.7,1188.8 334.8,1187.4 C333.9,1186.0 330.9,1179.2 331.0,1178.0 C331.1,1176.8 335.7,1173.8 336.6,1173.4 C337.5,1173.1 341.4,1173.8 342.3,1173.8 C343.2,1173.8 347.4,1174.4 347.9,1173.8 C348.4,1173.2 347.3,1167.1 347.9,1166.4 C348.5,1165.7 354.1,1165.7 355.4,1165.4 C356.6,1165.1 361.8,1163.1 362.9,1162.6 C364.0,1162.1 367.8,1159.6 368.5,1158.9 C369.2,1158.2 370.5,1154.7 371.3,1154.2 C372.1,1153.7 377.1,1154.0 377.9,1153.3 C378.7,1152.6 380.4,1147.2 380.7,1145.8 C381.0,1144.4 381.8,1137.8 381.6,1136.4 C381.4,1135.0 377.9,1130.4 377.9,1129.0 C377.9,1127.6 381.3,1120.8 381.6,1119.6 C381.9,1118.3 381.9,1115.2 381.6,1114.0 C381.3,1112.8 378.6,1106.0 377.9,1104.7 C377.2,1103.5 373.6,1100.1 373.2,1099.0 C372.8,1097.9 373.0,1092.7 373.2,1091.6 C373.4,1090.5 375.7,1087.1 376.0,1086.0 C376.3,1084.9 377.0,1079.8 376.9,1078.5 C376.8,1077.2 374.9,1072.1 375.0,1071.0 C375.1,1069.9 377.7,1066.5 377.9,1065.4 C378.1,1064.3 378.5,1059.0 377.9,1057.9 C377.3,1056.8 371.4,1053.4 370.4,1052.3 C369.4,1051.2 365.7,1045.8 365.7,1044.9 C365.7,1044.0 369.7,1041.8 370.4,1041.1 C371.1,1040.4 374.3,1037.1 374.1,1036.4 C373.9,1035.7 369.6,1033.4 368.5,1032.7 C367.4,1032.0 361.9,1028.6 361.0,1028.0 C360.1,1027.4 358.2,1025.7 357.3,1025.2 C356.4,1024.7 350.7,1023.4 349.8,1022.4 C348.9,1021.4 346.9,1014.3 346.1,1013.1 C345.3,1011.9 341.4,1008.6 340.5,1007.5 C339.6,1006.4 336.7,1000.9 335.8,1000.0 C334.9,999.1 330.7,997.7 329.7,996.6 C328.7,995.5 324.8,988.0 323.7,986.8 C322.6,985.6 317.2,982.8 316.4,982.0 C315.6,981.2 314.9,977.9 313.9,977.1 C312.9,976.3 305.5,973.1 304.2,972.3 C302.9,971.5 298.5,968.4 298.1,967.4 C297.7,966.4 299.9,960.9 299.4,960.1 C298.9,959.3 293.7,958.7 292.1,957.7 C290.5,956.7 281.9,949.3 279.9,948.0 C277.9,946.7 269.5,942.6 267.8,941.9 C266.1,941.2 259.7,940.2 259.3,939.5 C258.9,938.8 262.2,934.3 262.9,933.4 C263.6,932.5 266.4,929.1 267.8,928.5 C269.2,927.9 278.3,926.8 279.9,926.1 C281.5,925.4 286.3,920.6 287.2,920.0 C288.1,919.4 290.9,919.5 290.9,918.8 C290.9,918.1 288.2,912.3 287.2,911.5 C286.2,910.7 279.9,909.8 278.7,909.1 C277.5,908.4 273.0,903.6 272.6,903.0 C272.2,902.4 274.0,902.3 273.8,901.8 C273.6,901.3 271.5,897.7 270.2,896.9 C268.9,896.1 259.8,892.1 258.0,892.1 C256.2,892.1 249.6,896.8 248.3,896.9 C247.0,897.0 243.0,893.9 242.2,893.3 C241.4,892.7 239.5,890.3 238.6,889.6 C237.7,888.9 232.1,886.2 231.3,884.8 C230.5,883.4 229.4,874.4 228.9,872.6 C228.4,870.8 226.2,864.2 225.2,862.9 C224.2,861.6 218.1,857.6 216.7,856.8 C215.3,856.0 209.4,854.0 208.2,853.2 C207.0,852.4 202.1,848.2 202.1,846.7Z" fill="#5569b2" stroke="#fff" stroke-width="1.1" stroke-linejoin="round"/>
<path d="M275.0,1220.0 C275.6,1219.0 278.2,1217.3 279.0,1218.0 C279.8,1218.7 279.8,1222.6 279.6,1224.0 C279.4,1225.4 278.7,1226.6 278.0,1226.6 C277.3,1226.6 276.0,1225.1 275.5,1224.0 C275.0,1222.9 274.4,1221.0 275.0,1220.0Z" fill="#5569b2" stroke="#fff" stroke-width="0.6"/>
<g fill="none" stroke="#fff" stroke-width="1.0" stroke-linejoin="round" stroke-linecap="round">
<path d="M218.1,852.1 C218.8,851.9 223.7,850.0 225.2,850.3 C226.7,850.6 231.9,854.4 233.2,854.7 C234.5,855.0 237.6,852.5 238.5,852.9 C239.4,853.3 241.4,857.2 242.1,858.3 C242.8,859.4 245.4,862.2 245.6,863.6 C245.8,865.0 244.3,870.9 243.8,872.5 C243.3,874.1 240.8,878.0 240.3,879.6 C239.8,881.2 238.6,887.3 238.5,888.5 C238.4,889.7 239.3,891.6 239.4,892.0"/>
<path d="M246.5,842.3 C247.0,843.0 250.8,848.0 251.8,849.4 C252.8,850.8 255.9,855.3 256.3,856.5 C256.7,857.7 254.9,861.0 255.4,861.8 C255.9,862.6 260.5,863.8 261.6,864.5 C262.7,865.2 265.4,868.0 266.0,868.9 C266.6,869.8 266.9,872.8 267.8,873.4 C268.7,874.0 273.5,874.8 274.9,875.1 C276.3,875.4 281.1,875.2 282.0,876.0 C282.9,876.8 283.3,881.9 283.8,883.1 C284.3,884.4 286.9,887.5 287.3,888.5 C287.7,889.5 288.1,892.5 288.2,892.9"/>
<path d="M256.3,856.5 C256.4,855.6 256.6,849.2 257.1,847.6 C257.6,846.0 261.0,842.1 261.6,840.5 C262.2,838.9 263.2,832.5 263.4,831.6"/>
<path d="M268.7,834.3 C269.0,835.1 270.5,841.0 271.3,842.3 C272.1,843.6 275.5,846.5 276.7,847.6 C277.9,848.8 281.8,852.7 282.9,853.8 C284.0,854.9 286.9,857.1 287.3,858.3 C287.7,859.5 287.4,864.0 287.3,865.4 C287.2,866.8 286.4,871.1 286.4,872.5 C286.4,873.9 286.9,878.0 287.3,879.6 C287.8,881.2 290.2,887.1 290.9,888.5 C291.6,889.9 293.5,892.9 294.4,893.8 C295.3,894.7 298.4,896.5 299.8,897.3 C301.2,898.1 307.4,901.2 308.6,901.8 C309.8,902.4 311.8,903.3 312.2,903.5"/>
<path d="M294.4,811.2 C294.3,812.0 293.3,817.7 293.5,819.2 C293.7,820.7 295.4,824.9 296.2,826.3 C297.0,827.7 300.8,832.0 301.5,833.4 C302.2,834.8 303.3,839.1 303.3,840.5 C303.3,841.9 301.5,846.0 301.5,847.6 C301.5,849.2 302.6,854.9 303.3,856.5 C304.0,858.1 307.7,862.2 308.6,863.6 C309.5,865.0 311.8,869.7 312.2,870.7 C312.6,871.7 313.0,873.1 313.1,873.4"/>
<path d="M296.2,826.3 C296.5,825.8 298.3,822.0 299.0,821.5 C299.7,821.0 302.6,821.5 303.0,821.5"/>
<path d="M303.3,834.3 C303.8,834.0 307.4,831.4 308.6,831.6 C309.8,831.8 314.4,835.2 315.7,836.1 C316.9,837.0 320.4,839.4 321.1,840.5 C321.8,841.6 322.8,846.0 322.8,847.6 C322.8,849.2 321.5,854.9 321.1,856.5 C320.8,858.1 319.1,862.5 319.3,863.6 C319.5,864.8 322.8,867.1 322.8,868.0 C322.8,868.9 319.8,871.7 319.3,872.5 C318.8,873.3 317.7,875.6 317.5,876.0"/>
<path d="M322.8,847.6 C323.2,846.8 326.8,840.3 327.3,839.6 C327.8,838.9 328.1,840.4 328.2,840.5"/>
<path d="M322.8,868.0 C323.5,867.7 328.5,865.5 329.9,865.4 C331.3,865.3 335.6,867.3 337.0,867.1 C338.4,866.9 342.7,863.8 344.1,863.6 C345.5,863.4 350.2,865.6 351.3,865.4 C352.4,865.2 354.3,862.4 354.8,861.8 C355.3,861.2 356.4,859.5 356.6,859.2"/>
<path d="M337.0,867.1 C337.5,867.8 341.3,873.3 342.4,874.2 C343.5,875.1 346.8,876.2 347.7,876.0 C348.6,875.8 350.2,872.5 351.3,872.5 C352.4,872.5 357.6,875.6 358.3,876.0"/>
<path d="M318.4,889.3 C318.8,889.8 321.8,893.0 322.8,893.8 C323.8,894.6 326.9,897.1 328.2,897.3 C329.4,897.5 334.6,895.8 335.3,895.6"/>
<path d="M317.5,893.8 C317.3,894.5 315.5,899.7 315.7,900.9 C315.9,902.1 318.3,905.1 319.3,906.2 C320.3,907.3 324.9,911.0 325.5,911.5"/>
<path d="M313.1,895.6 C313.0,896.4 312.3,901.7 312.2,903.5 C312.1,905.3 312.2,912.3 312.2,913.3"/>
<path d="M316.6,876.0 C317.1,876.2 321.1,878.0 322.0,878.0 C322.9,878.0 325.2,876.1 326.0,876.0 C326.8,875.9 329.5,876.8 329.9,876.9"/>
<path d="M287.3,858.3 C288.0,858.5 292.9,859.2 294.0,860.0 C295.1,860.8 297.6,864.3 298.0,866.0 C298.4,867.7 298.0,875.8 298.0,876.9"/>
<path d="M287.2,920.0 C287.7,920.8 291.0,927.4 292.0,928.0 C293.0,928.6 296.0,925.8 296.9,926.1 C297.8,926.4 300.2,930.5 300.6,931.0"/>
<path d="M299.4,960.1 C300.1,959.9 304.6,958.0 306.0,958.0 C307.4,958.0 313.1,959.8 313.9,960.0"/>
<path d="M313.9,977.1 C314.5,976.8 318.7,974.7 320.0,974.0 C321.3,973.3 326.6,970.2 327.3,969.8"/>
<path d="M329.7,996.6 C330.1,995.9 333.3,991.1 334.0,990.0 C334.7,988.9 336.7,986.0 337.0,985.6"/>
<path d="M346.1,1013.1 C346.7,1012.8 351.1,1010.7 352.0,1010.0 C352.9,1009.3 354.9,1006.7 355.2,1006.3"/>
<path d="M357.3,1025.2 C357.8,1024.7 361.2,1021.2 362.0,1020.0 C362.8,1018.8 364.7,1014.2 365.0,1013.6"/>
<path d="M374.1,1036.4 C374.7,1036.2 379.1,1034.8 380.0,1034.0 C380.9,1033.2 383.1,1028.6 383.5,1028.0"/>
<path d="M377.9,1057.9 C378.5,1058.1 382.8,1059.2 384.0,1060.0 C385.2,1060.8 389.0,1066.0 390.0,1066.0 C391.0,1066.0 392.8,1061.0 394.0,1060.0 C395.2,1059.0 400.6,1056.8 402.0,1056.0 C403.4,1055.2 407.2,1052.7 407.8,1052.3"/>
<path d="M376.9,1078.5 C377.4,1079.8 380.5,1090.8 382.0,1092.0 C383.5,1093.2 390.2,1090.8 392.0,1090.0 C393.8,1089.2 398.4,1085.0 400.0,1084.0 C401.6,1083.0 406.6,1080.8 408.0,1080.0 C409.4,1079.2 412.7,1076.7 414.0,1076.0 C415.3,1075.3 420.1,1073.2 420.8,1072.9"/>
<path d="M381.6,1114.0 C382.4,1114.4 388.2,1117.8 390.0,1118.0 C391.8,1118.2 398.2,1115.8 400.0,1116.0 C401.8,1116.2 406.8,1118.8 408.0,1120.0 C409.2,1121.2 411.0,1127.4 412.0,1128.0 C413.0,1128.6 417.6,1127.2 418.0,1126.0 C418.4,1124.8 415.4,1117.6 416.0,1116.0 C416.6,1114.4 422.7,1111.0 424.0,1110.0 C425.3,1109.0 428.8,1106.8 429.3,1106.5"/>
<path d="M381.6,1136.4 C382.4,1136.6 389.0,1137.0 390.0,1138.0 C391.0,1139.0 391.2,1144.6 392.0,1146.0 C392.8,1147.4 396.6,1151.2 398.0,1152.0 C399.4,1152.8 404.4,1154.2 406.0,1154.0 C407.6,1153.8 413.0,1151.4 414.0,1150.0 C415.0,1148.6 415.0,1141.6 416.0,1140.0 C417.0,1138.4 422.5,1134.4 424.0,1134.0 C425.5,1133.6 430.4,1136.2 431.1,1136.4"/>
<path d="M414.0,1150.0 C414.2,1151.0 416.0,1158.0 416.0,1160.0 C416.0,1162.0 413.8,1168.2 414.0,1170.0 C414.2,1171.8 416.9,1177.0 418.0,1178.0 C419.1,1179.0 423.9,1179.7 424.5,1179.9"/>
<path d="M371.3,1154.2 C371.6,1155.2 373.3,1162.2 374.0,1164.0 C374.7,1165.8 377.8,1170.4 378.0,1172.0 C378.2,1173.6 375.8,1178.2 376.0,1180.0 C376.2,1181.8 379.2,1188.2 380.0,1190.0 C380.8,1191.8 383.3,1196.5 384.0,1198.0 C384.7,1199.5 386.8,1204.4 387.1,1205.1"/>
<path d="M347.9,1173.8 C348.3,1174.2 351.4,1177.3 352.0,1178.0 C352.6,1178.7 353.4,1180.5 353.5,1180.8"/>
<path d="M362.9,1162.6 C363.2,1163.5 365.9,1170.3 366.0,1172.0 C366.1,1173.7 364.4,1178.7 364.0,1180.0 C363.6,1181.3 362.1,1185.0 361.9,1185.5"/>
<path d="M363.7,1193.0 C364.3,1193.3 368.8,1195.3 370.0,1196.0 C371.2,1196.7 374.9,1199.5 376.0,1200.0 C377.1,1200.5 380.1,1200.5 380.6,1200.5"/>
<path d="M342.2,1194.9 L346.9,1189.3"/>
<path d="M340.4,1200.5 C341.2,1200.8 346.5,1203.5 348.0,1204.0 C349.5,1204.5 354.6,1205.0 355.3,1205.1"/>
<path d="M325.4,1196.7 C325.9,1197.6 328.5,1204.7 330.0,1206.0 C331.5,1207.3 338.0,1209.4 340.0,1210.0 C342.0,1210.6 347.9,1211.6 350.0,1212.0 C352.1,1212.4 359.8,1213.4 360.9,1213.6"/>
<path d="M314.2,1201.4 C314.8,1202.3 318.4,1208.5 320.0,1210.0 C321.6,1211.5 327.8,1215.0 330.0,1216.0 C332.2,1217.0 339.8,1219.4 342.0,1220.0 C344.2,1220.6 350.1,1221.7 352.0,1222.0 C353.9,1222.3 360.0,1222.8 360.9,1222.9"/>
<path d="M307.7,1208.9 C308.3,1209.6 312.6,1214.5 314.0,1216.0 C315.4,1217.5 320.0,1222.6 322.0,1224.0 C324.0,1225.4 331.6,1229.0 334.0,1230.0 C336.4,1231.0 343.7,1233.8 346.0,1234.0 C348.3,1234.2 356.1,1232.4 357.2,1232.2"/>
<path d="M311.4,1230.4 C312.1,1230.6 316.7,1231.0 318.0,1232.0 C319.3,1233.0 322.4,1238.8 324.0,1240.0 C325.6,1241.2 332.1,1243.2 334.0,1244.0 C335.9,1244.8 342.3,1247.7 343.2,1248.1"/>
<path d="M305.8,1243.5 C306.4,1243.8 310.8,1246.0 312.0,1246.0 C313.2,1246.0 316.8,1244.6 318.0,1244.0 C319.2,1243.4 323.4,1240.4 324.0,1240.0"/>
<path d="M322.0,1224.0 L318.0,1232.0"/>
</g>
<path d="M272.2,902.7 C272.3,902.3 275.9,899.3 276.7,899.1 C277.5,898.9 281.2,900.1 282.0,900.0 C282.8,899.9 285.6,897.2 286.4,897.3 C287.2,897.4 290.8,900.3 291.8,900.9 C292.8,901.5 296.9,903.7 298.0,904.4 C299.1,905.1 303.9,908.2 305.1,908.9 C306.3,909.6 311.2,912.7 312.2,913.3 C313.2,913.9 316.8,915.8 317.5,916.0 C318.2,916.2 321.1,915.6 321.1,916.0 C321.1,916.4 317.9,920.3 317.5,921.3 C317.1,922.3 315.9,926.4 315.7,927.5 C315.5,928.6 315.2,933.8 314.9,934.6 C314.6,935.4 312.7,937.4 312.2,937.3 C311.7,937.1 309.5,933.5 308.6,932.8 C307.7,932.1 302.5,930.1 301.5,929.3 C300.5,928.5 297.7,924.1 297.1,923.1 C296.5,922.1 295.1,918.3 294.4,917.7 C293.7,917.1 289.5,916.6 289.1,916.0 C288.7,915.4 290.4,911.1 290.0,910.6 C289.6,910.1 284.6,910.2 283.8,909.8 C283.0,909.4 280.9,905.8 280.2,905.3 C279.5,904.8 275.6,904.6 274.9,904.4 C274.2,904.2 272.1,903.1 272.2,902.7Z" fill="#ed1c24" stroke="#fff" stroke-width="0.6"/>
<path d="M298.0,876.9 C298.5,876.4 302.2,875.8 303.3,876.0 C304.4,876.2 307.6,879.0 308.6,878.7 C309.6,878.4 312.3,873.7 313.1,873.4 C313.9,873.1 316.3,875.0 316.6,876.0 C316.9,877.0 315.5,881.8 315.7,883.1 C315.9,884.4 318.2,888.2 318.4,889.3 C318.6,890.4 318.0,893.2 317.5,893.8 C317.0,894.4 313.8,896.0 313.1,895.6 C312.4,895.2 311.1,891.2 310.4,890.2 C309.7,889.2 307.0,886.4 306.0,885.8 C305.0,885.2 301.4,884.5 300.6,884.0 C299.8,883.5 298.3,881.2 298.0,880.5 C297.7,879.8 297.5,877.4 298.0,876.9Z" fill="#f7a83f" stroke="#fff" stroke-width="0.5"/>
<path d="M324.6,883.1 C325.1,882.4 328.6,881.9 329.1,881.3 C329.6,880.7 329.5,877.2 329.9,876.9 C330.2,876.5 332.2,877.4 332.6,877.8 C333.1,878.2 333.5,880.8 334.4,881.3 C335.3,881.8 340.7,882.4 341.5,883.1 C342.3,883.8 342.7,887.5 342.4,888.5 C342.1,889.5 339.7,892.4 338.8,892.9 C337.9,893.4 334.6,894.0 333.5,893.8 C332.4,893.6 329.1,891.6 328.2,891.1 C327.3,890.6 325.0,889.3 324.6,888.5 C324.2,887.7 324.2,883.8 324.6,883.1Z" fill="#f7a83f" stroke="#fff" stroke-width="0.5"/>
<path d="M347.9,1182.7 C348.6,1181.9 352.6,1180.3 353.5,1180.8 C354.4,1181.3 356.4,1186.9 357.2,1187.4 C358.0,1187.9 361.2,1184.9 361.9,1185.5 C362.5,1186.1 363.8,1191.7 363.7,1193.0 C363.6,1194.3 361.1,1197.5 360.9,1198.6 C360.7,1199.7 362.5,1203.5 361.9,1204.2 C361.3,1204.9 356.2,1205.6 355.3,1205.1 C354.4,1204.6 353.1,1200.5 352.5,1199.5 C351.9,1198.5 350.3,1195.9 349.7,1194.9 C349.1,1193.9 347.1,1190.5 346.9,1189.3 C346.7,1188.1 347.2,1183.5 347.9,1182.7Z" fill="#f7a83f" stroke="#fff" stroke-width="0.5"/>
<path d="M369.3,1205.5 C369.2,1204.7 371.0,1201.9 371.5,1201.8 C372.0,1201.7 373.9,1204.5 374.5,1204.5 C375.1,1204.5 376.5,1201.5 377.0,1201.5 C377.5,1201.5 379.1,1204.1 379.5,1204.0 C379.9,1203.9 381.0,1200.2 381.5,1200.3 C382.0,1200.4 384.4,1204.2 384.5,1205.1 C384.6,1206.0 382.8,1208.3 382.0,1209.0 C381.2,1209.7 378.0,1211.9 377.0,1212.0 C376.0,1212.1 372.8,1210.7 372.0,1210.0 C371.2,1209.3 369.4,1206.3 369.3,1205.5Z" fill="#f7a83f" stroke="#fff" stroke-width="0.5"/>
<g fill="#f3f3f3" stroke="none"><path d="M360.5,1215 L344,1219.5 L360.8,1218.2Z"/><path d="M360.6,1221.5 L345,1222.5 L359.5,1226.5Z"/><path d="M358.5,1229 L343,1226.5 L356.5,1234Z"/><path d="M355,1237 L338,1230 L351.5,1241Z"/></g>
<path d="M312.7,904.2 L313.9,913.9 M328.5,903 L317.6,915.2" stroke="#e8872b" stroke-width="1.6" fill="none"/>
<path d="M308.6,924.4 L355.8,1187.9" stroke="#be1e2d" stroke-width="1.5" fill="none"/>
<circle cx="308.6" cy="924.4" r="5.2" fill="#bfe6f7" opacity="0.9"/><circle cx="308.6" cy="924.4" r="4.0" fill="#29abe2"/><circle cx="308.6" cy="924.4" r="1.40" fill="#e8f7fd"/>
<circle cx="364.2" cy="1195.3" r="4.4" fill="#bfe6f7" opacity="0.9"/><circle cx="364.2" cy="1195.3" r="3.2" fill="#29abe2"/><circle cx="364.2" cy="1195.3" r="1.12" fill="#e8f7fd"/>
<g fill="none" stroke="#174b9d" stroke-width="1.9" stroke-dasharray="14.5 14">
<path d="M336.0,945.0 C337.6,946.1 341.5,949.5 345.5,951.6 C349.5,953.7 352.9,955.3 360.0,957.7 C367.1,960.1 378.7,964.2 388.0,966.0 C397.3,967.8 406.7,968.9 416.0,968.6 C425.3,968.3 435.3,966.7 444.0,964.0 C452.7,961.3 460.3,957.5 468.0,952.6 C475.7,947.7 483.1,940.7 490.0,934.4 C496.9,928.1 503.3,922.7 509.4,915.0 C515.5,907.3 522.0,896.7 526.4,888.2 C530.8,879.7 533.6,871.3 536.0,864.0 C538.4,856.7 539.8,850.2 540.5,844.5 C541.2,838.8 540.9,834.8 540.5,829.9 C540.1,825.0 538.4,817.5 538.0,815.0"/>
<path d="M336.0,945.0 C337.6,946.1 341.7,949.5 345.5,951.6 C349.3,953.7 352.4,954.7 359.0,957.6 C365.6,960.5 375.7,965.4 385.0,969.0 C394.3,972.6 405.8,976.5 415.0,979.0 C424.2,981.5 430.8,983.0 440.0,984.0 C449.2,985.0 460.0,985.2 470.0,985.0 C480.0,984.8 489.2,984.3 500.0,982.5 C510.8,980.7 522.5,978.2 535.0,974.0 C547.5,969.8 561.7,963.2 575.0,957.5 C588.3,951.8 600.8,947.9 615.0,940.0 C629.2,932.1 645.8,920.8 660.0,910.0 C674.2,899.2 688.3,885.8 700.0,875.0 C711.7,864.2 721.7,855.8 730.0,845.0 C738.3,834.2 744.6,822.5 750.0,810.0 C755.4,797.5 760.0,781.7 762.5,770.0 C765.0,758.3 764.3,756.7 765.0,740.0 C765.7,723.3 765.8,693.3 766.5,670.0 C767.2,646.7 767.8,622.5 769.0,600.0 C770.2,577.5 771.8,556.7 774.0,535.0 C776.2,513.3 779.0,490.8 782.5,470.0 C786.0,449.2 790.0,426.3 795.0,410.0 C800.0,393.7 808.5,381.0 812.5,372.0 C816.5,363.0 817.5,360.8 819.3,356.1 C821.1,351.4 822.4,346.7 823.4,343.7 C824.4,340.7 825.1,338.9 825.5,338.0"/>
<path d="M336.0,945.0 C337.6,946.1 340.8,948.6 345.5,951.6 C350.2,954.6 357.9,958.5 364.5,962.8 C371.1,967.1 377.4,973.4 385.0,977.5 C392.6,981.6 400.8,984.2 410.0,987.5 C419.2,990.8 430.0,994.8 440.0,997.5 C450.0,1000.2 460.0,1002.8 470.0,1004.0 C480.0,1005.2 489.2,1005.2 500.0,1005.0 C510.8,1004.8 524.2,1004.2 535.0,1002.5 C545.8,1000.8 552.5,1000.4 565.0,995.0 C577.5,989.6 595.0,979.6 610.0,970.0 C625.0,960.4 640.8,948.3 655.0,937.5 C669.2,926.7 680.8,917.1 695.0,905.0 C709.2,892.9 725.8,878.8 740.0,865.0 C754.2,851.2 767.5,836.2 780.0,822.5 C792.5,808.8 805.0,795.0 815.0,782.5 C825.0,770.0 830.0,763.8 840.0,747.5 C850.0,731.2 865.8,701.2 875.0,685.0 C884.2,668.8 888.3,663.3 895.0,650.0 C901.7,636.7 908.3,621.7 915.0,605.0 C921.7,588.3 928.3,570.8 935.0,550.0 C941.7,529.2 949.2,501.7 955.0,480.0 C960.8,458.3 966.1,435.5 970.0,420.0 C973.9,404.5 975.6,398.9 978.6,386.9 C981.6,374.9 985.8,356.3 987.8,347.8 C989.8,339.3 990.0,338.0 990.5,336.0"/>
<path d="M336.0,945.0 C337.6,946.1 342.5,948.8 345.5,951.6 C348.5,954.4 349.1,956.7 354.0,961.9 C358.9,967.1 368.0,975.6 375.0,982.8 C382.0,990.0 389.8,997.7 395.9,1005.1 C402.0,1012.5 406.4,1019.7 411.6,1027.3 C416.8,1034.9 422.5,1042.6 427.3,1050.9 C432.1,1059.2 436.2,1068.3 440.4,1077.0 C444.5,1085.7 448.9,1093.6 452.2,1103.2 C455.5,1112.8 458.5,1124.6 460.0,1134.6 C461.5,1144.6 461.9,1154.7 461.3,1163.4 C460.7,1172.1 458.3,1180.9 456.1,1187.0 C453.9,1193.1 451.4,1196.2 448.0,1200.0 C444.6,1203.8 440.4,1207.0 435.7,1209.8 C431.0,1212.6 425.4,1215.1 420.0,1217.0 C414.6,1218.9 407.7,1220.2 403.0,1221.0 C398.3,1221.8 393.8,1221.8 392.0,1222.0"/>
<path d="M336.0,945.0 C337.6,946.1 341.2,948.4 345.5,951.6 C349.8,954.9 355.7,958.9 361.9,964.5 C368.1,970.1 375.8,978.4 382.8,985.4 C389.8,992.4 397.1,999.4 403.7,1006.4 C410.2,1013.4 415.6,1020.1 422.1,1027.3 C428.7,1034.5 436.5,1041.9 443.0,1049.5 C449.5,1057.1 455.2,1065.0 461.3,1073.1 C467.4,1081.2 474.2,1089.9 479.6,1098.0 C485.1,1106.1 489.4,1113.7 494.0,1121.5 C498.6,1129.3 503.2,1137.2 507.1,1145.1 C511.0,1152.9 514.8,1160.8 517.6,1168.6 C520.4,1176.4 522.8,1184.5 524.1,1192.2 C525.4,1199.9 525.5,1207.9 525.6,1215.0 C525.8,1222.1 526.4,1225.0 525.0,1235.0 C523.6,1245.0 521.2,1262.5 517.5,1275.0 C513.8,1287.5 508.3,1299.2 502.5,1310.0 C496.7,1320.8 490.4,1330.0 482.5,1340.0 C474.6,1350.0 464.6,1360.4 455.0,1370.0 C445.4,1379.6 435.8,1388.3 425.0,1397.5 C414.2,1406.7 401.7,1416.2 390.0,1425.0 C378.3,1433.8 365.8,1442.5 355.0,1450.0 C344.2,1457.5 332.5,1465.0 325.0,1470.0 C317.5,1475.0 312.5,1478.3 310.0,1480.0"/>
</g>
<path d="M350,908 C351,918 348,928 336,933" fill="none" stroke="#174b9d" stroke-width="1.8" stroke-dasharray="5 4.5"/>
<path d="M335.8,945.5 L345.5,951.6" stroke="#174b9d" stroke-width="2.5" fill="none"/>
<g transform="translate(828.1,331.4) scale(0.4653)"><circle r="16.6" fill="#fff" opacity="0.85"/><circle r="14.4" fill="#174b9d"/><circle cx="0" cy="-7.2" r="1.55" fill="none" stroke="#fff" stroke-width="1.4"/><rect x="-3.5" y="-4.7" width="7" height="2" fill="#fff"/><rect x="-1.05" y="-5.6" width="2.1" height="14.6" fill="#fff"/><path d="M-8.5,1.4 L-5.5,2.0 L0,7.5 L5.5,2.0 L8.5,1.4 L7.7,3.9 L0,10.3 L-7.7,3.9Z" fill="#fff"/></g>
<g transform="translate(993.0,326.9) scale(0.4653)"><circle r="16.6" fill="#fff" opacity="0.85"/><circle r="14.4" fill="#174b9d"/><circle cx="0" cy="-7.2" r="1.55" fill="none" stroke="#fff" stroke-width="1.4"/><rect x="-3.5" y="-4.7" width="7" height="2" fill="#fff"/><rect x="-1.05" y="-5.6" width="2.1" height="14.6" fill="#fff"/><path d="M-8.5,1.4 L-5.5,2.0 L0,7.5 L5.5,2.0 L8.5,1.4 L7.7,3.9 L0,10.3 L-7.7,3.9Z" fill="#fff"/></g>
<g transform="translate(533.2,805.6) scale(0.4653)"><circle r="16.6" fill="#fff" opacity="0.85"/><circle r="14.4" fill="#174b9d"/><circle cx="0" cy="-7.2" r="1.55" fill="none" stroke="#fff" stroke-width="1.4"/><rect x="-3.5" y="-4.7" width="7" height="2" fill="#fff"/><rect x="-1.05" y="-5.6" width="2.1" height="14.6" fill="#fff"/><path d="M-8.5,1.4 L-5.5,2.0 L0,7.5 L5.5,2.0 L8.5,1.4 L7.7,3.9 L0,10.3 L-7.7,3.9Z" fill="#fff"/></g>
<g transform="translate(349.9,900.6) scale(0.4653)"><circle r="16.6" fill="#fff" opacity="0.85"/><circle r="14.4" fill="#174b9d"/><circle cx="0" cy="-7.2" r="1.55" fill="none" stroke="#fff" stroke-width="1.4"/><rect x="-3.5" y="-4.7" width="7" height="2" fill="#fff"/><rect x="-1.05" y="-5.6" width="2.1" height="14.6" fill="#fff"/><path d="M-8.5,1.4 L-5.5,2.0 L0,7.5 L5.5,2.0 L8.5,1.4 L7.7,3.9 L0,10.3 L-7.7,3.9Z" fill="#fff"/></g>
<g transform="translate(328.5,938.7) scale(0.4653)"><circle r="16.6" fill="#fff" opacity="0.85"/><circle r="14.4" fill="#174b9d"/><circle cx="0" cy="-7.2" r="1.55" fill="none" stroke="#fff" stroke-width="1.4"/><rect x="-3.5" y="-4.7" width="7" height="2" fill="#fff"/><rect x="-1.05" y="-5.6" width="2.1" height="14.6" fill="#fff"/><path d="M-8.5,1.4 L-5.5,2.0 L0,7.5 L5.5,2.0 L8.5,1.4 L7.7,3.9 L0,10.3 L-7.7,3.9Z" fill="#fff"/></g>
<g transform="translate(381.9,1222.0) scale(0.4653)"><circle r="16.6" fill="#fff" opacity="0.85"/><circle r="14.4" fill="#174b9d"/><circle cx="0" cy="-7.2" r="1.55" fill="none" stroke="#fff" stroke-width="1.4"/><rect x="-3.5" y="-4.7" width="7" height="2" fill="#fff"/><rect x="-1.05" y="-5.6" width="2.1" height="14.6" fill="#fff"/><path d="M-8.5,1.4 L-5.5,2.0 L0,7.5 L5.5,2.0 L8.5,1.4 L7.7,3.9 L0,10.3 L-7.7,3.9Z" fill="#fff"/></g>
<g fill="#6a79ba">
<circle cx="521" cy="1001" r="0.9"/>
<circle cx="524" cy="1004" r="0.9"/>
<circle cx="526" cy="1002" r="0.9"/>
<circle cx="502" cy="1016" r="0.9"/>
<circle cx="503" cy="1024" r="0.9"/>
<circle cx="505" cy="1027" r="0.9"/>
<circle cx="508" cy="1026" r="0.9"/>
<circle cx="505" cy="1033" r="0.9"/>
<circle cx="532" cy="1033" r="0.9"/>
<circle cx="535" cy="1033" r="0.9"/>
<circle cx="484" cy="1042" r="0.9"/>
<circle cx="494" cy="1003" r="0.9"/>
<circle cx="548" cy="1113" r="0.9"/>
<circle cx="544" cy="1116" r="0.9"/>
<circle cx="507" cy="1129" r="0.9"/>
<circle cx="505" cy="1156" r="0.9"/>
<circle cx="509" cy="1158" r="0.9"/>
<circle cx="514" cy="1148" r="0.9"/>
<circle cx="519" cy="1149" r="0.9"/>
<circle cx="524" cy="1146" r="0.9"/>
<circle cx="527" cy="1143" r="0.9"/>
<circle cx="534" cy="1147" r="0.9"/>
<circle cx="540" cy="1146" r="0.9"/>
<circle cx="545" cy="1144" r="0.9"/>
<circle cx="498" cy="1157" r="0.9"/>
</g>
</g>
<text x="796.6" y="316.6" font-size="19" font-weight="bold" fill="#1c4a9c" text-anchor="start" textLength="63.6" lengthAdjust="spacingAndGlyphs" stroke="#1c4a9c" stroke-width="0.4" stroke-linejoin="round">Busan</text>
<text x="959.6" y="310.9" font-size="19" font-weight="bold" fill="#1c4a9c" text-anchor="start" textLength="60.4" lengthAdjust="spacingAndGlyphs" stroke="#1c4a9c" stroke-width="0.4" stroke-linejoin="round">Tokyo</text>
<text x="472.6" y="783.5" font-size="19.8" font-weight="bold" fill="#1c4a9c" text-anchor="start" textLength="129.0" lengthAdjust="spacingAndGlyphs" stroke="#1c4a9c" stroke-width="0.4" stroke-linejoin="round">HONG KONG</text>
<text x="286.7" y="865.3" font-size="11" font-weight="bold" fill="#f5a947" text-anchor="start" textLength="35.7" lengthAdjust="spacingAndGlyphs">Hanoi</text>
<text x="344.3" y="887.2" font-size="11" font-weight="bold" fill="#f5a947" text-anchor="start" textLength="61.5" lengthAdjust="spacingAndGlyphs">Haiphong</text>
<text x="371.5" y="1191.6" font-size="11.8" font-weight="bold" fill="#f5a947" text-anchor="start" textLength="104.5" lengthAdjust="spacingAndGlyphs">Ho Chi Minh City</text>
<text x="510.5" y="1016.8" font-size="12" font-weight="bold" fill="#5c6cb3" text-anchor="start" textLength="58.1" lengthAdjust="spacingAndGlyphs">Hoang Sa</text>
<text x="519.4" y="1028.6" font-size="12" font-weight="normal" fill="#8e98c8" text-anchor="start" textLength="40.8" lengthAdjust="spacingAndGlyphs">Islands</text>
<text x="523.6" y="1130.7" font-size="12" font-weight="bold" fill="#5c6cb3" text-anchor="start" textLength="61.3" lengthAdjust="spacingAndGlyphs">Truong Sa</text>
<text x="533.8" y="1142.5" font-size="12" font-weight="normal" fill="#8e98c8" text-anchor="start" textLength="40.6" lengthAdjust="spacingAndGlyphs">Islands</text>
<rect x="43" y="52.3" width="678.6" height="514.6" rx="24.6" ry="20.6" fill="#fff" fill-opacity="0.63"/>
<g fill="none" stroke="#7984c6">
<path d="M43,72.9 A24.6,20.6 0 0 1 67.6,52.3 L697,52.3 A24.6,20.6 0 0 1 721.6,72.9" stroke-width="2.1" stroke-dasharray="21 21.1" stroke-dashoffset="6"/>
<path d="M43,546.3 A24.6,20.6 0 0 0 67.6,566.9 L697,566.9 A24.6,20.6 0 0 0 721.6,546.3" stroke-width="2.1" stroke-dasharray="21 21.1" stroke-dashoffset="-3.9"/>
<path d="M43.2,83.8 L43.2,546.3" stroke-width="2.9" stroke-dasharray="13.4 12.8"/>
<path d="M721.5,73.8 L721.5,546.3" stroke-width="2.9" stroke-dasharray="13.4 12.8"/>
</g>
<rect x="85.6" y="35.2" width="393.7" height="33.4" rx="10" ry="10" fill="#174b9d"/>
<text x="103.2" y="58.4" font-size="17.4" font-weight="bold" fill="#fff" text-anchor="start" textLength="359.5" lengthAdjust="spacingAndGlyphs" stroke="#fff" stroke-width="0.45" stroke-linejoin="round">ИЗ ГЛУБОКОВОДНОГО ПОРТА НГИШОН</text>
<rect x="71.3" y="98.5" width="45" height="44.7" fill="#f5f5f5"/>
<rect x="116.3" y="102.2" width="554.9" height="37.4" fill="#174b9d"/>
<g transform="translate(93.5,120.7) scale(1.0000)"><circle r="14.4" fill="#174b9d"/><circle cx="0" cy="-7.2" r="1.55" fill="none" stroke="#fff" stroke-width="1.4"/><rect x="-3.5" y="-4.7" width="7" height="2" fill="#fff"/><rect x="-1.05" y="-5.6" width="2.1" height="14.6" fill="#fff"/><path d="M-8.5,1.4 L-5.5,2.0 L0,7.5 L5.5,2.0 L8.5,1.4 L7.7,3.9 L0,10.3 L-7.7,3.9Z" fill="#fff"/></g>
<text x="125.2" y="129.9" font-size="18.6" font-weight="bold" fill="#fff" text-anchor="start" textLength="493.4" lengthAdjust="spacingAndGlyphs" stroke="#fff" stroke-width="0.5" stroke-linejoin="round">ДО ПОРТА ХАЙФОН СОСТАВЛЯЕТ 119 МОРСКИХ МИЛЬ</text>
<rect x="71.3" y="163.4" width="45" height="44.7" fill="#f5f5f5"/>
<rect x="116.3" y="167.1" width="554.9" height="37.4" fill="#174b9d"/>
<g transform="translate(93.5,185.6) scale(1.0000)"><circle r="14.4" fill="#174b9d"/><circle cx="0" cy="-7.2" r="1.55" fill="none" stroke="#fff" stroke-width="1.4"/><rect x="-3.5" y="-4.7" width="7" height="2" fill="#fff"/><rect x="-1.05" y="-5.6" width="2.1" height="14.6" fill="#fff"/><path d="M-8.5,1.4 L-5.5,2.0 L0,7.5 L5.5,2.0 L8.5,1.4 L7.7,3.9 L0,10.3 L-7.7,3.9Z" fill="#fff"/></g>
<text x="125.2" y="194.8" font-size="18.6" font-weight="bold" fill="#fff" text-anchor="start" textLength="527.3" lengthAdjust="spacingAndGlyphs" stroke="#fff" stroke-width="0.5" stroke-linejoin="round">ДО ПОРТА ГОНКОНГА СОСТАВЛЯЕТ 650 МОРСКИХ МИЛЯХ</text>
<rect x="71.3" y="228.2" width="45" height="44.7" fill="#f5f5f5"/>
<rect x="116.3" y="231.9" width="554.9" height="37.4" fill="#174b9d"/>
<g transform="translate(93.5,250.4) scale(1.0000)"><circle r="14.4" fill="#174b9d"/><circle cx="0" cy="-7.2" r="1.55" fill="none" stroke="#fff" stroke-width="1.4"/><rect x="-3.5" y="-4.7" width="7" height="2" fill="#fff"/><rect x="-1.05" y="-5.6" width="2.1" height="14.6" fill="#fff"/><path d="M-8.5,1.4 L-5.5,2.0 L0,7.5 L5.5,2.0 L8.5,1.4 L7.7,3.9 L0,10.3 L-7.7,3.9Z" fill="#fff"/></g>
<text x="125.2" y="259.6" font-size="18.6" font-weight="bold" fill="#fff" text-anchor="start" textLength="528.8" lengthAdjust="spacingAndGlyphs" stroke="#fff" stroke-width="0.5" stroke-linejoin="round">ДО ПОРТА СИНГАПУР СОСТАВЛЯЕТ 1.280 МОРСКИХ МИЛЬ</text>
<rect x="71.3" y="293.1" width="45" height="44.7" fill="#f5f5f5"/>
<rect x="116.3" y="296.8" width="554.9" height="37.4" fill="#174b9d"/>
<g transform="translate(93.5,315.3) scale(1.0000)"><circle r="14.4" fill="#174b9d"/><circle cx="0" cy="-7.2" r="1.55" fill="none" stroke="#fff" stroke-width="1.4"/><rect x="-3.5" y="-4.7" width="7" height="2" fill="#fff"/><rect x="-1.05" y="-5.6" width="2.1" height="14.6" fill="#fff"/><path d="M-8.5,1.4 L-5.5,2.0 L0,7.5 L5.5,2.0 L8.5,1.4 L7.7,3.9 L0,10.3 L-7.7,3.9Z" fill="#fff"/></g>
<text x="125.2" y="324.5" font-size="18.6" font-weight="bold" fill="#fff" text-anchor="start" textLength="379.8" lengthAdjust="spacingAndGlyphs" stroke="#fff" stroke-width="0.5" stroke-linejoin="round">ДО ПОРТА ПУСАН - 1.200 МОРСКИХ МИЛЬ</text>
<rect x="71.3" y="358.0" width="45" height="44.7" fill="#f5f5f5"/>
<rect x="116.3" y="361.7" width="554.9" height="37.4" fill="#174b9d"/>
<g transform="translate(93.5,380.2) scale(1.0000)"><circle r="14.4" fill="#174b9d"/><circle cx="0" cy="-7.2" r="1.55" fill="none" stroke="#fff" stroke-width="1.4"/><rect x="-3.5" y="-4.7" width="7" height="2" fill="#fff"/><rect x="-1.05" y="-5.6" width="2.1" height="14.6" fill="#fff"/><path d="M-8.5,1.4 L-5.5,2.0 L0,7.5 L5.5,2.0 L8.5,1.4 L7.7,3.9 L0,10.3 L-7.7,3.9Z" fill="#fff"/></g>
<text x="125.2" y="389.4" font-size="18.6" font-weight="bold" fill="#fff" text-anchor="start" textLength="369.8" lengthAdjust="spacingAndGlyphs" stroke="#fff" stroke-width="0.5" stroke-linejoin="round">ДО ПОРТА ТОКИО 1.900 МОРСКИХ МИЛЬ</text>
<rect x="71.3" y="422.9" width="45" height="44.7" fill="#f5f5f5"/>
<rect x="116.3" y="426.6" width="554.9" height="37.4" fill="#174b9d"/>
<g transform="translate(93.5,445.1) scale(1.0000)"><circle r="14.4" fill="#174b9d"/><circle cx="0" cy="-7.2" r="1.55" fill="none" stroke="#fff" stroke-width="1.4"/><rect x="-3.5" y="-4.7" width="7" height="2" fill="#fff"/><rect x="-1.05" y="-5.6" width="2.1" height="14.6" fill="#fff"/><path d="M-8.5,1.4 L-5.5,2.0 L0,7.5 L5.5,2.0 L8.5,1.4 L7.7,3.9 L0,10.3 L-7.7,3.9Z" fill="#fff"/></g>
<text x="125.2" y="454.2" font-size="18.6" font-weight="bold" fill="#fff" text-anchor="start" textLength="472.3" lengthAdjust="spacingAndGlyphs" stroke="#fff" stroke-width="0.5" stroke-linejoin="round">ДО ПОРТА ЛОС-АНДЖЕЛЕСА 7.500 МОРСКИХ МИЛЬ</text>
<rect x="71.3" y="487.7" width="45" height="44.7" fill="#f5f5f5"/>
<rect x="116.3" y="491.4" width="554.9" height="37.4" fill="#174b9d"/>
<g transform="translate(93.5,509.9) scale(1.0000)"><circle r="14.4" fill="#174b9d"/><circle cx="0" cy="-7.2" r="1.55" fill="none" stroke="#fff" stroke-width="1.4"/><rect x="-3.5" y="-4.7" width="7" height="2" fill="#fff"/><rect x="-1.05" y="-5.6" width="2.1" height="14.6" fill="#fff"/><path d="M-8.5,1.4 L-5.5,2.0 L0,7.5 L5.5,2.0 L8.5,1.4 L7.7,3.9 L0,10.3 L-7.7,3.9Z" fill="#fff"/></g>
<text x="125.2" y="519.1" font-size="18.6" font-weight="bold" fill="#fff" text-anchor="start" textLength="423.8" lengthAdjust="spacingAndGlyphs" stroke="#fff" stroke-width="0.5" stroke-linejoin="round">ДО ПОРТА РОТТЕРДАМ 9.000 МОРСКИХ МИЛЬ</text>
<rect x="581.9" y="1154" width="449.6" height="252.2" rx="12" ry="12" fill="#fff" fill-opacity="0.63" stroke="#8f99cf" stroke-width="1.15" stroke-dasharray="13 6.2" stroke-dashoffset="-3"/>
<rect x="673.4" y="1137.4" width="265.6" height="33.3" rx="8" ry="8" fill="#174b9d"/>
<text x="715.4" y="1160.7" font-size="18.4" font-weight="bold" fill="#fff" text-anchor="start" textLength="182.6" lengthAdjust="spacingAndGlyphs" stroke="#fff" stroke-width="0.5" stroke-linejoin="round">ОТ ТХАНЬХОА ДО</text>
<rect x="674.6" y="1207.6" width="309.6" height="37.8" fill="#e27726"/>
<path d="M629.2,1203.8 L674.8,1206.0 L674.8,1247.2 L629.2,1249.6Z" fill="#174b9d"/>
<circle cx="651.8" cy="1226.5" r="14.6" fill="#fff"/>
<g transform="translate(651.8,1226.5)" fill="#174b9d"><path d="M-11.8,2.6 L-11.6,-0.6 C-10.5,-2.2 -8,-2.4 -6.2,-2.6 C-4.5,-3.8 -3,-4.3 -0.5,-4.3 C1.8,-4.3 3.2,-3.6 4.8,-2.5 C8,-2.2 10.8,-1.3 11.8,0.6 L11.9,2.4 L11,3 L-11,3Z"/><path d="M-4.8,-2.5 C-3.6,-3.4 -2.2,-3.7 -0.4,-3.7 C1.2,-3.7 2.2,-3.2 3.2,-2.5Z" fill="#fff" opacity="0.85"/><circle cx="-7.2" cy="2.5" r="1.7" fill="#fff"/><circle cx="7.3" cy="2.5" r="1.7" fill="#fff"/></g>
<rect x="674.6" y="1272.4" width="309.6" height="37.9" fill="#e27726"/>
<path d="M629.2,1268.6 L674.8,1270.8 L674.8,1312.1 L629.2,1314.5Z" fill="#174b9d"/>
<circle cx="651.8" cy="1291.3" r="14.6" fill="#fff"/>
<g transform="translate(651.8,1291.3)" fill="#174b9d"><path d="M-11.8,2.6 L-11.6,-0.6 C-10.5,-2.2 -8,-2.4 -6.2,-2.6 C-4.5,-3.8 -3,-4.3 -0.5,-4.3 C1.8,-4.3 3.2,-3.6 4.8,-2.5 C8,-2.2 10.8,-1.3 11.8,0.6 L11.9,2.4 L11,3 L-11,3Z"/><path d="M-4.8,-2.5 C-3.6,-3.4 -2.2,-3.7 -0.4,-3.7 C1.2,-3.7 2.2,-3.2 3.2,-2.5Z" fill="#fff" opacity="0.85"/><circle cx="-7.2" cy="2.5" r="1.7" fill="#fff"/><circle cx="7.3" cy="2.5" r="1.7" fill="#fff"/></g>
<rect x="674.6" y="1337.1" width="309.6" height="38.2" fill="#be1e2d"/>
<path d="M629.2,1333.3 L674.8,1335.5 L674.8,1377.1 L629.2,1379.5Z" fill="#174b9d"/>
<circle cx="651.8" cy="1356.2" r="14.6" fill="#fff"/>
<g transform="translate(651.8,1356.5)" fill="#174b9d"><ellipse cx="0" cy="1.2" rx="1.95" ry="4.3"/><path d="M-11.2,-1.6 L-1.4,0.4 L-1.4,2.6 L-11.2,-0.8Z M11.2,-1.6 L1.4,0.4 L1.4,2.6 L11.2,-0.8Z"/><path d="M-0.35,-6.8 L0.35,-6.8 L0.6,-2 L-0.6,-2Z"/><path d="M-3,-3.8 L0,-3 L4,-4.2 L4,-3.6 L0,-2 L-3,-3.2Z"/><rect x="-6.8" y="1.5" width="2" height="2"/><rect x="4.2" y="1.5" width="2" height="2"/></g>
<text x="687.8" y="1234.8" font-size="16.8" font-weight="bold" fill="#fff" text-anchor="start" textLength="142.4" lengthAdjust="spacingAndGlyphs" stroke="#fff" stroke-width="0.45" stroke-linejoin="round">ХАНОЯ - 150 КМ</text>
<text x="687.8" y="1299.7" font-size="16.8" font-weight="bold" fill="#fff" text-anchor="start" textLength="173.2" lengthAdjust="spacingAndGlyphs" stroke="#fff" stroke-width="0.45" stroke-linejoin="round">ХАЙФОНА - 199 КМ</text>
<text x="685.7" y="1350.5" font-size="16.2" font-weight="bold" fill="#fff" text-anchor="start" textLength="195.4" lengthAdjust="spacingAndGlyphs" stroke="#fff" stroke-width="0.45" stroke-linejoin="round">ГОРОДА ХОШИМИНА</text>
<text x="685.7" y="1370.9" font-size="16.2" font-weight="bold" fill="#fff" text-anchor="start" textLength="140.6" lengthAdjust="spacingAndGlyphs" stroke="#fff" stroke-width="0.45" stroke-linejoin="round">- 1 час 40 минут</text>
</svg></body></html>
